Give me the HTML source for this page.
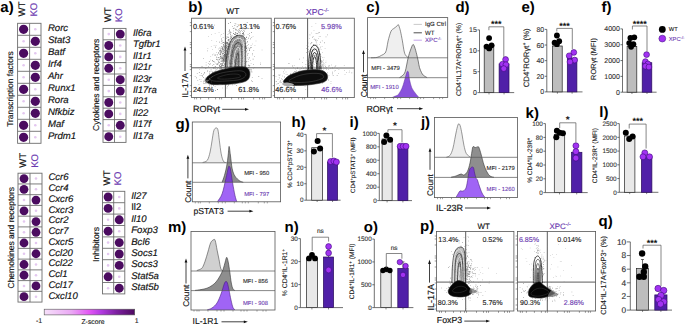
<!DOCTYPE html>
<html><head><meta charset="utf-8"><style>
html,body{margin:0;padding:0;background:#fff;width:685px;height:325px;overflow:hidden;}
svg{display:block;font-family:"Liberation Sans", sans-serif;text-rendering:geometricPrecision;}
</style></head><body>
<svg width="685" height="325" viewBox="0 0 685 325">
<rect width="685" height="325" fill="#fff"/>
<text x="0.3" y="11.6" font-size="15" fill="#000" font-weight="bold">a)</text>
<rect x="17.6" y="23.3" width="23.4" height="120" fill="#fff" stroke="#6e6e6e" stroke-width="0.9"/>
<line x1="29.6" y1="23.3" x2="29.6" y2="143.3" stroke="#6e6e6e" stroke-width="0.9"/>
<line x1="17.6" y1="35.3" x2="41" y2="35.3" stroke="#6e6e6e" stroke-width="0.9"/>
<line x1="17.6" y1="47.3" x2="41" y2="47.3" stroke="#6e6e6e" stroke-width="0.9"/>
<line x1="17.6" y1="59.3" x2="41" y2="59.3" stroke="#6e6e6e" stroke-width="0.9"/>
<line x1="17.6" y1="71.3" x2="41" y2="71.3" stroke="#6e6e6e" stroke-width="0.9"/>
<line x1="17.6" y1="83.3" x2="41" y2="83.3" stroke="#6e6e6e" stroke-width="0.9"/>
<line x1="17.6" y1="95.3" x2="41" y2="95.3" stroke="#6e6e6e" stroke-width="0.9"/>
<line x1="17.6" y1="107.3" x2="41" y2="107.3" stroke="#6e6e6e" stroke-width="0.9"/>
<line x1="17.6" y1="119.3" x2="41" y2="119.3" stroke="#6e6e6e" stroke-width="0.9"/>
<line x1="17.6" y1="131.3" x2="41" y2="131.3" stroke="#6e6e6e" stroke-width="0.9"/>
<circle cx="23.6" cy="29.3" r="4.6" fill="#4b0c60"/>
<circle cx="35.3" cy="29.3" r="1.3" fill="#e4c8f0"/>
<text x="47.9" y="31.2" font-size="9.6" fill="#111" font-style="italic" stroke="#111" stroke-width="0.1632">Rorc</text>
<circle cx="35.3" cy="41.3" r="4.6" fill="#4b0c60"/>
<circle cx="23.6" cy="41.3" r="1.3" fill="#e4c8f0"/>
<text x="47.9" y="43.2" font-size="9.6" fill="#111" font-style="italic" stroke="#111" stroke-width="0.1632">Stat3</text>
<circle cx="23.6" cy="53.3" r="4.6" fill="#4b0c60"/>
<circle cx="35.3" cy="53.3" r="1.3" fill="#e4c8f0"/>
<text x="47.9" y="55.2" font-size="9.6" fill="#111" font-style="italic" stroke="#111" stroke-width="0.1632">Batf</text>
<circle cx="35.3" cy="65.3" r="4.6" fill="#4b0c60"/>
<circle cx="23.6" cy="65.3" r="1.3" fill="#e4c8f0"/>
<text x="47.9" y="67.2" font-size="9.6" fill="#111" font-style="italic" stroke="#111" stroke-width="0.1632">Irf4</text>
<circle cx="35.3" cy="77.3" r="4.6" fill="#4b0c60"/>
<circle cx="23.6" cy="77.3" r="1.3" fill="#e4c8f0"/>
<text x="47.9" y="79.2" font-size="9.6" fill="#111" font-style="italic" stroke="#111" stroke-width="0.1632">Ahr</text>
<circle cx="23.6" cy="89.3" r="4.6" fill="#4b0c60"/>
<circle cx="35.3" cy="89.3" r="1.3" fill="#e4c8f0"/>
<text x="47.9" y="91.2" font-size="9.6" fill="#111" font-style="italic" stroke="#111" stroke-width="0.1632">Runx1</text>
<circle cx="35.3" cy="101.3" r="4.6" fill="#4b0c60"/>
<circle cx="23.6" cy="101.3" r="1.3" fill="#e4c8f0"/>
<text x="47.9" y="103.2" font-size="9.6" fill="#111" font-style="italic" stroke="#111" stroke-width="0.1632">Rora</text>
<circle cx="35.3" cy="113.3" r="4.6" fill="#4b0c60"/>
<circle cx="23.6" cy="113.3" r="1.3" fill="#e4c8f0"/>
<text x="47.9" y="115.2" font-size="9.6" fill="#111" font-style="italic" stroke="#111" stroke-width="0.1632">Nfkbiz</text>
<circle cx="23.6" cy="125.3" r="4.6" fill="#4b0c60"/>
<circle cx="35.3" cy="125.3" r="1.3" fill="#e4c8f0"/>
<text x="47.9" y="127.2" font-size="9.6" fill="#111" font-style="italic" stroke="#111" stroke-width="0.1632">Maf</text>
<circle cx="23.6" cy="137.3" r="4.6" fill="#4b0c60"/>
<circle cx="35.3" cy="137.3" r="1.3" fill="#e4c8f0"/>
<text x="47.9" y="139.2" font-size="9.6" fill="#111" font-style="italic" stroke="#111" stroke-width="0.1632">Prdm1</text>
<text transform="translate(25.1,16.6) rotate(-90)" font-size="9.6" fill="#111" stroke="#111" stroke-width="0.1632">WT</text>
<text transform="translate(37.2,16.6) rotate(-90)" font-size="9.6" fill="#6a38b0" stroke="#6a38b0" stroke-width="0.1632">KO</text>
<text transform="translate(12.9,89) rotate(-90)" font-size="8.4" fill="#111" text-anchor="middle" stroke="#111" stroke-width="0.1428">Transcription factors</text>
<rect x="103" y="28.4" width="23" height="114" fill="#fff" stroke="#6e6e6e" stroke-width="0.9"/>
<line x1="114.5" y1="28.4" x2="114.5" y2="142.4" stroke="#6e6e6e" stroke-width="0.9"/>
<line x1="103" y1="39.8" x2="126" y2="39.8" stroke="#6e6e6e" stroke-width="0.9"/>
<line x1="103" y1="51.2" x2="126" y2="51.2" stroke="#6e6e6e" stroke-width="0.9"/>
<line x1="103" y1="62.6" x2="126" y2="62.6" stroke="#6e6e6e" stroke-width="0.9"/>
<line x1="103" y1="74" x2="126" y2="74" stroke="#6e6e6e" stroke-width="0.9"/>
<line x1="103" y1="85.4" x2="126" y2="85.4" stroke="#6e6e6e" stroke-width="0.9"/>
<line x1="103" y1="96.8" x2="126" y2="96.8" stroke="#6e6e6e" stroke-width="0.9"/>
<line x1="103" y1="108.2" x2="126" y2="108.2" stroke="#6e6e6e" stroke-width="0.9"/>
<line x1="103" y1="119.6" x2="126" y2="119.6" stroke="#6e6e6e" stroke-width="0.9"/>
<line x1="103" y1="131" x2="126" y2="131" stroke="#6e6e6e" stroke-width="0.9"/>
<circle cx="120.25" cy="34.1" r="4.45" fill="#4b0c60"/>
<circle cx="108.75" cy="34.1" r="1.3" fill="#e4c8f0"/>
<text x="132.9" y="36" font-size="9.6" fill="#111" font-style="italic" stroke="#111" stroke-width="0.1632">Il6ra</text>
<circle cx="108.75" cy="45.5" r="4.45" fill="#4b0c60"/>
<circle cx="120.25" cy="45.5" r="1.3" fill="#e4c8f0"/>
<text x="132.9" y="47.4" font-size="9.6" fill="#111" font-style="italic" stroke="#111" stroke-width="0.1632">Tgfbr1</text>
<circle cx="108.75" cy="56.9" r="4.45" fill="#4b0c60"/>
<circle cx="120.25" cy="56.9" r="1.3" fill="#e4c8f0"/>
<text x="132.9" y="58.8" font-size="9.6" fill="#111" font-style="italic" stroke="#111" stroke-width="0.1632">Il1r1</text>
<circle cx="108.75" cy="68.3" r="4.45" fill="#4b0c60"/>
<circle cx="120.25" cy="68.3" r="1.3" fill="#e4c8f0"/>
<text x="132.9" y="70.2" font-size="9.6" fill="#111" font-style="italic" stroke="#111" stroke-width="0.1632">Il21r</text>
<circle cx="120.25" cy="79.7" r="4.45" fill="#4b0c60"/>
<circle cx="108.75" cy="79.7" r="1.3" fill="#e4c8f0"/>
<text x="132.9" y="81.6" font-size="9.6" fill="#111" font-style="italic" stroke="#111" stroke-width="0.1632">Il23r</text>
<circle cx="120.25" cy="91.1" r="4.45" fill="#4b0c60"/>
<circle cx="108.75" cy="91.1" r="1.3" fill="#e4c8f0"/>
<text x="132.9" y="93" font-size="9.6" fill="#111" font-style="italic" stroke="#111" stroke-width="0.1632">Il17ra</text>
<circle cx="108.75" cy="102.5" r="4.45" fill="#4b0c60"/>
<circle cx="120.25" cy="102.5" r="1.3" fill="#e4c8f0"/>
<text x="132.9" y="104.4" font-size="9.6" fill="#111" font-style="italic" stroke="#111" stroke-width="0.1632">Il21</text>
<circle cx="108.75" cy="113.9" r="4.45" fill="#4b0c60"/>
<circle cx="120.25" cy="113.9" r="1.3" fill="#e4c8f0"/>
<text x="132.9" y="115.8" font-size="9.6" fill="#111" font-style="italic" stroke="#111" stroke-width="0.1632">Il22</text>
<circle cx="120.25" cy="125.3" r="4.45" fill="#4b0c60"/>
<circle cx="108.75" cy="125.3" r="1.3" fill="#e4c8f0"/>
<text x="132.9" y="127.2" font-size="9.6" fill="#111" font-style="italic" stroke="#111" stroke-width="0.1632">Il17f</text>
<circle cx="108.75" cy="136.7" r="4.45" fill="#4b0c60"/>
<circle cx="120.25" cy="136.7" r="1.3" fill="#e4c8f0"/>
<text x="132.9" y="138.6" font-size="9.6" fill="#111" font-style="italic" stroke="#111" stroke-width="0.1632">Il17a</text>
<text transform="translate(110.5,22.2) rotate(-90)" font-size="9.6" fill="#111" stroke="#111" stroke-width="0.1632">WT</text>
<text transform="translate(122.1,22.2) rotate(-90)" font-size="9.6" fill="#6a38b0" stroke="#6a38b0" stroke-width="0.1632">KO</text>
<text transform="translate(98.5,84.8) rotate(-90)" font-size="8.55" fill="#111" text-anchor="middle" stroke="#111" stroke-width="0.14535000000000003">Cytokines and receptors</text>
<rect x="18" y="173.2" width="24" height="128.88" fill="#fff" stroke="#6e6e6e" stroke-width="0.9"/>
<line x1="30" y1="173.2" x2="30" y2="302.08" stroke="#6e6e6e" stroke-width="0.9"/>
<line x1="18" y1="183.94" x2="42" y2="183.94" stroke="#6e6e6e" stroke-width="0.9"/>
<line x1="18" y1="194.68" x2="42" y2="194.68" stroke="#6e6e6e" stroke-width="0.9"/>
<line x1="18" y1="205.42" x2="42" y2="205.42" stroke="#6e6e6e" stroke-width="0.9"/>
<line x1="18" y1="216.16" x2="42" y2="216.16" stroke="#6e6e6e" stroke-width="0.9"/>
<line x1="18" y1="226.9" x2="42" y2="226.9" stroke="#6e6e6e" stroke-width="0.9"/>
<line x1="18" y1="237.64" x2="42" y2="237.64" stroke="#6e6e6e" stroke-width="0.9"/>
<line x1="18" y1="248.38" x2="42" y2="248.38" stroke="#6e6e6e" stroke-width="0.9"/>
<line x1="18" y1="259.12" x2="42" y2="259.12" stroke="#6e6e6e" stroke-width="0.9"/>
<line x1="18" y1="269.86" x2="42" y2="269.86" stroke="#6e6e6e" stroke-width="0.9"/>
<line x1="18" y1="280.6" x2="42" y2="280.6" stroke="#6e6e6e" stroke-width="0.9"/>
<line x1="18" y1="291.34" x2="42" y2="291.34" stroke="#6e6e6e" stroke-width="0.9"/>
<circle cx="24" cy="178.57" r="4.4" fill="#4b0c60"/>
<circle cx="36" cy="178.57" r="1.3" fill="#e4c8f0"/>
<text x="48.4" y="180.47" font-size="9.6" fill="#111" font-style="italic" stroke="#111" stroke-width="0.1632">Ccr6</text>
<circle cx="24" cy="189.31" r="4.4" fill="#4b0c60"/>
<circle cx="36" cy="189.31" r="1.3" fill="#e4c8f0"/>
<text x="48.4" y="191.21" font-size="9.6" fill="#111" font-style="italic" stroke="#111" stroke-width="0.1632">Ccr4</text>
<circle cx="36" cy="200.05" r="4.4" fill="#4b0c60"/>
<circle cx="24" cy="200.05" r="1.3" fill="#e4c8f0"/>
<text x="48.4" y="201.95" font-size="9.6" fill="#111" font-style="italic" stroke="#111" stroke-width="0.1632">Cxcr6</text>
<circle cx="24" cy="210.79" r="4.4" fill="#4b0c60"/>
<circle cx="36" cy="210.79" r="1.3" fill="#e4c8f0"/>
<text x="48.4" y="212.69" font-size="9.6" fill="#111" font-style="italic" stroke="#111" stroke-width="0.1632">Cxcr3</text>
<circle cx="36" cy="221.53" r="4.4" fill="#4b0c60"/>
<circle cx="24" cy="221.53" r="1.3" fill="#e4c8f0"/>
<text x="48.4" y="223.43" font-size="9.6" fill="#111" font-style="italic" stroke="#111" stroke-width="0.1632">Ccr2</text>
<circle cx="36" cy="232.27" r="4.4" fill="#4b0c60"/>
<circle cx="24" cy="232.27" r="1.3" fill="#e4c8f0"/>
<text x="48.4" y="234.17" font-size="9.6" fill="#111" font-style="italic" stroke="#111" stroke-width="0.1632">Ccr7</text>
<circle cx="24" cy="243.01" r="4.4" fill="#4b0c60"/>
<circle cx="36" cy="243.01" r="1.3" fill="#e4c8f0"/>
<text x="48.4" y="244.91" font-size="9.6" fill="#111" font-style="italic" stroke="#111" stroke-width="0.1632">Cxcr5</text>
<circle cx="36" cy="253.75" r="4.4" fill="#4b0c60"/>
<circle cx="24" cy="253.75" r="1.3" fill="#e4c8f0"/>
<text x="48.4" y="255.65" font-size="9.6" fill="#111" font-style="italic" stroke="#111" stroke-width="0.1632">Ccl20</text>
<circle cx="24" cy="264.49" r="4.4" fill="#4b0c60"/>
<circle cx="36" cy="264.49" r="1.3" fill="#e4c8f0"/>
<text x="48.4" y="266.39" font-size="9.6" fill="#111" font-style="italic" stroke="#111" stroke-width="0.1632">Ccl22</text>
<circle cx="24" cy="275.23" r="4.4" fill="#4b0c60"/>
<circle cx="36" cy="275.23" r="1.3" fill="#e4c8f0"/>
<text x="48.4" y="277.13" font-size="9.6" fill="#111" font-style="italic" stroke="#111" stroke-width="0.1632">Ccl1</text>
<circle cx="36" cy="285.97" r="4.4" fill="#4b0c60"/>
<circle cx="24" cy="285.97" r="1.3" fill="#e4c8f0"/>
<text x="48.4" y="287.87" font-size="9.6" fill="#111" font-style="italic" stroke="#111" stroke-width="0.1632">Ccl17</text>
<circle cx="24" cy="296.71" r="4.4" fill="#4b0c60"/>
<circle cx="36" cy="296.71" r="1.3" fill="#e4c8f0"/>
<text x="48.4" y="298.61" font-size="9.6" fill="#111" font-style="italic" stroke="#111" stroke-width="0.1632">Cxcl10</text>
<text transform="translate(25.5,167.8) rotate(-90)" font-size="9.6" fill="#111" stroke="#111" stroke-width="0.1632">WT</text>
<text transform="translate(37.6,167.8) rotate(-90)" font-size="9.6" fill="#6a38b0" stroke="#6a38b0" stroke-width="0.1632">KO</text>
<text transform="translate(14.2,237.7) rotate(-90)" font-size="8.5" fill="#111" text-anchor="middle" stroke="#111" stroke-width="0.14450000000000002">Chemokines and receptors</text>
<rect x="102.5" y="191.3" width="22.3" height="102.6" fill="#fff" stroke="#6e6e6e" stroke-width="0.9"/>
<line x1="113.7" y1="191.3" x2="113.7" y2="293.9" stroke="#6e6e6e" stroke-width="0.9"/>
<line x1="102.5" y1="202.7" x2="124.8" y2="202.7" stroke="#6e6e6e" stroke-width="0.9"/>
<line x1="102.5" y1="214.1" x2="124.8" y2="214.1" stroke="#6e6e6e" stroke-width="0.9"/>
<line x1="102.5" y1="225.5" x2="124.8" y2="225.5" stroke="#6e6e6e" stroke-width="0.9"/>
<line x1="102.5" y1="236.9" x2="124.8" y2="236.9" stroke="#6e6e6e" stroke-width="0.9"/>
<line x1="102.5" y1="248.3" x2="124.8" y2="248.3" stroke="#6e6e6e" stroke-width="0.9"/>
<line x1="102.5" y1="259.7" x2="124.8" y2="259.7" stroke="#6e6e6e" stroke-width="0.9"/>
<line x1="102.5" y1="271.1" x2="124.8" y2="271.1" stroke="#6e6e6e" stroke-width="0.9"/>
<line x1="102.5" y1="282.5" x2="124.8" y2="282.5" stroke="#6e6e6e" stroke-width="0.9"/>
<circle cx="108.1" cy="197" r="4.45" fill="#4b0c60"/>
<circle cx="119.25" cy="197" r="1.3" fill="#e4c8f0"/>
<text x="131.2" y="198.9" font-size="9.6" fill="#111" font-style="italic" stroke="#111" stroke-width="0.1632">Il27</text>
<circle cx="108.1" cy="208.4" r="4.45" fill="#4b0c60"/>
<circle cx="119.25" cy="208.4" r="1.3" fill="#e4c8f0"/>
<text x="131.2" y="210.3" font-size="9.6" fill="#111" stroke="#111" stroke-width="0.1632">Il2</text>
<circle cx="119.25" cy="219.8" r="4.45" fill="#4b0c60"/>
<circle cx="108.1" cy="219.8" r="1.3" fill="#e4c8f0"/>
<text x="131.2" y="221.7" font-size="9.6" fill="#111" font-style="italic" stroke="#111" stroke-width="0.1632">Il10</text>
<circle cx="108.1" cy="231.2" r="4.45" fill="#4b0c60"/>
<circle cx="119.25" cy="231.2" r="1.3" fill="#e4c8f0"/>
<text x="131.2" y="233.1" font-size="9.6" fill="#111" font-style="italic" stroke="#111" stroke-width="0.1632">Foxp3</text>
<circle cx="119.25" cy="242.6" r="4.45" fill="#4b0c60"/>
<circle cx="108.1" cy="242.6" r="1.3" fill="#e4c8f0"/>
<text x="131.2" y="244.5" font-size="9.6" fill="#111" font-style="italic" stroke="#111" stroke-width="0.1632">Bcl6</text>
<circle cx="119.25" cy="254" r="4.45" fill="#4b0c60"/>
<circle cx="108.1" cy="254" r="1.3" fill="#e4c8f0"/>
<text x="131.2" y="255.9" font-size="9.6" fill="#111" font-style="italic" stroke="#111" stroke-width="0.1632">Socs1</text>
<circle cx="119.25" cy="265.4" r="4.45" fill="#4b0c60"/>
<circle cx="108.1" cy="265.4" r="1.3" fill="#e4c8f0"/>
<text x="131.2" y="267.3" font-size="9.6" fill="#111" font-style="italic" stroke="#111" stroke-width="0.1632">Socs3</text>
<circle cx="108.1" cy="276.8" r="4.45" fill="#4b0c60"/>
<circle cx="119.25" cy="276.8" r="1.3" fill="#e4c8f0"/>
<text x="131.2" y="278.7" font-size="9.6" fill="#111" font-style="italic" stroke="#111" stroke-width="0.1632">Stat5a</text>
<circle cx="119.25" cy="288.2" r="4.45" fill="#4b0c60"/>
<circle cx="108.1" cy="288.2" r="1.3" fill="#e4c8f0"/>
<text x="131.2" y="290.1" font-size="9.6" fill="#111" font-style="italic" stroke="#111" stroke-width="0.1632">Stat5b</text>
<text transform="translate(110,185.4) rotate(-90)" font-size="9.6" fill="#111" stroke="#111" stroke-width="0.1632">WT</text>
<text transform="translate(121.3,185.4) rotate(-90)" font-size="9.6" fill="#6a38b0" stroke="#6a38b0" stroke-width="0.1632">KO</text>
<text transform="translate(98.6,244.5) rotate(-90)" font-size="8.6" fill="#111" text-anchor="middle" stroke="#111" stroke-width="0.1462">Inhibitors</text>
<defs><linearGradient id="zg" x1="0" x2="1" y1="0" y2="0"><stop offset="0" stop-color="#f6e0fa"/><stop offset="0.3" stop-color="#eaa8f4"/><stop offset="0.5" stop-color="#e256f4"/><stop offset="0.62" stop-color="#b53ce4"/><stop offset="0.8" stop-color="#7c20a0"/><stop offset="1" stop-color="#4e0a60"/></linearGradient></defs>
<rect x="44.2" y="309.2" width="90.5" height="5.7" fill="url(#zg)" stroke="#555" stroke-width="0.6"/>
<text x="36" y="322.8" font-size="7" fill="#222" stroke="#222" stroke-width="0.11900000000000001">-1</text>
<text x="93" y="323.6" font-size="6.8" fill="#222" text-anchor="middle" stroke="#222" stroke-width="0.11560000000000001">Z-score</text>
<text x="134.8" y="322.8" font-size="7" fill="#222" stroke="#222" stroke-width="0.11900000000000001">1</text>
<text x="188.3" y="11.7" font-size="15" fill="#000" font-weight="bold">b)</text>
<text x="232.8" y="14.4" font-size="8.4" fill="#111" text-anchor="middle" stroke="#111" stroke-width="0.1428">WT</text>
<text x="306" y="14.8" font-size="8.6" fill="#6a38b0" stroke="#6a38b0" stroke-width="0.1462">XPC<tspan baseline-shift="super" font-size="5.5">-/-</tspan></text>
<line x1="225.4" y1="18.2" x2="225.4" y2="97.6" stroke="#4a4a4a" stroke-width="0.9"/>
<line x1="191.6" y1="67.8" x2="271.2" y2="67.8" stroke="#4a4a4a" stroke-width="0.9"/>
<path d="M230.64,53.78h0.6v0.6h-0.6zM242.3,44.66h0.6v0.6h-0.6zM230.41,48.88h0.6v0.6h-0.6zM238.66,62.2h0.6v0.6h-0.6zM231.78,35.44h0.6v0.6h-0.6zM240.21,55.42h0.6v0.6h-0.6zM244.01,61.25h0.6v0.6h-0.6zM236.67,46.96h0.6v0.6h-0.6zM250.02,47.6h0.6v0.6h-0.6zM233.83,37.27h0.6v0.6h-0.6zM237.38,51.62h0.6v0.6h-0.6zM235.32,49.21h0.6v0.6h-0.6zM237.91,57.68h0.6v0.6h-0.6zM242.34,52.63h0.6v0.6h-0.6zM227.6,57.17h0.6v0.6h-0.6zM230.03,47.69h0.6v0.6h-0.6zM229.64,49.58h0.6v0.6h-0.6zM232.97,52.12h0.6v0.6h-0.6zM253.5,50.46h0.6v0.6h-0.6zM242.08,35.72h0.6v0.6h-0.6zM235.13,57.19h0.6v0.6h-0.6zM236.29,54.04h0.6v0.6h-0.6zM238.18,38.98h0.6v0.6h-0.6zM240.35,41.25h0.6v0.6h-0.6zM246.68,45.01h0.6v0.6h-0.6zM240.42,50.23h0.6v0.6h-0.6zM242.15,43.67h0.6v0.6h-0.6zM242.07,48.94h0.6v0.6h-0.6zM242.89,57.23h0.6v0.6h-0.6zM238.22,41.47h0.6v0.6h-0.6zM240.52,55.37h0.6v0.6h-0.6zM245.44,46.35h0.6v0.6h-0.6zM239.43,55.74h0.6v0.6h-0.6zM238.27,52.37h0.6v0.6h-0.6zM238.3,43.48h0.6v0.6h-0.6zM232.2,45.34h0.6v0.6h-0.6zM238.95,66.77h0.6v0.6h-0.6zM241.18,61.86h0.6v0.6h-0.6zM240.42,57.9h0.6v0.6h-0.6zM237.41,58.53h0.6v0.6h-0.6zM246.07,46.93h0.6v0.6h-0.6zM232.24,71.31h0.6v0.6h-0.6zM237.58,60.73h0.6v0.6h-0.6zM242.11,37.79h0.6v0.6h-0.6zM247.97,70.23h0.6v0.6h-0.6zM237.39,58.32h0.6v0.6h-0.6zM238.22,40.33h0.6v0.6h-0.6zM236.19,54.07h0.6v0.6h-0.6zM242.1,58.12h0.6v0.6h-0.6zM236.4,64.89h0.6v0.6h-0.6zM232.68,58.48h0.6v0.6h-0.6zM242.74,47.13h0.6v0.6h-0.6zM228.66,39.51h0.6v0.6h-0.6zM237.83,55.87h0.6v0.6h-0.6zM245.39,39.44h0.6v0.6h-0.6zM236.58,57.12h0.6v0.6h-0.6zM237.78,23.93h0.6v0.6h-0.6zM239.5,75.63h0.6v0.6h-0.6zM242.62,40.23h0.6v0.6h-0.6zM234.8,52.31h0.6v0.6h-0.6zM249.02,57.53h0.6v0.6h-0.6zM236.54,67.14h0.6v0.6h-0.6zM235.36,70.41h0.6v0.6h-0.6zM233.89,44.58h0.6v0.6h-0.6zM239.66,65.86h0.6v0.6h-0.6zM240.06,53.51h0.6v0.6h-0.6zM228.38,41.63h0.6v0.6h-0.6zM234.3,43.96h0.6v0.6h-0.6zM240.15,46.5h0.6v0.6h-0.6zM240.88,51.14h0.6v0.6h-0.6zM235.26,51.2h0.6v0.6h-0.6zM238.57,59.55h0.6v0.6h-0.6zM234.77,47.3h0.6v0.6h-0.6zM229.14,67.2h0.6v0.6h-0.6zM244.36,48.47h0.6v0.6h-0.6zM235.43,36.29h0.6v0.6h-0.6zM237.71,52.32h0.6v0.6h-0.6zM247.73,53.36h0.6v0.6h-0.6zM234.73,22.92h0.6v0.6h-0.6zM243.91,52.5h0.6v0.6h-0.6zM228.85,51.5h0.6v0.6h-0.6zM226.68,87.73h0.6v0.6h-0.6zM242.21,56.62h0.6v0.6h-0.6zM237.54,26.45h0.6v0.6h-0.6zM237.39,32.89h0.6v0.6h-0.6zM241.39,26.69h0.6v0.6h-0.6zM231.67,63.12h0.6v0.6h-0.6zM245.98,37.52h0.6v0.6h-0.6zM228.76,59.2h0.6v0.6h-0.6zM241.91,39.42h0.6v0.6h-0.6zM233.99,42.17h0.6v0.6h-0.6zM231.51,42.17h0.6v0.6h-0.6zM242.79,57.95h0.6v0.6h-0.6zM247.32,49.67h0.6v0.6h-0.6zM236.97,39.17h0.6v0.6h-0.6zM237.25,35.54h0.6v0.6h-0.6zM227.67,57.12h0.6v0.6h-0.6zM243.64,59.62h0.6v0.6h-0.6zM243.48,53.17h0.6v0.6h-0.6zM233.36,50.73h0.6v0.6h-0.6zM235.87,37.68h0.6v0.6h-0.6zM229.53,33.21h0.6v0.6h-0.6zM236.87,51.65h0.6v0.6h-0.6zM233.69,65.55h0.6v0.6h-0.6zM237.51,56.45h0.6v0.6h-0.6zM243.62,41.36h0.6v0.6h-0.6zM226.67,57.67h0.6v0.6h-0.6zM232.7,64.19h0.6v0.6h-0.6zM238.02,61.15h0.6v0.6h-0.6zM242.18,27.38h0.6v0.6h-0.6zM241.03,42.82h0.6v0.6h-0.6zM233.51,45h0.6v0.6h-0.6zM240.25,59.94h0.6v0.6h-0.6zM243.14,32.08h0.6v0.6h-0.6zM235.62,23.74h0.6v0.6h-0.6zM236.1,56.56h0.6v0.6h-0.6zM233.03,52.46h0.6v0.6h-0.6zM237.49,61.13h0.6v0.6h-0.6zM233.45,40.65h0.6v0.6h-0.6zM232.03,69.01h0.6v0.6h-0.6zM242.52,48.97h0.6v0.6h-0.6zM238.05,51.32h0.6v0.6h-0.6zM238.15,47.77h0.6v0.6h-0.6zM236.16,36.1h0.6v0.6h-0.6zM232.71,67.93h0.6v0.6h-0.6zM239.64,50.87h0.6v0.6h-0.6zM235.89,50.62h0.6v0.6h-0.6zM239.19,43.01h0.6v0.6h-0.6zM237.82,52.69h0.6v0.6h-0.6zM233.78,41.11h0.6v0.6h-0.6zM232.72,38.02h0.6v0.6h-0.6zM243,24.35h0.6v0.6h-0.6zM236.07,43.21h0.6v0.6h-0.6zM233.84,50.89h0.6v0.6h-0.6zM242.58,51.18h0.6v0.6h-0.6zM236.7,43.23h0.6v0.6h-0.6zM235.75,59.98h0.6v0.6h-0.6zM235.79,37.29h0.6v0.6h-0.6zM231.42,37.47h0.6v0.6h-0.6zM229.34,61.65h0.6v0.6h-0.6zM238.93,47.5h0.6v0.6h-0.6zM244.72,43.21h0.6v0.6h-0.6zM240.23,59.02h0.6v0.6h-0.6zM230.31,32.44h0.6v0.6h-0.6zM231.77,59.68h0.6v0.6h-0.6zM244.28,36.91h0.6v0.6h-0.6zM242.49,46.11h0.6v0.6h-0.6zM235.4,43.83h0.6v0.6h-0.6zM236.58,29.94h0.6v0.6h-0.6zM232.82,36.13h0.6v0.6h-0.6zM238.07,73.09h0.6v0.6h-0.6zM250.86,47.12h0.6v0.6h-0.6zM228.68,45.01h0.6v0.6h-0.6zM231,71.5h0.6v0.6h-0.6zM240.33,42.17h0.6v0.6h-0.6zM241.32,56.16h0.6v0.6h-0.6zM229.24,43.68h0.6v0.6h-0.6zM235.79,50.14h0.6v0.6h-0.6zM237.88,46.32h0.6v0.6h-0.6zM238.33,43.62h0.6v0.6h-0.6zM231.53,66.38h0.6v0.6h-0.6zM238.51,54.92h0.6v0.6h-0.6zM229.15,47.7h0.6v0.6h-0.6zM241.94,36.07h0.6v0.6h-0.6zM242.74,46.05h0.6v0.6h-0.6zM239.1,48.66h0.6v0.6h-0.6zM237.3,63.28h0.6v0.6h-0.6zM233.95,67.06h0.6v0.6h-0.6zM233.71,39.54h0.6v0.6h-0.6zM241.25,38.51h0.6v0.6h-0.6zM234.55,59.85h0.6v0.6h-0.6zM244.21,30.87h0.6v0.6h-0.6zM238.28,70.84h0.6v0.6h-0.6zM243.12,47.72h0.6v0.6h-0.6zM234.2,46.56h0.6v0.6h-0.6zM231.42,46.75h0.6v0.6h-0.6zM236.16,48.34h0.6v0.6h-0.6zM243.05,47.83h0.6v0.6h-0.6zM229.03,61.1h0.6v0.6h-0.6zM231.94,44.77h0.6v0.6h-0.6zM236.56,46.18h0.6v0.6h-0.6zM232.16,46.97h0.6v0.6h-0.6zM248.3,43.99h0.6v0.6h-0.6zM235.58,62.3h0.6v0.6h-0.6zM240.21,58.6h0.6v0.6h-0.6zM242.6,28.65h0.6v0.6h-0.6zM232.6,51.15h0.6v0.6h-0.6zM238.64,64.36h0.6v0.6h-0.6zM239.5,47.52h0.6v0.6h-0.6zM237.34,47.69h0.6v0.6h-0.6zM237.79,57.48h0.6v0.6h-0.6zM235.84,40.96h0.6v0.6h-0.6zM232.01,61.79h0.6v0.6h-0.6zM242.74,61.28h0.6v0.6h-0.6zM240.73,59.41h0.6v0.6h-0.6zM236.55,57.29h0.6v0.6h-0.6zM231.88,47.45h0.6v0.6h-0.6zM232.86,57.76h0.6v0.6h-0.6zM234.18,48.64h0.6v0.6h-0.6zM238.1,65h0.6v0.6h-0.6zM233.67,39.45h0.6v0.6h-0.6zM241.81,38.1h0.6v0.6h-0.6zM239.63,43.88h0.6v0.6h-0.6zM237.67,29.97h0.6v0.6h-0.6zM240.89,44.72h0.6v0.6h-0.6zM231.14,72.54h0.6v0.6h-0.6zM238.24,88.74h0.6v0.6h-0.6zM239.27,46.3h0.6v0.6h-0.6zM236.48,67.68h0.6v0.6h-0.6zM236.57,54.94h0.6v0.6h-0.6zM240.18,40.16h0.6v0.6h-0.6zM237.97,44.52h0.6v0.6h-0.6zM230.21,59.2h0.6v0.6h-0.6zM240.27,51.02h0.6v0.6h-0.6zM233.79,27.7h0.6v0.6h-0.6zM239.49,49.07h0.6v0.6h-0.6zM228.64,48.83h0.6v0.6h-0.6zM229.43,49.25h0.6v0.6h-0.6zM237.48,53.94h0.6v0.6h-0.6zM237.97,51.94h0.6v0.6h-0.6zM231.56,45.45h0.6v0.6h-0.6zM234.6,47.26h0.6v0.6h-0.6zM237.94,56.88h0.6v0.6h-0.6zM246.85,22.29h0.6v0.6h-0.6zM239.13,47.94h0.6v0.6h-0.6zM247.74,60.93h0.6v0.6h-0.6zM228.48,53.91h0.6v0.6h-0.6zM233.75,60.75h0.6v0.6h-0.6zM231.8,48.57h0.6v0.6h-0.6zM236.41,48.9h0.6v0.6h-0.6zM235.3,29.64h0.6v0.6h-0.6zM238.64,61.11h0.6v0.6h-0.6zM237.33,38.81h0.6v0.6h-0.6zM237.64,56.27h0.6v0.6h-0.6zM236.13,49.79h0.6v0.6h-0.6zM244.77,38.14h0.6v0.6h-0.6zM235.47,28.91h0.6v0.6h-0.6zM233.99,41.67h0.6v0.6h-0.6zM232.67,42.09h0.6v0.6h-0.6zM246.1,48.38h0.6v0.6h-0.6zM234.98,74.1h0.6v0.6h-0.6zM237.84,30.94h0.6v0.6h-0.6zM239.63,39.83h0.6v0.6h-0.6zM246,36.81h0.6v0.6h-0.6zM235.16,32.19h0.6v0.6h-0.6zM238.16,38.88h0.6v0.6h-0.6zM236.92,45.84h0.6v0.6h-0.6zM233.32,60.17h0.6v0.6h-0.6zM241.63,50.97h0.6v0.6h-0.6zM233.21,37.98h0.6v0.6h-0.6zM236.77,76.33h0.6v0.6h-0.6zM235.24,41.25h0.6v0.6h-0.6zM234.24,37.76h0.6v0.6h-0.6zM232.28,47.46h0.6v0.6h-0.6zM244.16,50.42h0.6v0.6h-0.6zM235.52,32.11h0.6v0.6h-0.6zM238.08,49.77h0.6v0.6h-0.6zM231.6,37.7h0.6v0.6h-0.6zM236.12,61.1h0.6v0.6h-0.6zM239.99,52.45h0.6v0.6h-0.6zM235.17,53.42h0.6v0.6h-0.6zM235.51,73.85h0.6v0.6h-0.6zM231.59,45.62h0.6v0.6h-0.6zM243.5,47.46h0.6v0.6h-0.6zM244.14,49.95h0.6v0.6h-0.6zM237.97,45.97h0.6v0.6h-0.6zM230.75,38.93h0.6v0.6h-0.6zM247.63,57.75h0.6v0.6h-0.6zM239.39,60.65h0.6v0.6h-0.6zM239.17,61.39h0.6v0.6h-0.6zM235.82,47.47h0.6v0.6h-0.6zM242.14,46.43h0.6v0.6h-0.6zM230.51,47.12h0.6v0.6h-0.6zM233.88,56.57h0.6v0.6h-0.6zM234.11,38.13h0.6v0.6h-0.6zM234.32,66.95h0.6v0.6h-0.6zM236.65,51.75h0.6v0.6h-0.6zM236.85,53.25h0.6v0.6h-0.6zM240.71,65.6h0.6v0.6h-0.6zM227.9,64.45h0.6v0.6h-0.6zM237.2,46.48h0.6v0.6h-0.6zM249.08,48.86h0.6v0.6h-0.6zM246.07,61.21h0.6v0.6h-0.6zM231.54,55.05h0.6v0.6h-0.6zM240.76,48.84h0.6v0.6h-0.6zM225.61,45.52h0.6v0.6h-0.6zM236.77,37.78h0.6v0.6h-0.6zM246.27,47.86h0.6v0.6h-0.6zM235.23,46.59h0.6v0.6h-0.6zM233.6,41.24h0.6v0.6h-0.6zM237.26,53.47h0.6v0.6h-0.6zM234.53,48.85h0.6v0.6h-0.6zM229.72,55.31h0.6v0.6h-0.6zM233.12,52.14h0.6v0.6h-0.6zM232.81,44.07h0.6v0.6h-0.6zM238.87,36.77h0.6v0.6h-0.6zM249.35,50.34h0.6v0.6h-0.6zM237.12,41.91h0.6v0.6h-0.6zM244.05,65.7h0.6v0.6h-0.6zM239.4,35.07h0.6v0.6h-0.6zM234.08,56.61h0.6v0.6h-0.6zM235.23,36.84h0.6v0.6h-0.6zM231.58,41.17h0.6v0.6h-0.6zM237.5,42.88h0.6v0.6h-0.6zM235.25,80.66h0.6v0.6h-0.6zM246.53,39.14h0.6v0.6h-0.6zM238.66,51.06h0.6v0.6h-0.6zM235.62,61.41h0.6v0.6h-0.6zM235.56,46.33h0.6v0.6h-0.6zM235.2,48.79h0.6v0.6h-0.6zM242.91,58.91h0.6v0.6h-0.6zM230.6,44.75h0.6v0.6h-0.6zM232.48,58.72h0.6v0.6h-0.6zM237.53,59.84h0.6v0.6h-0.6zM237.95,29.02h0.6v0.6h-0.6zM239.1,52.63h0.6v0.6h-0.6zM240.39,35.85h0.6v0.6h-0.6zM237.86,42.47h0.6v0.6h-0.6zM233.34,53.68h0.6v0.6h-0.6zM239.35,40.31h0.6v0.6h-0.6zM230.09,22.32h0.6v0.6h-0.6zM233.39,62.15h0.6v0.6h-0.6zM238.21,25.26h0.6v0.6h-0.6zM232.42,54.37h0.6v0.6h-0.6zM244.58,63.33h0.6v0.6h-0.6zM238.7,52.27h0.6v0.6h-0.6zM232.01,44.72h0.6v0.6h-0.6zM235.85,41.4h0.6v0.6h-0.6zM237.58,45.71h0.6v0.6h-0.6zM237.74,65.85h0.6v0.6h-0.6zM240.42,54.81h0.6v0.6h-0.6zM236.8,33.24h0.6v0.6h-0.6zM236.07,55.93h0.6v0.6h-0.6zM231.14,63.47h0.6v0.6h-0.6zM235.09,53.98h0.6v0.6h-0.6zM236.19,36.11h0.6v0.6h-0.6zM248.09,37.87h0.6v0.6h-0.6zM241.95,44.17h0.6v0.6h-0.6zM238.92,41.24h0.6v0.6h-0.6zM234.31,59.98h0.6v0.6h-0.6zM247.27,41.29h0.6v0.6h-0.6zM236.43,60.41h0.6v0.6h-0.6zM233.38,57.61h0.6v0.6h-0.6zM232.68,56.4h0.6v0.6h-0.6zM238.38,63.44h0.6v0.6h-0.6zM239.6,37.01h0.6v0.6h-0.6zM241.04,38.1h0.6v0.6h-0.6zM239.75,66.81h0.6v0.6h-0.6zM240.34,44.1h0.6v0.6h-0.6zM242.84,52.2h0.6v0.6h-0.6zM231.02,45.73h0.6v0.6h-0.6zM244.28,47.09h0.6v0.6h-0.6zM237.83,46.27h0.6v0.6h-0.6zM228.92,43.89h0.6v0.6h-0.6zM238.64,52.39h0.6v0.6h-0.6zM237.54,26.51h0.6v0.6h-0.6zM242.62,58.27h0.6v0.6h-0.6zM241.25,64.59h0.6v0.6h-0.6zM235.18,43.23h0.6v0.6h-0.6zM237.47,68.47h0.6v0.6h-0.6zM228.74,46.97h0.6v0.6h-0.6zM233.06,55.93h0.6v0.6h-0.6zM244.5,47.19h0.6v0.6h-0.6zM230.78,50.17h0.6v0.6h-0.6zM236.6,32.97h0.6v0.6h-0.6zM241.76,44.52h0.6v0.6h-0.6zM241.28,35.76h0.6v0.6h-0.6zM243.42,34.5h0.6v0.6h-0.6zM243.45,30.43h0.6v0.6h-0.6zM244.13,46.3h0.6v0.6h-0.6zM229.39,46.95h0.6v0.6h-0.6zM239.34,39.22h0.6v0.6h-0.6zM234.36,52.81h0.6v0.6h-0.6zM234.57,54.56h0.6v0.6h-0.6zM237.82,61.17h0.6v0.6h-0.6zM231.87,77.83h0.6v0.6h-0.6zM240.79,53.67h0.6v0.6h-0.6zM241.79,60.8h0.6v0.6h-0.6zM237.92,43.22h0.6v0.6h-0.6zM241.83,54.95h0.6v0.6h-0.6zM228.28,37.31h0.6v0.6h-0.6zM239.26,51.33h0.6v0.6h-0.6zM237.97,57.13h0.6v0.6h-0.6zM236.68,67.42h0.6v0.6h-0.6zM234.32,45.44h0.6v0.6h-0.6zM238.12,58.28h0.6v0.6h-0.6zM239.95,66.57h0.6v0.6h-0.6zM233.85,62.67h0.6v0.6h-0.6zM240.02,38.69h0.6v0.6h-0.6zM234.94,72.86h0.6v0.6h-0.6zM241.23,45.08h0.6v0.6h-0.6zM225.51,41.21h0.6v0.6h-0.6zM233.44,50.64h0.6v0.6h-0.6zM248.04,58.88h0.6v0.6h-0.6zM239.18,39.83h0.6v0.6h-0.6zM231.22,47.36h0.6v0.6h-0.6zM232.68,82.88h0.6v0.6h-0.6zM235.39,43.12h0.6v0.6h-0.6zM242.58,51.19h0.6v0.6h-0.6zM229.99,63.79h0.6v0.6h-0.6zM236.32,35.32h0.6v0.6h-0.6zM238.28,55.45h0.6v0.6h-0.6zM234.85,57.56h0.6v0.6h-0.6zM241.68,40.56h0.6v0.6h-0.6zM228.31,23.11h0.6v0.6h-0.6zM235.55,63.47h0.6v0.6h-0.6zM241.09,65.58h0.6v0.6h-0.6zM246.25,50.73h0.6v0.6h-0.6zM243.28,33.53h0.6v0.6h-0.6zM240.18,54.52h0.6v0.6h-0.6zM236.82,45.12h0.6v0.6h-0.6zM231.34,51.21h0.6v0.6h-0.6zM243.62,46.35h0.6v0.6h-0.6zM240.09,42.86h0.6v0.6h-0.6zM238.93,39.02h0.6v0.6h-0.6zM239.03,47.72h0.6v0.6h-0.6zM238.97,43.43h0.6v0.6h-0.6zM231.35,46.04h0.6v0.6h-0.6zM241.13,67.65h0.6v0.6h-0.6zM234.85,58.68h0.6v0.6h-0.6zM240.53,54.54h0.6v0.6h-0.6zM229.04,53.09h0.6v0.6h-0.6zM231.39,62.63h0.6v0.6h-0.6zM240.53,57.02h0.6v0.6h-0.6zM223.93,56.06h0.6v0.6h-0.6zM241.34,36.18h0.6v0.6h-0.6zM241.79,51.12h0.6v0.6h-0.6zM236.56,42.11h0.6v0.6h-0.6zM232.2,44.93h0.6v0.6h-0.6zM252.27,53.16h0.6v0.6h-0.6zM238.47,42.95h0.6v0.6h-0.6zM234.28,43.75h0.6v0.6h-0.6zM232,59.35h0.6v0.6h-0.6zM235.08,59.43h0.6v0.6h-0.6zM230.62,59.85h0.6v0.6h-0.6zM236.42,57.32h0.6v0.6h-0.6zM237.07,40.22h0.6v0.6h-0.6zM243.33,45.58h0.6v0.6h-0.6zM236.85,40.23h0.6v0.6h-0.6zM238.28,45.78h0.6v0.6h-0.6zM238.18,53.87h0.6v0.6h-0.6zM234.49,34.31h0.6v0.6h-0.6zM238.55,60.21h0.6v0.6h-0.6zM241.23,37.63h0.6v0.6h-0.6zM239.77,54.4h0.6v0.6h-0.6zM238.13,54.8h0.6v0.6h-0.6zM235.24,52.26h0.6v0.6h-0.6zM241.96,44.73h0.6v0.6h-0.6zM229.88,48.42h0.6v0.6h-0.6zM239.2,29.8h0.6v0.6h-0.6zM233.23,56.27h0.6v0.6h-0.6zM236.19,50.97h0.6v0.6h-0.6zM230.12,59.57h0.6v0.6h-0.6zM245.89,48.33h0.6v0.6h-0.6zM234.11,37.07h0.6v0.6h-0.6zM241.38,51.41h0.6v0.6h-0.6zM232.24,63.09h0.6v0.6h-0.6zM240.42,56.85h0.6v0.6h-0.6zM228.29,48.33h0.6v0.6h-0.6zM240.93,36.74h0.6v0.6h-0.6zM240.69,65.99h0.6v0.6h-0.6zM242.64,42.39h0.6v0.6h-0.6zM232.85,60.13h0.6v0.6h-0.6zM241.15,63.79h0.6v0.6h-0.6zM243.06,49.26h0.6v0.6h-0.6zM236.18,29.51h0.6v0.6h-0.6zM239.41,75.23h0.6v0.6h-0.6zM235,44.64h0.6v0.6h-0.6zM239.99,54.3h0.6v0.6h-0.6zM230.63,41.74h0.6v0.6h-0.6zM230.19,71.87h0.6v0.6h-0.6zM232.86,59.16h0.6v0.6h-0.6zM245.32,71.38h0.6v0.6h-0.6zM243.04,68.32h0.6v0.6h-0.6zM231.06,45.83h0.6v0.6h-0.6zM233.56,46.6h0.6v0.6h-0.6zM251.19,32.35h0.6v0.6h-0.6zM240.6,36.59h0.6v0.6h-0.6zM242.82,64.67h0.6v0.6h-0.6zM233.08,72.57h0.6v0.6h-0.6zM236.51,64.33h0.6v0.6h-0.6zM238.92,43.94h0.6v0.6h-0.6zM235.18,48.59h0.6v0.6h-0.6zM240,51.57h0.6v0.6h-0.6zM248.91,48.59h0.6v0.6h-0.6zM235.14,41.96h0.6v0.6h-0.6zM234.07,33.96h0.6v0.6h-0.6zM231.48,59.66h0.6v0.6h-0.6zM237.41,48.14h0.6v0.6h-0.6zM238.04,61.83h0.6v0.6h-0.6zM239.56,58.67h0.6v0.6h-0.6zM234.38,46.96h0.6v0.6h-0.6zM233.19,48.7h0.6v0.6h-0.6zM233.16,45.67h0.6v0.6h-0.6zM236.27,47.58h0.6v0.6h-0.6zM236,44.52h0.6v0.6h-0.6zM243.76,46.64h0.6v0.6h-0.6zM231.83,51.82h0.6v0.6h-0.6zM232.27,37.89h0.6v0.6h-0.6zM238.52,31.72h0.6v0.6h-0.6zM220.74,52.2h0.6v0.6h-0.6zM243.27,31.96h0.6v0.6h-0.6zM232.14,56.07h0.6v0.6h-0.6zM227.66,39.8h0.6v0.6h-0.6zM231.12,47.46h0.6v0.6h-0.6zM226.56,59.23h0.6v0.6h-0.6zM236.08,53.28h0.6v0.6h-0.6zM236.76,26.61h0.6v0.6h-0.6zM237.12,35.23h0.6v0.6h-0.6zM237.61,40.64h0.6v0.6h-0.6zM235.56,47.59h0.6v0.6h-0.6zM240.35,58.65h0.6v0.6h-0.6zM231.99,49.52h0.6v0.6h-0.6zM243.96,55.86h0.6v0.6h-0.6zM233.44,48.45h0.6v0.6h-0.6zM234.64,60.23h0.6v0.6h-0.6zM236.92,54.13h0.6v0.6h-0.6zM248.95,35.53h0.6v0.6h-0.6zM233.08,30.68h0.6v0.6h-0.6zM228.48,58.94h0.6v0.6h-0.6zM237.38,68h0.6v0.6h-0.6zM227.73,39.73h0.6v0.6h-0.6zM243.53,61.73h0.6v0.6h-0.6zM240.84,59.84h0.6v0.6h-0.6zM237.17,49.9h0.6v0.6h-0.6zM236.6,59.26h0.6v0.6h-0.6zM235.98,53.47h0.6v0.6h-0.6zM245,38.08h0.6v0.6h-0.6zM232.88,55.98h0.6v0.6h-0.6zM235.79,48.2h0.6v0.6h-0.6zM247.2,55.19h0.6v0.6h-0.6zM234.19,61.93h0.6v0.6h-0.6zM250.3,38.57h0.6v0.6h-0.6zM233.58,51.08h0.6v0.6h-0.6zM232.39,73.65h0.6v0.6h-0.6zM239.89,45.78h0.6v0.6h-0.6zM239.97,41.41h0.6v0.6h-0.6zM233.91,50.98h0.6v0.6h-0.6zM250.4,26.01h0.6v0.6h-0.6zM238.21,64.96h0.6v0.6h-0.6zM239.43,71.33h0.6v0.6h-0.6zM239.15,51.74h0.6v0.6h-0.6zM236.91,40.56h0.6v0.6h-0.6zM245.94,37.5h0.6v0.6h-0.6zM236.73,44.21h0.6v0.6h-0.6zM234.55,25.36h0.6v0.6h-0.6zM235,51.39h0.6v0.6h-0.6zM237.16,59.32h0.6v0.6h-0.6zM236.61,42.91h0.6v0.6h-0.6zM238.1,57.39h0.6v0.6h-0.6zM233.49,33.04h0.6v0.6h-0.6zM231.19,61.31h0.6v0.6h-0.6zM242.57,40.57h0.6v0.6h-0.6zM237,59.24h0.6v0.6h-0.6zM244.07,43.17h0.6v0.6h-0.6zM234.87,65.4h0.6v0.6h-0.6zM248.02,67.52h0.6v0.6h-0.6zM231.01,54.59h0.6v0.6h-0.6zM235.55,49.27h0.6v0.6h-0.6zM234.01,44.53h0.6v0.6h-0.6zM235.76,69.8h0.6v0.6h-0.6zM240.21,54.89h0.6v0.6h-0.6zM237.63,41.76h0.6v0.6h-0.6zM235.04,63.54h0.6v0.6h-0.6zM239.85,71.81h0.6v0.6h-0.6zM238.31,49.86h0.6v0.6h-0.6zM228.66,53.88h0.6v0.6h-0.6zM227.39,66.23h0.6v0.6h-0.6zM233.86,49.82h0.6v0.6h-0.6zM230.58,44.15h0.6v0.6h-0.6zM231.61,62.14h0.6v0.6h-0.6zM239.02,37.12h0.6v0.6h-0.6zM227.41,48.67h0.6v0.6h-0.6zM235.3,37.66h0.6v0.6h-0.6zM240.07,48.14h0.6v0.6h-0.6zM237.95,43.55h0.6v0.6h-0.6zM234.46,44.78h0.6v0.6h-0.6zM228.58,56.43h0.6v0.6h-0.6zM240.15,31.2h0.6v0.6h-0.6zM236.75,62.71h0.6v0.6h-0.6zM237.33,64.3h0.6v0.6h-0.6zM235.66,49.94h0.6v0.6h-0.6zM231.11,39.67h0.6v0.6h-0.6zM228.49,39.62h0.6v0.6h-0.6zM237.88,55.78h0.6v0.6h-0.6zM242.72,51.78h0.6v0.6h-0.6zM231.78,54.44h0.6v0.6h-0.6zM235.1,69.55h0.6v0.6h-0.6zM246.14,61.13h0.6v0.6h-0.6zM231.67,43.89h0.6v0.6h-0.6zM238.42,42.24h0.6v0.6h-0.6zM239.16,57.69h0.6v0.6h-0.6zM241.03,52.76h0.6v0.6h-0.6zM233.14,40.48h0.6v0.6h-0.6zM235.51,64.54h0.6v0.6h-0.6zM244.21,61.21h0.6v0.6h-0.6zM238.36,57.53h0.6v0.6h-0.6zM240.25,64.44h0.6v0.6h-0.6zM242.28,33.4h0.6v0.6h-0.6zM241.5,54.52h0.6v0.6h-0.6zM234.36,55.63h0.6v0.6h-0.6zM238.47,49.49h0.6v0.6h-0.6zM228.5,50.71h0.6v0.6h-0.6zM239.81,49.63h0.6v0.6h-0.6zM228.77,54.55h0.6v0.6h-0.6zM240.47,52.2h0.6v0.6h-0.6zM239.36,46.26h0.6v0.6h-0.6zM233.37,55.56h0.6v0.6h-0.6zM235.11,51.9h0.6v0.6h-0.6zM252.78,58.79h0.6v0.6h-0.6zM238.75,32.23h0.6v0.6h-0.6zM236.98,58.35h0.6v0.6h-0.6zM233.64,47.17h0.6v0.6h-0.6zM225.38,55.42h0.6v0.6h-0.6zM233.58,57.33h0.6v0.6h-0.6zM243.92,48.64h0.6v0.6h-0.6zM241.75,53.05h0.6v0.6h-0.6zM236.16,46.86h0.6v0.6h-0.6zM231.9,63.84h0.6v0.6h-0.6zM242.06,39.22h0.6v0.6h-0.6zM241.69,42.24h0.6v0.6h-0.6zM228.7,62.72h0.6v0.6h-0.6zM229.83,62.62h0.6v0.6h-0.6zM237.4,59.97h0.6v0.6h-0.6zM238.79,62.83h0.6v0.6h-0.6zM238.35,56.46h0.6v0.6h-0.6zM237.52,62.1h0.6v0.6h-0.6zM234.38,61.04h0.6v0.6h-0.6zM244.56,49.76h0.6v0.6h-0.6zM239.54,44.49h0.6v0.6h-0.6zM235.39,52.78h0.6v0.6h-0.6zM235.88,40.17h0.6v0.6h-0.6zM236.73,52.09h0.6v0.6h-0.6zM238.14,57.89h0.6v0.6h-0.6zM227.21,64.98h0.6v0.6h-0.6zM236.65,41.47h0.6v0.6h-0.6zM234.86,54.75h0.6v0.6h-0.6zM241.59,46.24h0.6v0.6h-0.6zM238.84,32.53h0.6v0.6h-0.6zM237.92,48.82h0.6v0.6h-0.6zM234.26,59.6h0.6v0.6h-0.6zM245.27,61.88h0.6v0.6h-0.6zM232.09,66.54h0.6v0.6h-0.6zM235.36,49.45h0.6v0.6h-0.6zM233.8,54.83h0.6v0.6h-0.6zM239.67,51.76h0.6v0.6h-0.6zM236.05,48.36h0.6v0.6h-0.6zM234.36,60.54h0.6v0.6h-0.6zM234.5,48.22h0.6v0.6h-0.6zM236.45,41.72h0.6v0.6h-0.6zM236.83,33.86h0.6v0.6h-0.6zM238.68,56.06h0.6v0.6h-0.6zM234.48,66.94h0.6v0.6h-0.6zM232.55,55.84h0.6v0.6h-0.6zM239.73,44.28h0.6v0.6h-0.6zM235.21,59.68h0.6v0.6h-0.6zM237.12,53.11h0.6v0.6h-0.6zM243.82,52.8h0.6v0.6h-0.6zM229.17,41.46h0.6v0.6h-0.6zM241.23,48.84h0.6v0.6h-0.6zM232.94,28.06h0.6v0.6h-0.6zM237.62,66.51h0.6v0.6h-0.6zM232.2,25.94h0.6v0.6h-0.6zM239.83,44.24h0.6v0.6h-0.6zM235.75,46.39h0.6v0.6h-0.6zM232.23,54.54h0.6v0.6h-0.6zM241.32,54.26h0.6v0.6h-0.6zM233.56,61.19h0.6v0.6h-0.6zM236.07,56.31h0.6v0.6h-0.6zM231.93,56.89h0.6v0.6h-0.6zM239.84,64.29h0.6v0.6h-0.6zM236.85,54.85h0.6v0.6h-0.6zM233.57,59.47h0.6v0.6h-0.6zM240.14,62.02h0.6v0.6h-0.6zM235.89,36.59h0.6v0.6h-0.6zM236.8,47.72h0.6v0.6h-0.6zM232.92,56.37h0.6v0.6h-0.6zM241.43,54.59h0.6v0.6h-0.6zM242.24,54.65h0.6v0.6h-0.6zM232.56,43.36h0.6v0.6h-0.6zM234.81,57.36h0.6v0.6h-0.6zM241.47,51.77h0.6v0.6h-0.6zM242.55,41.38h0.6v0.6h-0.6zM235.47,66.23h0.6v0.6h-0.6zM238.52,61.51h0.6v0.6h-0.6zM228.79,31.35h0.6v0.6h-0.6zM232.09,60.68h0.6v0.6h-0.6zM245.42,43.8h0.6v0.6h-0.6zM232.82,38.74h0.6v0.6h-0.6zM232.25,55.78h0.6v0.6h-0.6zM234.24,70.29h0.6v0.6h-0.6zM241.01,42.83h0.6v0.6h-0.6zM238.27,48.42h0.6v0.6h-0.6zM240.31,60.08h0.6v0.6h-0.6zM234.72,59.58h0.6v0.6h-0.6zM239.87,49.27h0.6v0.6h-0.6zM237.83,57.47h0.6v0.6h-0.6zM235.89,42.64h0.6v0.6h-0.6zM243.25,50.46h0.6v0.6h-0.6zM233.8,54.85h0.6v0.6h-0.6zM229.73,50.2h0.6v0.6h-0.6zM230.61,45.02h0.6v0.6h-0.6zM228.73,41.76h0.6v0.6h-0.6zM241.53,48.34h0.6v0.6h-0.6zM229.93,68.45h0.6v0.6h-0.6zM232.97,65.87h0.6v0.6h-0.6zM235.39,34.1h0.6v0.6h-0.6zM246.35,45.94h0.6v0.6h-0.6zM239.97,63.12h0.6v0.6h-0.6zM230.53,50.44h0.6v0.6h-0.6zM233.81,56.42h0.6v0.6h-0.6zM237.78,36.43h0.6v0.6h-0.6zM236.81,58.31h0.6v0.6h-0.6zM235.21,56.04h0.6v0.6h-0.6zM234.45,49.35h0.6v0.6h-0.6zM238.64,51.71h0.6v0.6h-0.6zM242.63,60.65h0.6v0.6h-0.6zM240.68,58.08h0.6v0.6h-0.6zM238.54,37.6h0.6v0.6h-0.6zM241.1,69.1h0.6v0.6h-0.6zM238.29,47.41h0.6v0.6h-0.6zM236.07,63.05h0.6v0.6h-0.6zM239.06,39.59h0.6v0.6h-0.6zM236.68,41.78h0.6v0.6h-0.6zM236.62,40.4h0.6v0.6h-0.6zM231.8,65.76h0.6v0.6h-0.6zM243.19,33.09h0.6v0.6h-0.6zM232.53,45h0.6v0.6h-0.6zM236.02,35.11h0.6v0.6h-0.6zM242.41,33.03h0.6v0.6h-0.6zM239.97,57.77h0.6v0.6h-0.6zM235.66,42.94h0.6v0.6h-0.6zM237.23,51.69h0.6v0.6h-0.6zM227.6,36.01h0.6v0.6h-0.6zM239.69,49.07h0.6v0.6h-0.6zM235.65,39.3h0.6v0.6h-0.6zM234.09,41.68h0.6v0.6h-0.6zM251.47,37.44h0.6v0.6h-0.6zM244.21,55.68h0.6v0.6h-0.6zM237.95,52.25h0.6v0.6h-0.6zM234.14,67.24h0.6v0.6h-0.6zM239.54,49.93h0.6v0.6h-0.6zM236.31,52.2h0.6v0.6h-0.6zM231.67,46.33h0.6v0.6h-0.6zM233.59,56.56h0.6v0.6h-0.6zM241.17,30.25h0.6v0.6h-0.6zM235.31,60.64h0.6v0.6h-0.6zM231.48,37.02h0.6v0.6h-0.6zM242,49h0.6v0.6h-0.6zM235.62,36.92h0.6v0.6h-0.6zM238.23,44.17h0.6v0.6h-0.6zM237.8,54.72h0.6v0.6h-0.6zM240.68,46.82h0.6v0.6h-0.6zM234.45,50.26h0.6v0.6h-0.6zM236.44,51.91h0.6v0.6h-0.6zM234.6,47.39h0.6v0.6h-0.6zM234.55,43.61h0.6v0.6h-0.6zM237.06,62.52h0.6v0.6h-0.6zM234.04,56.2h0.6v0.6h-0.6zM238.65,51.37h0.6v0.6h-0.6zM240.71,44.3h0.6v0.6h-0.6zM239.59,53.46h0.6v0.6h-0.6zM219.77,52.88h0.6v0.6h-0.6zM238.7,71.26h0.6v0.6h-0.6zM231.79,50.81h0.6v0.6h-0.6zM239.38,39.78h0.6v0.6h-0.6zM242.61,55.27h0.6v0.6h-0.6zM233.92,36.98h0.6v0.6h-0.6zM233.46,75.46h0.6v0.6h-0.6zM249.17,24.1h0.6v0.6h-0.6zM227.71,56.73h0.6v0.6h-0.6zM236.92,43.23h0.6v0.6h-0.6zM239.93,51.3h0.6v0.6h-0.6zM238.27,53.02h0.6v0.6h-0.6zM230.86,63.92h0.6v0.6h-0.6zM234.05,62.14h0.6v0.6h-0.6zM240.39,50.7h0.6v0.6h-0.6zM237.74,49.63h0.6v0.6h-0.6zM228.24,46.05h0.6v0.6h-0.6zM240.18,32.85h0.6v0.6h-0.6zM229.04,61.27h0.6v0.6h-0.6zM241.99,33.67h0.6v0.6h-0.6zM239.32,49.69h0.6v0.6h-0.6zM242.02,46.87h0.6v0.6h-0.6zM236.43,41.93h0.6v0.6h-0.6zM237.99,48.77h0.6v0.6h-0.6zM234.05,46.15h0.6v0.6h-0.6zM232.93,56.58h0.6v0.6h-0.6zM232.98,32.99h0.6v0.6h-0.6zM231.6,61.48h0.6v0.6h-0.6zM234.12,56.91h0.6v0.6h-0.6zM240.97,44.79h0.6v0.6h-0.6zM240.41,55.75h0.6v0.6h-0.6zM237.27,42.43h0.6v0.6h-0.6zM237.56,36.19h0.6v0.6h-0.6zM236.05,43.71h0.6v0.6h-0.6zM238.96,53.89h0.6v0.6h-0.6zM233.31,59.23h0.6v0.6h-0.6zM242.84,51.12h0.6v0.6h-0.6zM233.06,55.3h0.6v0.6h-0.6zM225.4,43.02h0.6v0.6h-0.6zM238.58,71.89h0.6v0.6h-0.6zM232.4,66.38h0.6v0.6h-0.6zM247.25,71.15h0.6v0.6h-0.6zM224.7,61.28h0.6v0.6h-0.6zM237.31,61.1h0.6v0.6h-0.6zM236.55,43.34h0.6v0.6h-0.6zM234.92,66.27h0.6v0.6h-0.6zM241.35,47.12h0.6v0.6h-0.6zM238.34,59.55h0.6v0.6h-0.6zM239.84,49.76h0.6v0.6h-0.6zM234.26,41.79h0.6v0.6h-0.6zM235.23,43.91h0.6v0.6h-0.6zM230.15,34.21h0.6v0.6h-0.6zM242.08,38.13h0.6v0.6h-0.6zM230.56,49.18h0.6v0.6h-0.6zM243.34,64.19h0.6v0.6h-0.6zM235.65,38.66h0.6v0.6h-0.6zM234.96,39.97h0.6v0.6h-0.6zM233.98,55.1h0.6v0.6h-0.6zM232.26,41.22h0.6v0.6h-0.6zM235.74,49.66h0.6v0.6h-0.6zM233.73,41.2h0.6v0.6h-0.6zM231.91,41.5h0.6v0.6h-0.6zM239.76,47.53h0.6v0.6h-0.6zM221.2,55.83h0.6v0.6h-0.6zM237.24,40.49h0.6v0.6h-0.6zM228.04,62.25h0.6v0.6h-0.6zM246.17,74.47h0.6v0.6h-0.6zM233.33,50.23h0.6v0.6h-0.6zM241.68,36.83h0.6v0.6h-0.6zM246.15,42.64h0.6v0.6h-0.6zM239.52,37.55h0.6v0.6h-0.6zM238.84,49.95h0.6v0.6h-0.6zM243.15,37.71h0.6v0.6h-0.6zM235.76,69.92h0.6v0.6h-0.6zM230.84,53.52h0.6v0.6h-0.6zM239.51,44.71h0.6v0.6h-0.6zM234.74,65.42h0.6v0.6h-0.6zM242.31,56.57h0.6v0.6h-0.6zM239.09,37.67h0.6v0.6h-0.6zM236.28,69.7h0.6v0.6h-0.6zM243.15,35.43h0.6v0.6h-0.6zM227.11,42.11h0.6v0.6h-0.6zM238.19,44.02h0.6v0.6h-0.6zM235.25,53.68h0.6v0.6h-0.6zM241.34,52.59h0.6v0.6h-0.6zM244.19,34.76h0.6v0.6h-0.6zM239.06,54.82h0.6v0.6h-0.6zM228.75,63.31h0.6v0.6h-0.6zM229.98,33.65h0.6v0.6h-0.6zM249.48,65.04h0.6v0.6h-0.6zM237.99,65.01h0.6v0.6h-0.6zM243.49,37.95h0.6v0.6h-0.6zM238.49,65.57h0.6v0.6h-0.6zM236.15,50.77h0.6v0.6h-0.6zM234.2,57.94h0.6v0.6h-0.6zM234.62,43.38h0.6v0.6h-0.6zM231.48,39.43h0.6v0.6h-0.6zM237.79,55.28h0.6v0.6h-0.6zM235.76,38.34h0.6v0.6h-0.6zM238.47,54.06h0.6v0.6h-0.6zM243.71,44.93h0.6v0.6h-0.6zM234.6,55.54h0.6v0.6h-0.6zM244.68,49.91h0.6v0.6h-0.6zM237.21,39.63h0.6v0.6h-0.6zM234.48,60.34h0.6v0.6h-0.6zM240.54,62.59h0.6v0.6h-0.6zM228.21,58.77h0.6v0.6h-0.6zM231.97,56.29h0.6v0.6h-0.6zM225.18,48.22h0.6v0.6h-0.6zM231.72,63.81h0.6v0.6h-0.6zM236.75,64.42h0.6v0.6h-0.6zM233.49,71.63h0.6v0.6h-0.6zM233.51,70.86h0.6v0.6h-0.6zM235.21,39.02h0.6v0.6h-0.6zM241.78,45.87h0.6v0.6h-0.6zM237.61,35.11h0.6v0.6h-0.6zM235.2,51.17h0.6v0.6h-0.6zM233.2,54.13h0.6v0.6h-0.6zM224.84,59.21h0.6v0.6h-0.6zM233.97,66.18h0.6v0.6h-0.6zM235.68,42.63h0.6v0.6h-0.6zM234.56,52.95h0.6v0.6h-0.6zM240.32,45.07h0.6v0.6h-0.6zM232.7,54.56h0.6v0.6h-0.6zM242.33,30.92h0.6v0.6h-0.6zM232.17,42.24h0.6v0.6h-0.6zM244.8,64.2h0.6v0.6h-0.6zM240.7,55.75h0.6v0.6h-0.6zM230.61,62.14h0.6v0.6h-0.6zM235.3,41.06h0.6v0.6h-0.6zM247.74,34.52h0.6v0.6h-0.6zM243.86,52.68h0.6v0.6h-0.6zM232.24,51.72h0.6v0.6h-0.6zM232.63,51.84h0.6v0.6h-0.6zM234.54,36.64h0.6v0.6h-0.6zM250.76,45.25h0.6v0.6h-0.6z" fill="#4a4a4a"/>
<path d="M220.23,54.65h0.6v0.6h-0.6zM226.58,49.75h0.6v0.6h-0.6zM231.15,55.41h0.6v0.6h-0.6zM222.75,68.77h0.6v0.6h-0.6zM226.95,43.04h0.6v0.6h-0.6zM221.83,48.39h0.6v0.6h-0.6zM228.46,61.69h0.6v0.6h-0.6zM228.89,70.45h0.6v0.6h-0.6zM233.47,61.1h0.6v0.6h-0.6zM231.83,60.95h0.6v0.6h-0.6zM223.2,60.77h0.6v0.6h-0.6zM227.74,52.75h0.6v0.6h-0.6zM234.69,62.74h0.6v0.6h-0.6zM225.12,53.41h0.6v0.6h-0.6zM237.98,54.53h0.6v0.6h-0.6zM229.37,60.39h0.6v0.6h-0.6zM228.43,59.92h0.6v0.6h-0.6zM225.79,50.17h0.6v0.6h-0.6zM227.05,51.35h0.6v0.6h-0.6zM228.12,68.26h0.6v0.6h-0.6zM222.24,58.32h0.6v0.6h-0.6zM223.96,47.78h0.6v0.6h-0.6zM225.9,55.21h0.6v0.6h-0.6zM229.66,32.09h0.6v0.6h-0.6zM233.81,53.48h0.6v0.6h-0.6zM223.15,59.69h0.6v0.6h-0.6zM226.93,41.91h0.6v0.6h-0.6zM228.63,58.49h0.6v0.6h-0.6zM222.02,60.85h0.6v0.6h-0.6zM230.76,45.27h0.6v0.6h-0.6zM234.52,58.36h0.6v0.6h-0.6zM221.3,57.3h0.6v0.6h-0.6zM226.05,62.82h0.6v0.6h-0.6zM219.34,62.08h0.6v0.6h-0.6zM230.17,61.23h0.6v0.6h-0.6zM227.63,66.17h0.6v0.6h-0.6zM230.14,56.24h0.6v0.6h-0.6zM221.5,63.13h0.6v0.6h-0.6zM231.03,57.91h0.6v0.6h-0.6zM226.59,60.74h0.6v0.6h-0.6zM215.35,54.89h0.6v0.6h-0.6zM215.56,54.26h0.6v0.6h-0.6zM228.63,71.45h0.6v0.6h-0.6zM224.3,57.68h0.6v0.6h-0.6zM230.63,35.61h0.6v0.6h-0.6zM230.43,54.98h0.6v0.6h-0.6zM229.05,46.55h0.6v0.6h-0.6zM226.81,55.1h0.6v0.6h-0.6zM232.35,58.08h0.6v0.6h-0.6zM243.44,54.16h0.6v0.6h-0.6zM226.04,53.76h0.6v0.6h-0.6zM220.92,66.47h0.6v0.6h-0.6zM232.2,44.27h0.6v0.6h-0.6zM225.64,64.25h0.6v0.6h-0.6zM220.53,54.41h0.6v0.6h-0.6zM222.07,73.93h0.6v0.6h-0.6zM229.69,51.36h0.6v0.6h-0.6zM221.38,69.9h0.6v0.6h-0.6zM221.14,73.3h0.6v0.6h-0.6zM220.47,51.4h0.6v0.6h-0.6zM227.27,48.28h0.6v0.6h-0.6zM225,60.09h0.6v0.6h-0.6zM226.61,41.73h0.6v0.6h-0.6zM230.63,68.06h0.6v0.6h-0.6zM223.52,56.39h0.6v0.6h-0.6zM213.85,60.9h0.6v0.6h-0.6zM222.13,48.55h0.6v0.6h-0.6zM238.96,45.73h0.6v0.6h-0.6zM229.05,45.42h0.6v0.6h-0.6zM220.86,42.92h0.6v0.6h-0.6zM230.58,43.64h0.6v0.6h-0.6zM223.24,60.04h0.6v0.6h-0.6zM228.66,43.22h0.6v0.6h-0.6zM233.62,56.81h0.6v0.6h-0.6zM235.2,46.85h0.6v0.6h-0.6zM236.98,44.58h0.6v0.6h-0.6zM220.05,49.26h0.6v0.6h-0.6zM225.01,56.31h0.6v0.6h-0.6zM223.53,59.28h0.6v0.6h-0.6zM234.21,50.12h0.6v0.6h-0.6zM221.67,49.79h0.6v0.6h-0.6zM229.39,62.05h0.6v0.6h-0.6zM227.26,45.78h0.6v0.6h-0.6zM225.39,62.54h0.6v0.6h-0.6zM221.71,64.73h0.6v0.6h-0.6zM227.64,57.07h0.6v0.6h-0.6zM221.99,65.35h0.6v0.6h-0.6zM229.87,41.88h0.6v0.6h-0.6zM231.5,51.61h0.6v0.6h-0.6zM231.65,56.81h0.6v0.6h-0.6zM224.03,55.29h0.6v0.6h-0.6zM226.34,46.99h0.6v0.6h-0.6zM225.79,61.46h0.6v0.6h-0.6zM227.59,53.75h0.6v0.6h-0.6zM223.67,58.73h0.6v0.6h-0.6zM226.7,62.74h0.6v0.6h-0.6zM225.11,72.72h0.6v0.6h-0.6zM220.19,52.53h0.6v0.6h-0.6zM227.97,62.46h0.6v0.6h-0.6zM222.36,42.71h0.6v0.6h-0.6zM225.13,63.24h0.6v0.6h-0.6zM234.62,42.6h0.6v0.6h-0.6zM225.69,64.41h0.6v0.6h-0.6zM229,45.73h0.6v0.6h-0.6zM226.2,42.49h0.6v0.6h-0.6zM232.89,53.29h0.6v0.6h-0.6zM226.7,46.63h0.6v0.6h-0.6zM228.05,46.61h0.6v0.6h-0.6zM222.83,53.16h0.6v0.6h-0.6zM225.31,58.05h0.6v0.6h-0.6zM225.75,64.49h0.6v0.6h-0.6zM226.47,56.55h0.6v0.6h-0.6zM229.5,47.79h0.6v0.6h-0.6zM233.38,50.71h0.6v0.6h-0.6zM217.93,63.47h0.6v0.6h-0.6zM230.99,50.22h0.6v0.6h-0.6zM229.72,63.38h0.6v0.6h-0.6zM232.25,45.15h0.6v0.6h-0.6zM229.67,45.81h0.6v0.6h-0.6zM225.35,49.09h0.6v0.6h-0.6zM222.5,57.77h0.6v0.6h-0.6zM222.53,58.9h0.6v0.6h-0.6zM228.91,49.43h0.6v0.6h-0.6zM226.7,60.33h0.6v0.6h-0.6zM232.65,53.24h0.6v0.6h-0.6zM233.87,60.77h0.6v0.6h-0.6zM234.97,44.13h0.6v0.6h-0.6zM220.33,63.6h0.6v0.6h-0.6zM225.32,58.09h0.6v0.6h-0.6zM234.92,43.32h0.6v0.6h-0.6zM225.82,71.09h0.6v0.6h-0.6zM230.52,55.86h0.6v0.6h-0.6zM229.61,54.96h0.6v0.6h-0.6zM228.34,66.04h0.6v0.6h-0.6zM225.12,59.01h0.6v0.6h-0.6zM227.2,60.91h0.6v0.6h-0.6zM232.66,46.12h0.6v0.6h-0.6zM230.83,62.68h0.6v0.6h-0.6zM222.73,51h0.6v0.6h-0.6zM221.11,50.64h0.6v0.6h-0.6zM230.54,44.95h0.6v0.6h-0.6zM225.17,46.3h0.6v0.6h-0.6zM225.34,47.24h0.6v0.6h-0.6zM221.39,58.19h0.6v0.6h-0.6zM227.55,47.27h0.6v0.6h-0.6zM232.46,50.52h0.6v0.6h-0.6zM233.19,44.79h0.6v0.6h-0.6zM234.12,51.88h0.6v0.6h-0.6zM222.2,56.95h0.6v0.6h-0.6zM223.01,44.1h0.6v0.6h-0.6zM228.99,50.53h0.6v0.6h-0.6zM228.64,55.92h0.6v0.6h-0.6zM228.01,55.7h0.6v0.6h-0.6zM230.27,55.01h0.6v0.6h-0.6zM230.4,63.3h0.6v0.6h-0.6zM221.37,37.88h0.6v0.6h-0.6zM234.77,52.05h0.6v0.6h-0.6zM228.13,53.58h0.6v0.6h-0.6zM224.57,73.12h0.6v0.6h-0.6zM223.86,54.27h0.6v0.6h-0.6zM228.97,45.3h0.6v0.6h-0.6zM223.69,51.31h0.6v0.6h-0.6zM226.38,57.57h0.6v0.6h-0.6zM221.06,39.47h0.6v0.6h-0.6zM234.72,54.34h0.6v0.6h-0.6zM231.47,51.56h0.6v0.6h-0.6zM220.36,71.43h0.6v0.6h-0.6zM223.17,45.63h0.6v0.6h-0.6zM230.07,55.11h0.6v0.6h-0.6zM219.59,54.05h0.6v0.6h-0.6zM232.93,42.23h0.6v0.6h-0.6zM223.29,60.44h0.6v0.6h-0.6zM239.53,36.6h0.6v0.6h-0.6zM224.01,53.93h0.6v0.6h-0.6zM224.6,45.94h0.6v0.6h-0.6zM224.01,58.19h0.6v0.6h-0.6zM220.9,60.64h0.6v0.6h-0.6zM229.34,62.21h0.6v0.6h-0.6zM234.79,51.35h0.6v0.6h-0.6zM225.18,62.66h0.6v0.6h-0.6zM231.11,63.33h0.6v0.6h-0.6zM225.93,49.85h0.6v0.6h-0.6zM222.01,49.52h0.6v0.6h-0.6zM223.96,49.44h0.6v0.6h-0.6zM224.01,60.95h0.6v0.6h-0.6zM230.97,54.69h0.6v0.6h-0.6zM222.13,52.86h0.6v0.6h-0.6zM227.56,61.87h0.6v0.6h-0.6zM226.66,61.28h0.6v0.6h-0.6zM223.09,59.17h0.6v0.6h-0.6zM230.96,52.04h0.6v0.6h-0.6zM221.66,63.95h0.6v0.6h-0.6zM221.53,59.18h0.6v0.6h-0.6zM226.49,51.18h0.6v0.6h-0.6zM226.72,50.41h0.6v0.6h-0.6zM223.91,69.17h0.6v0.6h-0.6zM233.75,54.52h0.6v0.6h-0.6zM227.64,62.34h0.6v0.6h-0.6zM222.11,69.3h0.6v0.6h-0.6zM226.2,59.54h0.6v0.6h-0.6zM224.77,44.13h0.6v0.6h-0.6zM223.77,48.05h0.6v0.6h-0.6zM232.2,52.61h0.6v0.6h-0.6zM231.71,51.62h0.6v0.6h-0.6zM222.59,54.87h0.6v0.6h-0.6zM228.15,40.11h0.6v0.6h-0.6zM225.31,64.23h0.6v0.6h-0.6zM228.21,44.12h0.6v0.6h-0.6zM225.8,43.53h0.6v0.6h-0.6zM227.62,46.2h0.6v0.6h-0.6zM226.3,55.68h0.6v0.6h-0.6zM234.91,45.86h0.6v0.6h-0.6zM215.3,66.05h0.6v0.6h-0.6zM229.62,51.67h0.6v0.6h-0.6zM230.9,47.04h0.6v0.6h-0.6zM224.46,59.66h0.6v0.6h-0.6zM225.48,55.15h0.6v0.6h-0.6zM228.83,55.72h0.6v0.6h-0.6zM225.16,58.4h0.6v0.6h-0.6zM230.8,66.12h0.6v0.6h-0.6zM221.93,59.88h0.6v0.6h-0.6zM221.08,40.82h0.6v0.6h-0.6zM227.96,59.15h0.6v0.6h-0.6zM236.03,41.2h0.6v0.6h-0.6zM232.78,50.75h0.6v0.6h-0.6zM224.28,57.61h0.6v0.6h-0.6zM234.89,47.74h0.6v0.6h-0.6zM220.55,47.8h0.6v0.6h-0.6zM224.55,64.19h0.6v0.6h-0.6zM229.21,52.14h0.6v0.6h-0.6zM225.64,49.99h0.6v0.6h-0.6zM234.17,41.33h0.6v0.6h-0.6zM225.51,46.4h0.6v0.6h-0.6zM231.84,56.34h0.6v0.6h-0.6zM222.85,59.94h0.6v0.6h-0.6zM233.98,64.56h0.6v0.6h-0.6zM221.69,51.39h0.6v0.6h-0.6zM235.15,40.21h0.6v0.6h-0.6zM222.39,49.73h0.6v0.6h-0.6zM230.78,47.9h0.6v0.6h-0.6zM228.01,53.08h0.6v0.6h-0.6zM230.53,44.53h0.6v0.6h-0.6zM220.92,34.38h0.6v0.6h-0.6zM226.15,62.54h0.6v0.6h-0.6zM231.91,41.31h0.6v0.6h-0.6zM219.89,50.28h0.6v0.6h-0.6zM226.13,38.13h0.6v0.6h-0.6zM225.84,47.09h0.6v0.6h-0.6zM225.9,57.27h0.6v0.6h-0.6zM227.58,55.91h0.6v0.6h-0.6zM229.54,53.79h0.6v0.6h-0.6zM225.66,50.93h0.6v0.6h-0.6zM232.76,52.91h0.6v0.6h-0.6zM227.82,68.73h0.6v0.6h-0.6zM238.36,37.86h0.6v0.6h-0.6zM226.06,62.49h0.6v0.6h-0.6zM226.25,47.86h0.6v0.6h-0.6zM221.89,47.28h0.6v0.6h-0.6zM230.23,38.49h0.6v0.6h-0.6zM228.41,47.17h0.6v0.6h-0.6zM228.96,45.15h0.6v0.6h-0.6zM227.14,55.58h0.6v0.6h-0.6zM225.12,47.95h0.6v0.6h-0.6zM230.16,60.25h0.6v0.6h-0.6zM222.87,57.08h0.6v0.6h-0.6zM222.83,48.79h0.6v0.6h-0.6zM215.13,46.82h0.6v0.6h-0.6zM230.87,50.67h0.6v0.6h-0.6zM230.72,49.32h0.6v0.6h-0.6zM228.63,53.18h0.6v0.6h-0.6zM219.2,70.71h0.6v0.6h-0.6zM225.6,42.18h0.6v0.6h-0.6zM226.81,58.2h0.6v0.6h-0.6zM228.73,53.55h0.6v0.6h-0.6zM227.52,62.32h0.6v0.6h-0.6zM232.11,43.17h0.6v0.6h-0.6zM234.7,55.41h0.6v0.6h-0.6zM216.61,59.23h0.6v0.6h-0.6zM225.92,56.36h0.6v0.6h-0.6zM236.69,51.45h0.6v0.6h-0.6zM225.94,45.4h0.6v0.6h-0.6zM226.75,59.8h0.6v0.6h-0.6zM228.48,55.88h0.6v0.6h-0.6zM217.22,54.44h0.6v0.6h-0.6zM232.67,50.84h0.6v0.6h-0.6zM226.39,45.24h0.6v0.6h-0.6zM230.74,41.36h0.6v0.6h-0.6zM235.8,54.19h0.6v0.6h-0.6zM226.45,43.47h0.6v0.6h-0.6zM227.77,62.7h0.6v0.6h-0.6zM224.27,55.07h0.6v0.6h-0.6zM226.7,62.46h0.6v0.6h-0.6zM227.66,64.97h0.6v0.6h-0.6zM216.4,74.58h0.6v0.6h-0.6zM226.72,44.37h0.6v0.6h-0.6zM222.3,56.54h0.6v0.6h-0.6zM226.35,75.05h0.6v0.6h-0.6zM233.74,48.87h0.6v0.6h-0.6zM226.32,49.95h0.6v0.6h-0.6zM224.69,52.18h0.6v0.6h-0.6zM222.35,63.36h0.6v0.6h-0.6zM227.47,59.64h0.6v0.6h-0.6zM228.31,44.35h0.6v0.6h-0.6zM229.63,51.27h0.6v0.6h-0.6zM233.74,66.18h0.6v0.6h-0.6zM223.38,44.84h0.6v0.6h-0.6zM224.98,51.89h0.6v0.6h-0.6zM232.38,53.68h0.6v0.6h-0.6zM229.6,51.89h0.6v0.6h-0.6zM224.02,64.2h0.6v0.6h-0.6zM223.79,70.53h0.6v0.6h-0.6zM226.2,57.35h0.6v0.6h-0.6zM227.68,60.04h0.6v0.6h-0.6zM236.69,50.23h0.6v0.6h-0.6zM226.31,45.86h0.6v0.6h-0.6zM234.22,59.68h0.6v0.6h-0.6zM228.27,58.38h0.6v0.6h-0.6zM217.6,58.95h0.6v0.6h-0.6zM227.1,56.86h0.6v0.6h-0.6zM227.6,53.5h0.6v0.6h-0.6zM227.69,49.39h0.6v0.6h-0.6zM224.99,59.23h0.6v0.6h-0.6zM216.35,59.17h0.6v0.6h-0.6zM231.69,45.88h0.6v0.6h-0.6zM228.79,57.18h0.6v0.6h-0.6zM221.91,67.76h0.6v0.6h-0.6zM228.06,53.22h0.6v0.6h-0.6zM217.65,71.1h0.6v0.6h-0.6zM227.49,56.97h0.6v0.6h-0.6zM222.56,71.2h0.6v0.6h-0.6zM223.73,67.15h0.6v0.6h-0.6zM230.06,63.25h0.6v0.6h-0.6zM227.9,64.37h0.6v0.6h-0.6zM230.04,36.82h0.6v0.6h-0.6zM213.34,61.05h0.6v0.6h-0.6zM215.74,63.49h0.6v0.6h-0.6zM243.86,41.24h0.6v0.6h-0.6zM228.94,58.67h0.6v0.6h-0.6zM227.27,37.02h0.6v0.6h-0.6zM223.79,68.17h0.6v0.6h-0.6zM226.59,54.03h0.6v0.6h-0.6zM227.35,54.61h0.6v0.6h-0.6zM224.49,73.46h0.6v0.6h-0.6zM226.27,38.23h0.6v0.6h-0.6zM231.66,50.59h0.6v0.6h-0.6zM227.19,42.11h0.6v0.6h-0.6zM227,50.43h0.6v0.6h-0.6zM229.61,51.26h0.6v0.6h-0.6zM219.8,56.99h0.6v0.6h-0.6zM229.88,38.37h0.6v0.6h-0.6zM224.27,60.19h0.6v0.6h-0.6zM227.33,51.4h0.6v0.6h-0.6zM230.74,49.37h0.6v0.6h-0.6zM223.1,57.91h0.6v0.6h-0.6zM227.4,48.86h0.6v0.6h-0.6zM227.61,56.54h0.6v0.6h-0.6zM229.46,63.38h0.6v0.6h-0.6zM227.49,54.03h0.6v0.6h-0.6zM222.61,55.02h0.6v0.6h-0.6zM224.07,60.81h0.6v0.6h-0.6zM229.49,60.22h0.6v0.6h-0.6zM226.25,56.87h0.6v0.6h-0.6zM230.79,69.68h0.6v0.6h-0.6zM229.23,30.18h0.6v0.6h-0.6zM232.37,42.01h0.6v0.6h-0.6zM226.51,58.02h0.6v0.6h-0.6zM233.92,54.09h0.6v0.6h-0.6zM227.51,49.34h0.6v0.6h-0.6zM230.44,44.33h0.6v0.6h-0.6zM228.97,57.53h0.6v0.6h-0.6zM233.51,52.87h0.6v0.6h-0.6zM228.15,56.16h0.6v0.6h-0.6zM228.58,46.24h0.6v0.6h-0.6zM224.5,54.14h0.6v0.6h-0.6zM227.47,63.25h0.6v0.6h-0.6zM223.98,55.84h0.6v0.6h-0.6zM228.31,61.9h0.6v0.6h-0.6zM227.8,56.19h0.6v0.6h-0.6zM225.5,54.16h0.6v0.6h-0.6zM229.13,39.68h0.6v0.6h-0.6zM227.99,33.7h0.6v0.6h-0.6zM227.81,62h0.6v0.6h-0.6zM225.2,55.35h0.6v0.6h-0.6zM228.18,52.31h0.6v0.6h-0.6zM233.85,54h0.6v0.6h-0.6zM228.6,54.03h0.6v0.6h-0.6zM238.61,42.5h0.6v0.6h-0.6zM230.21,43.41h0.6v0.6h-0.6zM225.54,45.72h0.6v0.6h-0.6zM232.27,45.98h0.6v0.6h-0.6zM223.21,50.63h0.6v0.6h-0.6zM224.56,45.19h0.6v0.6h-0.6zM235.13,50.17h0.6v0.6h-0.6zM221.25,64.97h0.6v0.6h-0.6zM225.59,63.6h0.6v0.6h-0.6zM220.43,50.39h0.6v0.6h-0.6zM228.81,56.52h0.6v0.6h-0.6zM227.38,65.07h0.6v0.6h-0.6zM227.81,63.91h0.6v0.6h-0.6zM231.64,48.74h0.6v0.6h-0.6zM225.74,65.28h0.6v0.6h-0.6zM222.03,57.9h0.6v0.6h-0.6zM227.61,65.95h0.6v0.6h-0.6zM215.76,72.54h0.6v0.6h-0.6zM220.27,52.92h0.6v0.6h-0.6zM240.49,45.35h0.6v0.6h-0.6zM236.5,58.58h0.6v0.6h-0.6zM233.07,68.03h0.6v0.6h-0.6zM229.08,47.94h0.6v0.6h-0.6zM227.89,43.29h0.6v0.6h-0.6zM220.38,56.25h0.6v0.6h-0.6zM220.12,56.03h0.6v0.6h-0.6zM227.01,53.14h0.6v0.6h-0.6zM224.61,43.12h0.6v0.6h-0.6zM232.21,47.07h0.6v0.6h-0.6zM224.86,52.32h0.6v0.6h-0.6zM226.75,71.32h0.6v0.6h-0.6zM234.38,62.6h0.6v0.6h-0.6zM228.93,60.38h0.6v0.6h-0.6zM226.51,52.42h0.6v0.6h-0.6zM218.55,57.36h0.6v0.6h-0.6zM224.25,57.03h0.6v0.6h-0.6zM235.48,63.44h0.6v0.6h-0.6zM230.67,62.62h0.6v0.6h-0.6zM225.72,48.39h0.6v0.6h-0.6zM221.64,48.22h0.6v0.6h-0.6zM226.64,60.2h0.6v0.6h-0.6zM230.2,51.93h0.6v0.6h-0.6zM222.02,53.67h0.6v0.6h-0.6zM231.79,38.12h0.6v0.6h-0.6zM229.89,42.46h0.6v0.6h-0.6zM225.32,52.7h0.6v0.6h-0.6zM223.61,49.17h0.6v0.6h-0.6zM228.8,45.95h0.6v0.6h-0.6zM228.97,60.32h0.6v0.6h-0.6zM231.25,46h0.6v0.6h-0.6zM226.76,51.37h0.6v0.6h-0.6zM226.31,60.57h0.6v0.6h-0.6zM224.71,53.96h0.6v0.6h-0.6zM231.24,52.24h0.6v0.6h-0.6zM230.26,54.7h0.6v0.6h-0.6zM220.92,52.65h0.6v0.6h-0.6zM228.4,50.89h0.6v0.6h-0.6zM236.14,52.72h0.6v0.6h-0.6zM220.88,51.62h0.6v0.6h-0.6zM225.23,58.25h0.6v0.6h-0.6zM237.95,57.63h0.6v0.6h-0.6zM231.87,48.99h0.6v0.6h-0.6zM224.12,47.52h0.6v0.6h-0.6zM226.96,50.31h0.6v0.6h-0.6zM228.12,48.85h0.6v0.6h-0.6zM223.1,46.65h0.6v0.6h-0.6zM232.42,45.32h0.6v0.6h-0.6zM227.74,68.5h0.6v0.6h-0.6zM221.46,60.82h0.6v0.6h-0.6zM235.2,32.98h0.6v0.6h-0.6zM229.72,60.37h0.6v0.6h-0.6zM220.63,68.16h0.6v0.6h-0.6zM217.02,63.39h0.6v0.6h-0.6zM229.94,45.89h0.6v0.6h-0.6zM230.09,41.59h0.6v0.6h-0.6zM228.79,59.25h0.6v0.6h-0.6zM230.08,66.97h0.6v0.6h-0.6zM223.17,57.7h0.6v0.6h-0.6zM229.2,29.55h0.6v0.6h-0.6zM229.27,64.77h0.6v0.6h-0.6zM225.09,68.82h0.6v0.6h-0.6zM229.7,39.72h0.6v0.6h-0.6zM225.48,51.48h0.6v0.6h-0.6zM228.93,51.02h0.6v0.6h-0.6zM219.29,41.86h0.6v0.6h-0.6zM224.5,63.35h0.6v0.6h-0.6zM226.32,42.69h0.6v0.6h-0.6zM223.39,61.32h0.6v0.6h-0.6zM234.19,47.09h0.6v0.6h-0.6zM227.81,65.78h0.6v0.6h-0.6zM232.41,45.67h0.6v0.6h-0.6zM230.54,50.53h0.6v0.6h-0.6zM221.55,69.74h0.6v0.6h-0.6zM226.03,58.31h0.6v0.6h-0.6zM229.64,68.93h0.6v0.6h-0.6zM229.3,49.3h0.6v0.6h-0.6zM227.97,48.45h0.6v0.6h-0.6zM226.71,53.07h0.6v0.6h-0.6zM221.8,46.24h0.6v0.6h-0.6zM220.87,52.38h0.6v0.6h-0.6zM229.35,60.94h0.6v0.6h-0.6zM229.49,46.31h0.6v0.6h-0.6zM229.05,42.7h0.6v0.6h-0.6zM232.16,41.76h0.6v0.6h-0.6zM221.3,67.94h0.6v0.6h-0.6zM230.53,46.36h0.6v0.6h-0.6zM227.82,45.37h0.6v0.6h-0.6zM224.22,49.9h0.6v0.6h-0.6zM222.98,54.95h0.6v0.6h-0.6zM233.22,47.9h0.6v0.6h-0.6zM224.29,46.54h0.6v0.6h-0.6zM224.11,54.61h0.6v0.6h-0.6zM225.57,46.19h0.6v0.6h-0.6zM222.37,61.7h0.6v0.6h-0.6zM229.56,63.69h0.6v0.6h-0.6zM229.44,46.38h0.6v0.6h-0.6zM229.35,73.82h0.6v0.6h-0.6zM225.19,48.44h0.6v0.6h-0.6zM230.67,60.82h0.6v0.6h-0.6zM225.27,71.86h0.6v0.6h-0.6zM227.59,47.29h0.6v0.6h-0.6zM225.04,55.64h0.6v0.6h-0.6zM225.77,64.7h0.6v0.6h-0.6zM231.64,48.79h0.6v0.6h-0.6zM230.6,53.18h0.6v0.6h-0.6zM231.77,64.99h0.6v0.6h-0.6zM223.48,58.18h0.6v0.6h-0.6zM220.5,56.77h0.6v0.6h-0.6zM226.61,57.96h0.6v0.6h-0.6zM223.13,45.93h0.6v0.6h-0.6zM224.95,51.69h0.6v0.6h-0.6zM231.37,47.83h0.6v0.6h-0.6zM219.06,47.68h0.6v0.6h-0.6zM228.97,61.96h0.6v0.6h-0.6zM220.31,58.35h0.6v0.6h-0.6zM226.26,60.21h0.6v0.6h-0.6zM225.68,64.71h0.6v0.6h-0.6zM220.18,71.49h0.6v0.6h-0.6zM233.87,45.26h0.6v0.6h-0.6zM218.4,61.22h0.6v0.6h-0.6zM221.44,46.08h0.6v0.6h-0.6zM229.39,53.25h0.6v0.6h-0.6zM231.33,36.16h0.6v0.6h-0.6zM222.8,57.6h0.6v0.6h-0.6zM235.49,59.35h0.6v0.6h-0.6zM226.94,55.08h0.6v0.6h-0.6zM230.42,60.24h0.6v0.6h-0.6zM226.42,36.69h0.6v0.6h-0.6zM226.62,50.48h0.6v0.6h-0.6zM236.54,48.46h0.6v0.6h-0.6zM233.72,37.93h0.6v0.6h-0.6zM232.63,43.83h0.6v0.6h-0.6zM227.46,52.24h0.6v0.6h-0.6zM227.42,54.03h0.6v0.6h-0.6zM220.9,57.84h0.6v0.6h-0.6zM223.09,52.7h0.6v0.6h-0.6zM223.24,52.85h0.6v0.6h-0.6zM226.78,52.13h0.6v0.6h-0.6zM221.38,63.29h0.6v0.6h-0.6zM226.06,54.27h0.6v0.6h-0.6zM216.24,56.86h0.6v0.6h-0.6zM220.31,50.68h0.6v0.6h-0.6zM214.66,67.82h0.6v0.6h-0.6zM219.54,49.99h0.6v0.6h-0.6zM223.52,41.99h0.6v0.6h-0.6zM216.67,64.37h0.6v0.6h-0.6zM236.67,54.58h0.6v0.6h-0.6zM231.39,50.36h0.6v0.6h-0.6zM219.05,67.94h0.6v0.6h-0.6zM231.71,44.65h0.6v0.6h-0.6zM226.46,53.4h0.6v0.6h-0.6zM225.79,52.66h0.6v0.6h-0.6zM224.1,52.4h0.6v0.6h-0.6zM225.6,50.54h0.6v0.6h-0.6zM220.9,65.91h0.6v0.6h-0.6zM225.36,51.45h0.6v0.6h-0.6zM227.95,54.02h0.6v0.6h-0.6zM219.65,59.66h0.6v0.6h-0.6zM222.6,46.96h0.6v0.6h-0.6zM229.06,52.19h0.6v0.6h-0.6zM223.71,52.99h0.6v0.6h-0.6zM224.1,47.75h0.6v0.6h-0.6zM223.75,42.04h0.6v0.6h-0.6zM222.39,52.97h0.6v0.6h-0.6zM224.85,51.74h0.6v0.6h-0.6zM231.62,50.45h0.6v0.6h-0.6zM218.53,52.41h0.6v0.6h-0.6zM239.64,30.7h0.6v0.6h-0.6zM227.6,43.8h0.6v0.6h-0.6zM218.83,58.78h0.6v0.6h-0.6zM226.7,53.08h0.6v0.6h-0.6zM221.92,47.99h0.6v0.6h-0.6zM219.29,65.1h0.6v0.6h-0.6zM230.02,36.57h0.6v0.6h-0.6zM222.9,65.49h0.6v0.6h-0.6zM223.84,50.39h0.6v0.6h-0.6zM225.75,57.31h0.6v0.6h-0.6zM229.99,48.63h0.6v0.6h-0.6zM224.01,58.86h0.6v0.6h-0.6zM222.86,49.63h0.6v0.6h-0.6zM228.71,51.72h0.6v0.6h-0.6zM219.7,66.26h0.6v0.6h-0.6zM228.03,51.17h0.6v0.6h-0.6zM212.13,60.01h0.6v0.6h-0.6zM231.02,53.84h0.6v0.6h-0.6zM228.37,46.51h0.6v0.6h-0.6zM234.22,62.77h0.6v0.6h-0.6zM232.97,74.36h0.6v0.6h-0.6zM217.77,57.22h0.6v0.6h-0.6zM217.09,54.74h0.6v0.6h-0.6zM227.98,48.86h0.6v0.6h-0.6zM229.51,55.31h0.6v0.6h-0.6zM225.83,51.17h0.6v0.6h-0.6zM230.14,58.43h0.6v0.6h-0.6zM230.09,57.08h0.6v0.6h-0.6zM225.72,49.19h0.6v0.6h-0.6zM229.14,47.91h0.6v0.6h-0.6zM222.75,59.77h0.6v0.6h-0.6zM228.24,52.05h0.6v0.6h-0.6zM228.44,50.71h0.6v0.6h-0.6zM232.92,53.18h0.6v0.6h-0.6zM229.03,43.98h0.6v0.6h-0.6zM226.03,42.21h0.6v0.6h-0.6zM227.88,58.7h0.6v0.6h-0.6zM230.25,51.36h0.6v0.6h-0.6zM226.51,56.73h0.6v0.6h-0.6zM228.12,39.36h0.6v0.6h-0.6zM234.75,59.58h0.6v0.6h-0.6zM229.57,61.22h0.6v0.6h-0.6zM223.76,52.76h0.6v0.6h-0.6zM222.95,62.19h0.6v0.6h-0.6zM228.97,47.9h0.6v0.6h-0.6zM223.72,76.96h0.6v0.6h-0.6zM226.02,57.84h0.6v0.6h-0.6zM237.75,47.93h0.6v0.6h-0.6zM226.18,64.21h0.6v0.6h-0.6zM230.78,49.31h0.6v0.6h-0.6zM226.65,54.6h0.6v0.6h-0.6zM229.46,63.11h0.6v0.6h-0.6zM218.15,52.57h0.6v0.6h-0.6zM223.24,55.56h0.6v0.6h-0.6zM224.53,56.45h0.6v0.6h-0.6zM219.96,54.23h0.6v0.6h-0.6zM227.29,64.58h0.6v0.6h-0.6zM233.85,55.2h0.6v0.6h-0.6zM222.17,64.39h0.6v0.6h-0.6zM228.12,56.88h0.6v0.6h-0.6zM231.96,42.32h0.6v0.6h-0.6zM224.51,45.65h0.6v0.6h-0.6zM219.44,65.8h0.6v0.6h-0.6zM219.1,50.87h0.6v0.6h-0.6zM228.13,46.44h0.6v0.6h-0.6zM230.07,47.24h0.6v0.6h-0.6zM222.84,42.04h0.6v0.6h-0.6zM233.57,51.79h0.6v0.6h-0.6zM226.86,58.86h0.6v0.6h-0.6zM230.1,48.12h0.6v0.6h-0.6zM228.76,63.41h0.6v0.6h-0.6zM219.34,59.49h0.6v0.6h-0.6zM227.43,63.47h0.6v0.6h-0.6zM229.89,53.13h0.6v0.6h-0.6zM222.53,58.68h0.6v0.6h-0.6zM228,57.73h0.6v0.6h-0.6zM222.86,63.23h0.6v0.6h-0.6z" fill="#555"/>
<path d="M226.17,82.19h0.6v0.6h-0.6zM213.56,64.07h0.6v0.6h-0.6zM230.54,76.35h0.6v0.6h-0.6zM232.47,75.48h0.6v0.6h-0.6zM224.8,69.99h0.6v0.6h-0.6zM216.46,73.62h0.6v0.6h-0.6zM222.84,79.68h0.6v0.6h-0.6zM234.87,64.58h0.6v0.6h-0.6zM237.14,71.76h0.6v0.6h-0.6zM244.39,80.01h0.6v0.6h-0.6zM233.68,61.61h0.6v0.6h-0.6zM235.25,62.71h0.6v0.6h-0.6zM248.86,66.17h0.6v0.6h-0.6zM226.61,84.72h0.6v0.6h-0.6zM202.99,77.32h0.6v0.6h-0.6zM212.13,72.57h0.6v0.6h-0.6zM217.07,79.2h0.6v0.6h-0.6zM223.71,76.14h0.6v0.6h-0.6zM235.04,61.8h0.6v0.6h-0.6zM247,68.99h0.6v0.6h-0.6zM203.83,72.98h0.6v0.6h-0.6zM240.78,77.6h0.6v0.6h-0.6zM218.1,75.51h0.6v0.6h-0.6zM231.98,79.15h0.6v0.6h-0.6zM226.67,79.63h0.6v0.6h-0.6zM214.49,70.99h0.6v0.6h-0.6zM237.72,76.39h0.6v0.6h-0.6zM227.58,77.19h0.6v0.6h-0.6zM231.33,77.64h0.6v0.6h-0.6zM244.58,74.11h0.6v0.6h-0.6zM238.92,69.32h0.6v0.6h-0.6zM217.7,60.41h0.6v0.6h-0.6zM233.51,72.77h0.6v0.6h-0.6zM233.51,61h0.6v0.6h-0.6zM220.35,71.11h0.6v0.6h-0.6zM203.08,82.78h0.6v0.6h-0.6zM243.78,63.14h0.6v0.6h-0.6zM235.57,82.94h0.6v0.6h-0.6zM211.49,82.02h0.6v0.6h-0.6zM251.86,81.36h0.6v0.6h-0.6zM207.48,69.91h0.6v0.6h-0.6zM231.78,80.29h0.6v0.6h-0.6zM209.24,71.58h0.6v0.6h-0.6zM212.96,82.54h0.6v0.6h-0.6zM220.34,78.12h0.6v0.6h-0.6zM237.92,79.11h0.6v0.6h-0.6zM233.95,74.61h0.6v0.6h-0.6zM244.58,73.86h0.6v0.6h-0.6zM209.35,72.89h0.6v0.6h-0.6zM240.69,72.36h0.6v0.6h-0.6zM222.96,75.69h0.6v0.6h-0.6zM235,75.19h0.6v0.6h-0.6zM224.98,81.28h0.6v0.6h-0.6zM240.26,74.04h0.6v0.6h-0.6zM209.69,84.02h0.6v0.6h-0.6zM238.52,71.3h0.6v0.6h-0.6zM210.28,74.66h0.6v0.6h-0.6zM219.72,69.5h0.6v0.6h-0.6zM242.22,71.97h0.6v0.6h-0.6zM244.39,64.92h0.6v0.6h-0.6zM226.26,82.16h0.6v0.6h-0.6zM231.68,68.33h0.6v0.6h-0.6zM214.52,71.75h0.6v0.6h-0.6zM227.15,77.82h0.6v0.6h-0.6zM230.48,77.73h0.6v0.6h-0.6zM239.75,72.37h0.6v0.6h-0.6zM246.73,75.17h0.6v0.6h-0.6zM224.94,72.84h0.6v0.6h-0.6zM226.77,68.98h0.6v0.6h-0.6zM208.66,76.55h0.6v0.6h-0.6zM220.95,78.11h0.6v0.6h-0.6zM219.3,75.32h0.6v0.6h-0.6zM230.08,70.15h0.6v0.6h-0.6zM229.77,68.62h0.6v0.6h-0.6zM222.32,79.24h0.6v0.6h-0.6zM233.19,72.57h0.6v0.6h-0.6zM217.14,79.36h0.6v0.6h-0.6zM254.02,55.88h0.6v0.6h-0.6zM242.79,72.49h0.6v0.6h-0.6zM244.35,78.18h0.6v0.6h-0.6zM214.79,86.2h0.6v0.6h-0.6zM218.99,73.18h0.6v0.6h-0.6zM236.47,71.56h0.6v0.6h-0.6zM230.95,69.7h0.6v0.6h-0.6zM212.89,75.75h0.6v0.6h-0.6zM213.34,83.94h0.6v0.6h-0.6zM232.37,81.45h0.6v0.6h-0.6zM207.97,63.43h0.6v0.6h-0.6zM194.84,76.01h0.6v0.6h-0.6zM209.61,78.37h0.6v0.6h-0.6zM205.58,68.11h0.6v0.6h-0.6zM231.22,70.41h0.6v0.6h-0.6zM237.98,76.88h0.6v0.6h-0.6zM231.51,65.24h0.6v0.6h-0.6zM217.35,89.07h0.6v0.6h-0.6zM224.62,75.68h0.6v0.6h-0.6zM229.33,72.98h0.6v0.6h-0.6zM224.63,70.35h0.6v0.6h-0.6zM218.38,62.25h0.6v0.6h-0.6zM251.19,69.17h0.6v0.6h-0.6zM209.4,79.38h0.6v0.6h-0.6zM235.73,63.19h0.6v0.6h-0.6zM221.58,83.62h0.6v0.6h-0.6zM235.68,74.84h0.6v0.6h-0.6zM241.6,70.48h0.6v0.6h-0.6zM224.86,83.74h0.6v0.6h-0.6zM224.89,73.33h0.6v0.6h-0.6zM236.67,72.25h0.6v0.6h-0.6zM211.79,87.57h0.6v0.6h-0.6zM228.2,84.49h0.6v0.6h-0.6zM233.96,66.79h0.6v0.6h-0.6zM249.36,69.03h0.6v0.6h-0.6zM215.35,75.08h0.6v0.6h-0.6zM197.52,80.47h0.6v0.6h-0.6zM217.02,73.45h0.6v0.6h-0.6zM215.55,79.44h0.6v0.6h-0.6zM233.66,79.22h0.6v0.6h-0.6zM251.45,71.55h0.6v0.6h-0.6zM229.17,75.07h0.6v0.6h-0.6zM215.53,71.83h0.6v0.6h-0.6zM237.49,66.57h0.6v0.6h-0.6zM199.75,75.42h0.6v0.6h-0.6zM232.54,81.8h0.6v0.6h-0.6zM216.56,69.26h0.6v0.6h-0.6zM228.78,72.26h0.6v0.6h-0.6zM230.61,69.73h0.6v0.6h-0.6zM229.84,69.46h0.6v0.6h-0.6zM241.75,72.98h0.6v0.6h-0.6zM235.23,69.5h0.6v0.6h-0.6zM207.23,76.54h0.6v0.6h-0.6zM227.78,80.19h0.6v0.6h-0.6zM241.15,71.11h0.6v0.6h-0.6zM225.96,67.49h0.6v0.6h-0.6zM227.11,74.76h0.6v0.6h-0.6zM220.64,67.71h0.6v0.6h-0.6zM244.75,65.04h0.6v0.6h-0.6zM251.94,77.01h0.6v0.6h-0.6zM248.52,64.95h0.6v0.6h-0.6zM235.05,63.63h0.6v0.6h-0.6zM220.95,64.91h0.6v0.6h-0.6zM216.64,71.89h0.6v0.6h-0.6zM241.96,77.85h0.6v0.6h-0.6zM221.95,72.43h0.6v0.6h-0.6zM213.09,68.48h0.6v0.6h-0.6zM202.04,75.86h0.6v0.6h-0.6zM235.05,67.46h0.6v0.6h-0.6zM231.47,65.62h0.6v0.6h-0.6zM212.72,72.27h0.6v0.6h-0.6zM239.3,68.3h0.6v0.6h-0.6zM237.78,69.59h0.6v0.6h-0.6zM209.92,63.6h0.6v0.6h-0.6zM219.77,68.56h0.6v0.6h-0.6zM240.43,74.07h0.6v0.6h-0.6zM205.05,81.88h0.6v0.6h-0.6zM232.11,54.73h0.6v0.6h-0.6zM212.83,77h0.6v0.6h-0.6zM204.22,72.33h0.6v0.6h-0.6zM234.75,73.71h0.6v0.6h-0.6zM234.1,76.04h0.6v0.6h-0.6zM217.03,89.52h0.6v0.6h-0.6zM236.47,85.05h0.6v0.6h-0.6zM224,77.24h0.6v0.6h-0.6zM231.84,71.7h0.6v0.6h-0.6zM231.82,74.19h0.6v0.6h-0.6zM238.86,73.51h0.6v0.6h-0.6zM228.42,76.11h0.6v0.6h-0.6zM247.46,70.68h0.6v0.6h-0.6zM235.76,72.87h0.6v0.6h-0.6zM198.95,72.06h0.6v0.6h-0.6zM213.1,66.92h0.6v0.6h-0.6zM216.92,64.05h0.6v0.6h-0.6zM230.43,69.52h0.6v0.6h-0.6zM244.6,73h0.6v0.6h-0.6zM209.19,74.67h0.6v0.6h-0.6zM227.16,69.14h0.6v0.6h-0.6zM221.11,67.58h0.6v0.6h-0.6zM217.18,76.48h0.6v0.6h-0.6zM223.57,81.19h0.6v0.6h-0.6zM196.91,73h0.6v0.6h-0.6zM223.26,82.87h0.6v0.6h-0.6zM243.24,75.44h0.6v0.6h-0.6zM242.04,80.72h0.6v0.6h-0.6zM236.21,70.45h0.6v0.6h-0.6zM228.9,68.57h0.6v0.6h-0.6zM224.19,75.94h0.6v0.6h-0.6zM220.09,74.92h0.6v0.6h-0.6zM219.75,66.32h0.6v0.6h-0.6zM207.59,80.38h0.6v0.6h-0.6zM228.1,78.1h0.6v0.6h-0.6zM225.47,73.37h0.6v0.6h-0.6zM230.26,70.65h0.6v0.6h-0.6zM246.87,76.29h0.6v0.6h-0.6zM231.4,66.18h0.6v0.6h-0.6zM219.56,75.55h0.6v0.6h-0.6zM242.79,70.52h0.6v0.6h-0.6zM226.82,76.35h0.6v0.6h-0.6zM228.17,72h0.6v0.6h-0.6zM212.16,82.8h0.6v0.6h-0.6zM225.44,70.2h0.6v0.6h-0.6zM223.96,65.5h0.6v0.6h-0.6zM201.72,66.07h0.6v0.6h-0.6zM230.48,64.5h0.6v0.6h-0.6zM226.97,65.85h0.6v0.6h-0.6zM201.28,73.17h0.6v0.6h-0.6zM215.57,70.55h0.6v0.6h-0.6zM250.45,70.67h0.6v0.6h-0.6zM218.93,79.49h0.6v0.6h-0.6zM222.99,80.97h0.6v0.6h-0.6zM205.67,82.78h0.6v0.6h-0.6zM210.67,70.99h0.6v0.6h-0.6zM228.13,66.28h0.6v0.6h-0.6zM203.2,74.15h0.6v0.6h-0.6zM220.62,63.95h0.6v0.6h-0.6zM238.97,66.13h0.6v0.6h-0.6zM217.39,72.97h0.6v0.6h-0.6zM227.77,79.2h0.6v0.6h-0.6zM196.36,77.58h0.6v0.6h-0.6zM238.6,72.58h0.6v0.6h-0.6zM224.06,66.58h0.6v0.6h-0.6zM230.3,69.43h0.6v0.6h-0.6zM227,66.46h0.6v0.6h-0.6zM221.55,72.82h0.6v0.6h-0.6zM206.49,82.22h0.6v0.6h-0.6zM223.19,65.64h0.6v0.6h-0.6zM222.66,74.3h0.6v0.6h-0.6zM220.35,67.59h0.6v0.6h-0.6zM221.69,65.41h0.6v0.6h-0.6zM204.02,83.46h0.6v0.6h-0.6zM251.29,80.5h0.6v0.6h-0.6zM258.52,76.32h0.6v0.6h-0.6zM212.6,71.59h0.6v0.6h-0.6zM240.83,67.9h0.6v0.6h-0.6zM221.12,73.62h0.6v0.6h-0.6zM230.6,64.02h0.6v0.6h-0.6zM226.88,75.84h0.6v0.6h-0.6zM198.63,83.97h0.6v0.6h-0.6zM235.92,66.57h0.6v0.6h-0.6zM251.73,71.65h0.6v0.6h-0.6zM234.03,81.18h0.6v0.6h-0.6zM242.02,79.21h0.6v0.6h-0.6zM225.36,71.99h0.6v0.6h-0.6zM215.09,72.62h0.6v0.6h-0.6zM211.96,60.55h0.6v0.6h-0.6zM216.97,68.24h0.6v0.6h-0.6zM217.27,71.54h0.6v0.6h-0.6zM219.34,74.62h0.6v0.6h-0.6zM224.74,70.99h0.6v0.6h-0.6zM217.32,73.67h0.6v0.6h-0.6zM221.52,72.88h0.6v0.6h-0.6zM245.31,71.54h0.6v0.6h-0.6zM218.63,61.64h0.6v0.6h-0.6zM203.2,58.48h0.6v0.6h-0.6zM239.15,77.69h0.6v0.6h-0.6zM219.95,71.07h0.6v0.6h-0.6zM233.06,75.4h0.6v0.6h-0.6zM201.68,75.12h0.6v0.6h-0.6zM220.49,66.16h0.6v0.6h-0.6zM246.24,74.48h0.6v0.6h-0.6zM217.54,73.99h0.6v0.6h-0.6zM217.89,71.14h0.6v0.6h-0.6zM221.44,79.89h0.6v0.6h-0.6zM225.63,70.17h0.6v0.6h-0.6zM216.75,75.97h0.6v0.6h-0.6zM212.42,65.24h0.6v0.6h-0.6zM225.47,82.72h0.6v0.6h-0.6zM216.69,75.36h0.6v0.6h-0.6zM224.34,80.69h0.6v0.6h-0.6zM231.42,64.46h0.6v0.6h-0.6zM250.15,69.39h0.6v0.6h-0.6zM212.84,71.92h0.6v0.6h-0.6zM227.8,79.26h0.6v0.6h-0.6zM221.41,69.18h0.6v0.6h-0.6zM245.75,79.54h0.6v0.6h-0.6zM221.17,74.56h0.6v0.6h-0.6zM230.88,70.41h0.6v0.6h-0.6zM214.23,81.11h0.6v0.6h-0.6zM209.15,64.39h0.6v0.6h-0.6zM235.1,78.66h0.6v0.6h-0.6zM236.59,66.72h0.6v0.6h-0.6zM221.6,67.03h0.6v0.6h-0.6zM216.5,59.5h0.6v0.6h-0.6zM215.14,83.02h0.6v0.6h-0.6zM211.3,85.72h0.6v0.6h-0.6zM226.64,60.96h0.6v0.6h-0.6zM238.21,65.34h0.6v0.6h-0.6zM233.5,70.79h0.6v0.6h-0.6zM220.98,72.69h0.6v0.6h-0.6zM207.03,71.25h0.6v0.6h-0.6zM222.05,84.42h0.6v0.6h-0.6zM218.32,76.16h0.6v0.6h-0.6zM233.44,79.35h0.6v0.6h-0.6zM222.98,74.71h0.6v0.6h-0.6zM215.4,90.05h0.6v0.6h-0.6zM205.56,77.68h0.6v0.6h-0.6zM221.39,74.74h0.6v0.6h-0.6zM218.36,71.46h0.6v0.6h-0.6zM240.67,76.62h0.6v0.6h-0.6zM224.97,72.36h0.6v0.6h-0.6zM228.61,72.19h0.6v0.6h-0.6zM232.92,76.64h0.6v0.6h-0.6zM231.28,62.65h0.6v0.6h-0.6zM224.43,66.81h0.6v0.6h-0.6zM232.05,70.38h0.6v0.6h-0.6zM230.24,71.89h0.6v0.6h-0.6zM240.37,79.15h0.6v0.6h-0.6zM227.23,63.81h0.6v0.6h-0.6zM228.05,84.87h0.6v0.6h-0.6zM216.57,74.03h0.6v0.6h-0.6zM261.7,77.98h0.6v0.6h-0.6zM235.38,73.05h0.6v0.6h-0.6zM209.35,85.59h0.6v0.6h-0.6zM237.4,61.09h0.6v0.6h-0.6zM224.46,72.55h0.6v0.6h-0.6zM224.74,69.26h0.6v0.6h-0.6zM259.95,62.64h0.6v0.6h-0.6zM247.13,73.77h0.6v0.6h-0.6zM226.76,75.73h0.6v0.6h-0.6zM235.88,66.86h0.6v0.6h-0.6zM222.2,81.05h0.6v0.6h-0.6zM239.73,73.44h0.6v0.6h-0.6zM208.22,65.9h0.6v0.6h-0.6zM248.37,78.56h0.6v0.6h-0.6zM233.8,74.36h0.6v0.6h-0.6zM222.24,76.76h0.6v0.6h-0.6zM243.7,75.12h0.6v0.6h-0.6zM219.12,76.38h0.6v0.6h-0.6zM218.87,73.79h0.6v0.6h-0.6zM208.95,61.35h0.6v0.6h-0.6zM212.01,76.42h0.6v0.6h-0.6zM215.87,77.98h0.6v0.6h-0.6zM218.86,76.05h0.6v0.6h-0.6zM221.25,82.62h0.6v0.6h-0.6zM220.89,74.06h0.6v0.6h-0.6zM243.6,79.55h0.6v0.6h-0.6zM211.62,84.28h0.6v0.6h-0.6zM210.77,69.59h0.6v0.6h-0.6zM215.7,80.85h0.6v0.6h-0.6zM212.19,78.82h0.6v0.6h-0.6zM232.06,71.1h0.6v0.6h-0.6zM234.67,84.47h0.6v0.6h-0.6zM248,64.76h0.6v0.6h-0.6zM229.82,70.24h0.6v0.6h-0.6zM224.14,70.21h0.6v0.6h-0.6zM233.29,66.92h0.6v0.6h-0.6zM209.34,76.02h0.6v0.6h-0.6zM232.02,79.63h0.6v0.6h-0.6zM235.05,66.59h0.6v0.6h-0.6zM214.06,76.98h0.6v0.6h-0.6zM230.82,76.9h0.6v0.6h-0.6zM242.82,57.08h0.6v0.6h-0.6zM218.49,77.68h0.6v0.6h-0.6zM213.14,85.29h0.6v0.6h-0.6zM225.88,76.86h0.6v0.6h-0.6zM224,75.67h0.6v0.6h-0.6zM232.59,75.52h0.6v0.6h-0.6zM205.82,64.69h0.6v0.6h-0.6zM226.11,78.03h0.6v0.6h-0.6zM222.98,72.68h0.6v0.6h-0.6zM241.94,74.8h0.6v0.6h-0.6zM213.62,76.11h0.6v0.6h-0.6zM223.71,73.96h0.6v0.6h-0.6zM226.03,76.78h0.6v0.6h-0.6zM226.71,75.2h0.6v0.6h-0.6zM226.86,71.86h0.6v0.6h-0.6zM218.98,75.97h0.6v0.6h-0.6zM234.19,81.57h0.6v0.6h-0.6zM260.28,64.01h0.6v0.6h-0.6zM218.54,80.74h0.6v0.6h-0.6zM221.01,74.79h0.6v0.6h-0.6zM209.73,79.34h0.6v0.6h-0.6zM207.41,82.13h0.6v0.6h-0.6zM215.35,76.29h0.6v0.6h-0.6zM239.53,66.14h0.6v0.6h-0.6zM226.96,85.99h0.6v0.6h-0.6zM207.49,76.84h0.6v0.6h-0.6zM199.5,79.38h0.6v0.6h-0.6zM223.32,66.89h0.6v0.6h-0.6z" fill="#555"/>
<path d="M247.85,65.56h0.55v0.55h-0.55zM214.18,24.86h0.55v0.55h-0.55zM230.68,62.67h0.55v0.55h-0.55zM230.09,31.58h0.55v0.55h-0.55zM225.55,72.09h0.55v0.55h-0.55zM214.05,66.67h0.55v0.55h-0.55zM238.8,58.74h0.55v0.55h-0.55zM241.97,44.35h0.55v0.55h-0.55zM230.47,77.23h0.55v0.55h-0.55zM226.99,46.13h0.55v0.55h-0.55zM213.79,45.45h0.55v0.55h-0.55zM241.62,69.5h0.55v0.55h-0.55zM240.44,60.86h0.55v0.55h-0.55zM239.62,56.73h0.55v0.55h-0.55zM245.09,50.04h0.55v0.55h-0.55zM245.94,51.1h0.55v0.55h-0.55zM211.41,34.23h0.55v0.55h-0.55zM229.56,45.72h0.55v0.55h-0.55zM216.39,41.46h0.55v0.55h-0.55zM234.43,57.67h0.55v0.55h-0.55zM243.02,40.1h0.55v0.55h-0.55zM236.93,66.42h0.55v0.55h-0.55zM236.62,76.55h0.55v0.55h-0.55zM225.96,51.98h0.55v0.55h-0.55zM234.34,46.48h0.55v0.55h-0.55zM231.41,55.27h0.55v0.55h-0.55zM231.61,45.13h0.55v0.55h-0.55zM226.33,51h0.55v0.55h-0.55zM212.38,54.61h0.55v0.55h-0.55zM218.02,48.65h0.55v0.55h-0.55zM218.13,53.42h0.55v0.55h-0.55zM227.21,48.47h0.55v0.55h-0.55zM222.58,53.64h0.55v0.55h-0.55zM252.4,27.22h0.55v0.55h-0.55zM238.61,55.16h0.55v0.55h-0.55zM227.12,34.55h0.55v0.55h-0.55zM252.16,54.62h0.55v0.55h-0.55zM244.8,46.93h0.55v0.55h-0.55zM222.3,66.87h0.55v0.55h-0.55zM241.43,47.91h0.55v0.55h-0.55zM229.29,60.57h0.55v0.55h-0.55zM221.88,40.62h0.55v0.55h-0.55zM231.51,65.86h0.55v0.55h-0.55zM242.99,54.63h0.55v0.55h-0.55zM249.17,50.01h0.55v0.55h-0.55zM225.8,84.15h0.55v0.55h-0.55zM225.78,60.28h0.55v0.55h-0.55zM239.13,53.72h0.55v0.55h-0.55zM234.96,61.61h0.55v0.55h-0.55zM239.11,44.14h0.55v0.55h-0.55zM232.16,71.05h0.55v0.55h-0.55zM241.36,46.22h0.55v0.55h-0.55zM232.91,38.61h0.55v0.55h-0.55zM215.78,44.94h0.55v0.55h-0.55zM252.45,43.65h0.55v0.55h-0.55zM207.09,50.62h0.55v0.55h-0.55zM223.45,62.25h0.55v0.55h-0.55zM247.82,47.62h0.55v0.55h-0.55zM233.66,39.97h0.55v0.55h-0.55zM247.43,42.21h0.55v0.55h-0.55zM232.51,84.6h0.55v0.55h-0.55zM220.39,54.47h0.55v0.55h-0.55zM231.51,58.51h0.55v0.55h-0.55zM238.09,72.47h0.55v0.55h-0.55zM238.38,60.37h0.55v0.55h-0.55zM216.58,57.7h0.55v0.55h-0.55zM215.33,68.75h0.55v0.55h-0.55zM231.47,65.41h0.55v0.55h-0.55zM225.92,55.34h0.55v0.55h-0.55zM233.27,59.76h0.55v0.55h-0.55zM230.87,44.21h0.55v0.55h-0.55zM227.46,43.36h0.55v0.55h-0.55zM220.54,35.68h0.55v0.55h-0.55zM213.7,77.92h0.55v0.55h-0.55zM222.83,37.11h0.55v0.55h-0.55zM244.72,56.1h0.55v0.55h-0.55zM230.52,67.69h0.55v0.55h-0.55zM255.72,40.63h0.55v0.55h-0.55zM250.16,60.02h0.55v0.55h-0.55zM246.89,44.97h0.55v0.55h-0.55zM253.43,68.06h0.55v0.55h-0.55zM199.35,69.55h0.55v0.55h-0.55zM249.21,33.34h0.55v0.55h-0.55zM236.43,49.8h0.55v0.55h-0.55zM235.01,40.5h0.55v0.55h-0.55zM240.38,62.26h0.55v0.55h-0.55zM230.91,51.27h0.55v0.55h-0.55zM210.36,59.63h0.55v0.55h-0.55zM216.07,52.51h0.55v0.55h-0.55zM222.06,87.76h0.55v0.55h-0.55zM232.23,73.17h0.55v0.55h-0.55zM231.73,51.62h0.55v0.55h-0.55zM241.52,51.77h0.55v0.55h-0.55zM261.77,49.75h0.55v0.55h-0.55zM252.77,35.96h0.55v0.55h-0.55zM220.7,61.11h0.55v0.55h-0.55zM214.75,79.06h0.55v0.55h-0.55zM238.93,53.39h0.55v0.55h-0.55zM254.68,45.14h0.55v0.55h-0.55zM207.58,48.07h0.55v0.55h-0.55zM205.84,62.57h0.55v0.55h-0.55zM244.65,58.37h0.55v0.55h-0.55zM211.53,40.42h0.55v0.55h-0.55zM214.64,61.9h0.55v0.55h-0.55zM245.27,49.07h0.55v0.55h-0.55zM233,55.3h0.55v0.55h-0.55zM241.55,39.85h0.55v0.55h-0.55zM220,62.97h0.55v0.55h-0.55zM238.7,58.81h0.55v0.55h-0.55zM232.89,62.7h0.55v0.55h-0.55zM238.22,43.86h0.55v0.55h-0.55zM253.99,67.13h0.55v0.55h-0.55zM229.11,50.81h0.55v0.55h-0.55zM223.03,33h0.55v0.55h-0.55zM218.76,32.48h0.55v0.55h-0.55zM223.76,56.6h0.55v0.55h-0.55zM231.34,32.4h0.55v0.55h-0.55zM229.63,43.46h0.55v0.55h-0.55zM218.11,67.39h0.55v0.55h-0.55zM218.79,64.61h0.55v0.55h-0.55zM210.52,55.97h0.55v0.55h-0.55zM223.16,65.39h0.55v0.55h-0.55zM237.31,41.36h0.55v0.55h-0.55zM240.32,69.79h0.55v0.55h-0.55zM249.18,72.5h0.55v0.55h-0.55zM227.6,81.95h0.55v0.55h-0.55zM224.65,50.29h0.55v0.55h-0.55zM212.48,49.21h0.55v0.55h-0.55zM213.61,53.73h0.55v0.55h-0.55zM209.64,77.97h0.55v0.55h-0.55zM242.62,74.26h0.55v0.55h-0.55zM247.29,54.47h0.55v0.55h-0.55zM238.32,55.02h0.55v0.55h-0.55zM208.08,35.99h0.55v0.55h-0.55zM227.2,65.24h0.55v0.55h-0.55zM214.48,54.86h0.55v0.55h-0.55zM224.87,62.52h0.55v0.55h-0.55zM242.02,37.81h0.55v0.55h-0.55zM217.59,72.67h0.55v0.55h-0.55zM245.83,51.91h0.55v0.55h-0.55zM243.05,53.14h0.55v0.55h-0.55zM238.4,46.86h0.55v0.55h-0.55zM239.3,75.54h0.55v0.55h-0.55zM251.05,69.93h0.55v0.55h-0.55zM233.91,65.72h0.55v0.55h-0.55zM226.74,48.18h0.55v0.55h-0.55zM234.18,37.14h0.55v0.55h-0.55zM234.81,28.4h0.55v0.55h-0.55zM253.41,64.08h0.55v0.55h-0.55zM236.16,42.6h0.55v0.55h-0.55zM224.59,46.85h0.55v0.55h-0.55zM210.93,46.4h0.55v0.55h-0.55zM220.53,64.07h0.55v0.55h-0.55zM249.58,72.52h0.55v0.55h-0.55zM214.84,33.19h0.55v0.55h-0.55zM250.8,63.25h0.55v0.55h-0.55zM245.97,61.61h0.55v0.55h-0.55zM235.38,81.92h0.55v0.55h-0.55zM243.56,61.81h0.55v0.55h-0.55z" fill="#777"/>
<path d="M225.5,67 C225.72,65.17 226.18,59.67 226.8,56 C227.42,52.33 228.25,47.92 229.2,45 C230.15,42.08 231.2,40.07 232.5,38.5 C233.8,36.93 235.5,36.12 237,35.6 C238.5,35.08 240.25,35 241.5,35.4 C242.75,35.8 243.83,36.23 244.5,38 C245.17,39.77 245.3,41.17 245.5,46 C245.7,50.83 245.67,63.5 245.7,67Z" fill="#8c8c8c" stroke="#1a1a1a" stroke-width="0.6" fill-opacity="0.6"/>
<path d="M228.3,67 C228.52,65 229.02,58.67 229.6,55 C230.18,51.33 230.9,47.5 231.8,45 C232.7,42.5 233.8,41.12 235,40 C236.2,38.88 237.78,38.3 239,38.3 C240.22,38.3 241.55,38.55 242.3,40 C243.05,41.45 243.28,42.5 243.5,47 C243.72,51.5 243.58,63.67 243.6,67" fill="none" stroke="#f0f0f0" stroke-width="0.8" />
<path d="M230.6,67 C230.83,64.83 231.35,57.5 232,54 C232.65,50.5 233.5,47.92 234.5,46 C235.5,44.08 236.92,42.75 238,42.5 C239.08,42.25 240.37,42.92 241,44.5 C241.63,46.08 241.67,48.25 241.8,52 C241.93,55.75 241.8,64.5 241.8,67" fill="none" stroke="#222" stroke-width="0.55" />
<path d="M233,67 C233.22,65.17 233.72,59 234.3,56 C234.88,53 235.72,50.42 236.5,49 C237.28,47.58 238.38,46.83 239,47.5 C239.62,48.17 240,49.75 240.2,53 C240.4,56.25 240.2,64.67 240.2,67" fill="none" stroke="#f0f0f0" stroke-width="0.8" />
<path d="M235.2,67 C235.38,65.5 235.83,60.33 236.3,58 C236.77,55.67 237.57,53 238,53 C238.43,53 238.77,55.67 238.9,58 C239.03,60.33 238.82,65.5 238.8,67" fill="none" stroke="#222" stroke-width="0.55" />
<path d="M205.5,79.5 C205.92,78.23 207.75,76.32 209.5,75 C211.25,73.68 213.58,72.57 216,71.6 C218.42,70.63 221.33,69.9 224,69.2 C226.67,68.5 229.33,67.8 232,67.4 C234.67,67 237.58,66.77 240,66.8 C242.42,66.83 244.9,66.82 246.5,67.6 C248.1,68.38 249.13,69.85 249.6,71.5 C250.07,73.15 250.07,75.83 249.3,77.5 C248.53,79.17 247.55,80.45 245,81.5 C242.45,82.55 237.83,83.28 234,83.8 C230.17,84.32 225.67,84.5 222,84.6 C218.33,84.7 214.5,84.73 212,84.4 C209.5,84.07 208.08,83.42 207,82.6 C205.92,81.78 205.08,80.77 205.5,79.5Z" fill="#0a0a0a" stroke="#333" stroke-width="0.6" />
<path d="M206.37,80.95h0.55v0.55h-0.55zM205.87,80.12h0.55v0.55h-0.55zM206.46,80.98h0.55v0.55h-0.55zM208.75,79.44h0.55v0.55h-0.55zM212.48,76.14h0.55v0.55h-0.55zM206.15,82.36h0.55v0.55h-0.55zM205.47,79.82h0.55v0.55h-0.55zM205.85,82.08h0.55v0.55h-0.55zM209.19,78.62h0.55v0.55h-0.55zM206.52,79.98h0.55v0.55h-0.55zM208.66,80.18h0.55v0.55h-0.55zM206.32,82.64h0.55v0.55h-0.55zM205.11,81.29h0.55v0.55h-0.55zM203.83,80.44h0.55v0.55h-0.55zM200.77,79.53h0.55v0.55h-0.55zM204.45,79.79h0.55v0.55h-0.55zM211.34,77.3h0.55v0.55h-0.55zM199.99,81.22h0.55v0.55h-0.55zM207.37,81.1h0.55v0.55h-0.55zM208.77,84.12h0.55v0.55h-0.55zM204.54,78.77h0.55v0.55h-0.55zM205.33,82.71h0.55v0.55h-0.55zM206.87,80.55h0.55v0.55h-0.55zM206.58,81.31h0.55v0.55h-0.55zM201.3,81.56h0.55v0.55h-0.55zM203.62,80.49h0.55v0.55h-0.55zM204.43,80.99h0.55v0.55h-0.55zM208.21,80.55h0.55v0.55h-0.55zM206.2,82.29h0.55v0.55h-0.55zM206.99,79.83h0.55v0.55h-0.55zM207.87,80.24h0.55v0.55h-0.55zM205.08,81.21h0.55v0.55h-0.55zM209.73,79.53h0.55v0.55h-0.55zM204.78,81.12h0.55v0.55h-0.55zM203.57,81.07h0.55v0.55h-0.55zM209.07,78.09h0.55v0.55h-0.55zM205.89,79.77h0.55v0.55h-0.55zM211.12,81.82h0.55v0.55h-0.55zM207.38,80.7h0.55v0.55h-0.55zM203.14,81h0.55v0.55h-0.55z" fill="#888"/>
<path d="M210,78.5 C210.67,77.33 214.67,75.17 218,74 C221.33,72.83 226,72 230,71.5 C234,71 239.33,70.42 242,71 C244.67,71.58 246.33,73.58 246,75 C245.67,76.42 243.33,78.5 240,79.5 C236.67,80.5 230.33,80.75 226,81 C221.67,81.25 216.67,81.42 214,81 C211.33,80.58 209.33,79.67 210,78.5Z" fill="none" stroke="#555" stroke-width="0.5" />
<path d="M218,77.5 C219.33,76.75 224.67,75.03 228,74.5 C231.33,73.97 236,73.88 238,74.3 C240,74.72 241.33,76.25 240,77 C238.67,77.75 233.33,78.47 230,78.8 C226.67,79.13 222,79.22 220,79 C218,78.78 216.67,78.25 218,77.5Z" fill="none" stroke="#444" stroke-width="0.5" />
<rect x="191.6" y="18.2" width="79.6" height="79.4" fill="none" stroke="#555" stroke-width="0.8"/>
<path d="M189.8,95.6h1.8M189.8,91.6h1.8M189.8,85.6h1.8M189.8,75.6h1.8M189.8,69.6h1.8M189.8,66.6h1.8M189.8,64.6h1.8M189.8,53.6h1.8M189.8,47.6h1.8M189.8,44.6h1.8M189.8,42.6h1.8M189.8,31.6h1.8M189.8,25.6h1.8M189.8,22.6h1.8M194.6,97.6v1.8M196.6,97.6v1.8M200.6,97.6v1.8M208.6,97.6v1.8M215.6,97.6v1.8M219.6,97.6v1.8M221.6,97.6v1.8M231.6,97.6v1.8M238.6,97.6v1.8M241.6,97.6v1.8M243.6,97.6v1.8M253.6,97.6v1.8M259.6,97.6v1.8M262.6,97.6v1.8M264.6,97.6v1.8" stroke="#555" stroke-width="0.6" fill="none"/>
<text x="193" y="28.6" font-size="7.3" fill="#222" stroke="#222" stroke-width="0.1241">0.61%</text>
<text x="239" y="28.6" font-size="7.3" fill="#222" stroke="#222" stroke-width="0.1241">13.1%</text>
<text x="193" y="91.8" font-size="7.3" fill="#222" stroke="#222" stroke-width="0.1241">24.5%</text>
<text x="238.3" y="91.8" font-size="7.3" fill="#222" stroke="#222" stroke-width="0.1241">61.8%</text>
<line x1="307.6" y1="18.2" x2="307.6" y2="97.6" stroke="#4a4a4a" stroke-width="0.9"/>
<line x1="274.6" y1="68" x2="354.3" y2="68" stroke="#4a4a4a" stroke-width="0.9"/>
<path d="M316.43,66.8h0.55v0.55h-0.55zM311.18,42.25h0.55v0.55h-0.55zM313.97,71.16h0.55v0.55h-0.55zM317.35,39.95h0.55v0.55h-0.55zM310.38,51.38h0.55v0.55h-0.55zM318.77,52.69h0.55v0.55h-0.55zM312.59,49.72h0.55v0.55h-0.55zM315.75,44.44h0.55v0.55h-0.55zM313.84,55.22h0.55v0.55h-0.55zM322.18,52.54h0.55v0.55h-0.55zM319.94,41.78h0.55v0.55h-0.55zM318.13,54.51h0.55v0.55h-0.55zM311.52,51.84h0.55v0.55h-0.55zM318.87,49.34h0.55v0.55h-0.55zM317.49,69.2h0.55v0.55h-0.55zM320.3,70.55h0.55v0.55h-0.55zM307.56,55.42h0.55v0.55h-0.55zM309.79,62.2h0.55v0.55h-0.55zM314.25,54.83h0.55v0.55h-0.55zM317.02,46.27h0.55v0.55h-0.55zM315.38,44.71h0.55v0.55h-0.55zM324.79,48.52h0.55v0.55h-0.55zM316.12,33.47h0.55v0.55h-0.55zM307.83,42.69h0.55v0.55h-0.55zM317.2,61.07h0.55v0.55h-0.55zM316.2,45.66h0.55v0.55h-0.55zM324.28,42.3h0.55v0.55h-0.55zM309.44,57.21h0.55v0.55h-0.55zM308.99,54.78h0.55v0.55h-0.55zM318.95,52.14h0.55v0.55h-0.55zM316.09,53.03h0.55v0.55h-0.55zM308.18,51.74h0.55v0.55h-0.55zM306.72,45.55h0.55v0.55h-0.55zM313.71,66.89h0.55v0.55h-0.55zM308.02,46.04h0.55v0.55h-0.55zM314.67,58.19h0.55v0.55h-0.55zM305.36,71.77h0.55v0.55h-0.55zM308.96,63.74h0.55v0.55h-0.55zM312.71,56.71h0.55v0.55h-0.55zM321.55,60.88h0.55v0.55h-0.55zM315.86,41.62h0.55v0.55h-0.55zM312.47,36.68h0.55v0.55h-0.55zM325.73,36.61h0.55v0.55h-0.55zM299.7,68.9h0.55v0.55h-0.55zM320.81,49.14h0.55v0.55h-0.55zM319.15,43.91h0.55v0.55h-0.55zM310.76,57.54h0.55v0.55h-0.55zM316.57,47.64h0.55v0.55h-0.55zM321.32,61.17h0.55v0.55h-0.55zM316.1,39.65h0.55v0.55h-0.55zM315.15,49.02h0.55v0.55h-0.55zM312.89,61.02h0.55v0.55h-0.55zM311.01,54.97h0.55v0.55h-0.55zM317.67,56.61h0.55v0.55h-0.55zM327.34,34.59h0.55v0.55h-0.55zM315.11,39.49h0.55v0.55h-0.55zM311.05,79.63h0.55v0.55h-0.55zM306.35,48.37h0.55v0.55h-0.55zM317.25,53.68h0.55v0.55h-0.55zM320.33,35.9h0.55v0.55h-0.55zM319.97,42.44h0.55v0.55h-0.55zM307.48,57.88h0.55v0.55h-0.55zM317.26,44.63h0.55v0.55h-0.55zM310.28,49.73h0.55v0.55h-0.55zM314.24,50.45h0.55v0.55h-0.55zM311.62,26.57h0.55v0.55h-0.55zM320.39,54.82h0.55v0.55h-0.55zM309.67,34.6h0.55v0.55h-0.55zM311.12,47.4h0.55v0.55h-0.55zM302.03,66.4h0.55v0.55h-0.55zM316.54,48.95h0.55v0.55h-0.55zM315.56,54.91h0.55v0.55h-0.55zM319.16,54.42h0.55v0.55h-0.55zM318.63,69.66h0.55v0.55h-0.55zM313.02,47.14h0.55v0.55h-0.55zM309.96,49.24h0.55v0.55h-0.55zM310.47,51.95h0.55v0.55h-0.55zM314.99,58.19h0.55v0.55h-0.55zM307.17,63.4h0.55v0.55h-0.55zM312.65,50.81h0.55v0.55h-0.55zM313.7,30.15h0.55v0.55h-0.55zM317.26,33h0.55v0.55h-0.55zM319.49,53.16h0.55v0.55h-0.55zM321.06,60.01h0.55v0.55h-0.55zM316,67.75h0.55v0.55h-0.55zM312.16,68.89h0.55v0.55h-0.55zM313.14,54.89h0.55v0.55h-0.55zM310.11,57.73h0.55v0.55h-0.55zM317.91,46.99h0.55v0.55h-0.55zM307.75,51.1h0.55v0.55h-0.55zM316.31,50.62h0.55v0.55h-0.55zM310.01,43.78h0.55v0.55h-0.55zM315.6,23.41h0.55v0.55h-0.55zM309.57,67.49h0.55v0.55h-0.55zM307.93,49.1h0.55v0.55h-0.55zM321.63,60.68h0.55v0.55h-0.55zM318.76,50.98h0.55v0.55h-0.55zM304.32,82.82h0.55v0.55h-0.55zM315.27,54.88h0.55v0.55h-0.55zM321.28,61.75h0.55v0.55h-0.55zM315.53,40.12h0.55v0.55h-0.55zM313.43,50.42h0.55v0.55h-0.55zM311.63,42.33h0.55v0.55h-0.55zM309.21,50.32h0.55v0.55h-0.55zM310.65,56.25h0.55v0.55h-0.55zM318.71,56.03h0.55v0.55h-0.55zM312.43,69.09h0.55v0.55h-0.55zM318.88,36.32h0.55v0.55h-0.55zM310.26,53.84h0.55v0.55h-0.55zM308.84,59.9h0.55v0.55h-0.55zM307.44,30.42h0.55v0.55h-0.55zM318.25,58.89h0.55v0.55h-0.55zM306.01,52.09h0.55v0.55h-0.55zM321.9,40.58h0.55v0.55h-0.55zM309.46,38.22h0.55v0.55h-0.55zM311.04,32.66h0.55v0.55h-0.55zM313.21,36.02h0.55v0.55h-0.55zM311.88,76.42h0.55v0.55h-0.55zM307.82,61.41h0.55v0.55h-0.55zM322.33,27.45h0.55v0.55h-0.55zM314.57,51.97h0.55v0.55h-0.55zM311.47,60.57h0.55v0.55h-0.55zM311.45,55.66h0.55v0.55h-0.55zM312.23,50.35h0.55v0.55h-0.55zM307.64,76.43h0.55v0.55h-0.55zM314.96,39.79h0.55v0.55h-0.55zM321.94,70.17h0.55v0.55h-0.55zM313.75,44.78h0.55v0.55h-0.55zM309.01,65.12h0.55v0.55h-0.55zM313.17,44.1h0.55v0.55h-0.55zM318.47,49.51h0.55v0.55h-0.55zM311.62,73.12h0.55v0.55h-0.55zM316.93,66.02h0.55v0.55h-0.55zM314.67,66.26h0.55v0.55h-0.55zM312.11,62.44h0.55v0.55h-0.55zM319.65,48.05h0.55v0.55h-0.55zM307.05,57.22h0.55v0.55h-0.55zM312.74,58.59h0.55v0.55h-0.55zM310.45,57.49h0.55v0.55h-0.55zM316.19,78.28h0.55v0.55h-0.55zM322.43,57.17h0.55v0.55h-0.55zM321.81,45.9h0.55v0.55h-0.55zM319.67,54.12h0.55v0.55h-0.55zM320.23,56.32h0.55v0.55h-0.55zM313.64,44.16h0.55v0.55h-0.55zM320.17,53.28h0.55v0.55h-0.55zM317.02,57.62h0.55v0.55h-0.55zM303.22,57.59h0.55v0.55h-0.55zM311.73,56.11h0.55v0.55h-0.55zM318.37,32.59h0.55v0.55h-0.55zM312.51,51.21h0.55v0.55h-0.55zM314.9,62.47h0.55v0.55h-0.55zM310.89,49.16h0.55v0.55h-0.55zM319.1,32.36h0.55v0.55h-0.55zM324.23,42.64h0.55v0.55h-0.55zM320.37,54.25h0.55v0.55h-0.55zM322.19,64.3h0.55v0.55h-0.55zM315.69,33.52h0.55v0.55h-0.55zM314.3,55.62h0.55v0.55h-0.55zM318.08,38.56h0.55v0.55h-0.55zM310.76,43.12h0.55v0.55h-0.55zM316.35,42.69h0.55v0.55h-0.55zM312.41,62.08h0.55v0.55h-0.55zM310.45,66.47h0.55v0.55h-0.55zM315.74,49.47h0.55v0.55h-0.55zM318.89,57.95h0.55v0.55h-0.55zM313.23,45.47h0.55v0.55h-0.55zM313.41,55.76h0.55v0.55h-0.55zM319.36,55.53h0.55v0.55h-0.55zM312.4,37.25h0.55v0.55h-0.55zM314.84,56.43h0.55v0.55h-0.55zM320.19,46.83h0.55v0.55h-0.55zM306.69,60.49h0.55v0.55h-0.55zM314.48,38.7h0.55v0.55h-0.55zM321.25,62.51h0.55v0.55h-0.55zM314.02,55.1h0.55v0.55h-0.55zM309.24,62.44h0.55v0.55h-0.55zM312.36,46.9h0.55v0.55h-0.55zM313.78,39.49h0.55v0.55h-0.55z" fill="#777"/>
<path d="M315.39,72.01h0.55v0.55h-0.55zM309.97,76.33h0.55v0.55h-0.55zM295.91,70.69h0.55v0.55h-0.55zM315.64,70.03h0.55v0.55h-0.55zM321.01,70.85h0.55v0.55h-0.55zM288.46,63.52h0.55v0.55h-0.55zM304.32,72.36h0.55v0.55h-0.55zM322.87,66.49h0.55v0.55h-0.55zM302.11,78.11h0.55v0.55h-0.55zM319.1,65.95h0.55v0.55h-0.55zM334.04,66.66h0.55v0.55h-0.55zM328.19,69.44h0.55v0.55h-0.55zM297.22,67.17h0.55v0.55h-0.55zM305.43,89.19h0.55v0.55h-0.55zM295.24,85.03h0.55v0.55h-0.55zM330.59,68.57h0.55v0.55h-0.55zM327.96,80.15h0.55v0.55h-0.55zM299.94,71.37h0.55v0.55h-0.55zM327.24,73.7h0.55v0.55h-0.55zM346.18,71.93h0.55v0.55h-0.55zM284.41,76.32h0.55v0.55h-0.55zM284.43,81.39h0.55v0.55h-0.55zM318.94,69.84h0.55v0.55h-0.55zM290.1,81.61h0.55v0.55h-0.55zM299.88,82.51h0.55v0.55h-0.55zM287.44,74.51h0.55v0.55h-0.55zM295.06,68.76h0.55v0.55h-0.55zM294.89,80.4h0.55v0.55h-0.55zM326.19,69.42h0.55v0.55h-0.55zM299.65,76.36h0.55v0.55h-0.55zM314.41,70.72h0.55v0.55h-0.55zM289.95,74.32h0.55v0.55h-0.55zM298.66,79.89h0.55v0.55h-0.55zM307.95,75.31h0.55v0.55h-0.55zM298.39,71.68h0.55v0.55h-0.55zM303.75,72.42h0.55v0.55h-0.55zM278.32,83.37h0.55v0.55h-0.55zM323.08,68.74h0.55v0.55h-0.55zM317.28,66.81h0.55v0.55h-0.55zM282.44,75.64h0.55v0.55h-0.55zM335.38,69.91h0.55v0.55h-0.55zM277.8,79.04h0.55v0.55h-0.55zM295.1,70.89h0.55v0.55h-0.55zM311.75,62.38h0.55v0.55h-0.55zM327,72.28h0.55v0.55h-0.55zM294.69,71.24h0.55v0.55h-0.55zM319.98,80.48h0.55v0.55h-0.55zM293.27,77.45h0.55v0.55h-0.55zM351.59,72.61h0.55v0.55h-0.55zM300.92,77.04h0.55v0.55h-0.55zM309.42,78.12h0.55v0.55h-0.55zM313.19,70.29h0.55v0.55h-0.55zM304.99,76.82h0.55v0.55h-0.55zM294.11,76.21h0.55v0.55h-0.55zM290.74,84.02h0.55v0.55h-0.55zM335.57,65.24h0.55v0.55h-0.55zM323.07,73.34h0.55v0.55h-0.55zM308.54,72.42h0.55v0.55h-0.55zM312.81,79.89h0.55v0.55h-0.55zM284.8,83.34h0.55v0.55h-0.55zM301.24,67.95h0.55v0.55h-0.55zM306.6,78.31h0.55v0.55h-0.55zM305.59,76.26h0.55v0.55h-0.55zM300.35,71.62h0.55v0.55h-0.55zM325.12,66.12h0.55v0.55h-0.55zM325.98,74.07h0.55v0.55h-0.55zM301.7,73.44h0.55v0.55h-0.55zM301.63,74.65h0.55v0.55h-0.55zM306.1,73.45h0.55v0.55h-0.55zM312.98,69.54h0.55v0.55h-0.55zM296.34,74.45h0.55v0.55h-0.55zM287.65,86.31h0.55v0.55h-0.55zM306.91,73.15h0.55v0.55h-0.55zM288.09,82.08h0.55v0.55h-0.55zM321.68,81.82h0.55v0.55h-0.55zM323.14,67.17h0.55v0.55h-0.55zM284.59,85.53h0.55v0.55h-0.55zM294.46,75.08h0.55v0.55h-0.55zM304.59,77.67h0.55v0.55h-0.55zM316.56,66.6h0.55v0.55h-0.55zM293.91,64.93h0.55v0.55h-0.55zM317.38,71.98h0.55v0.55h-0.55zM276.63,84.41h0.55v0.55h-0.55zM306.59,67.97h0.55v0.55h-0.55zM299.04,71.54h0.55v0.55h-0.55zM309.23,75.27h0.55v0.55h-0.55zM296.82,78.15h0.55v0.55h-0.55zM319.83,78.66h0.55v0.55h-0.55zM321.2,66.03h0.55v0.55h-0.55zM275.7,75.9h0.55v0.55h-0.55zM349.37,70.78h0.55v0.55h-0.55zM292.21,65.57h0.55v0.55h-0.55zM309.41,71.14h0.55v0.55h-0.55zM316.42,74.28h0.55v0.55h-0.55zM321.11,68.82h0.55v0.55h-0.55zM284.11,69.74h0.55v0.55h-0.55zM284.18,90.57h0.55v0.55h-0.55zM332.48,67.32h0.55v0.55h-0.55zM331.39,64.64h0.55v0.55h-0.55zM296.41,70.81h0.55v0.55h-0.55zM303.94,78.62h0.55v0.55h-0.55zM344.72,74.19h0.55v0.55h-0.55zM304.98,75.39h0.55v0.55h-0.55zM302.94,76.95h0.55v0.55h-0.55zM291.1,77.63h0.55v0.55h-0.55zM315.91,78.94h0.55v0.55h-0.55zM291.97,78.57h0.55v0.55h-0.55zM311.36,68.58h0.55v0.55h-0.55zM322.57,70.51h0.55v0.55h-0.55zM348.84,72.56h0.55v0.55h-0.55zM293.49,75.13h0.55v0.55h-0.55zM315.53,76.07h0.55v0.55h-0.55zM302.74,77.46h0.55v0.55h-0.55zM309.43,70.91h0.55v0.55h-0.55zM299.23,74.75h0.55v0.55h-0.55zM297.25,80.06h0.55v0.55h-0.55zM325.82,67.52h0.55v0.55h-0.55zM281.87,79.08h0.55v0.55h-0.55zM332.28,73.6h0.55v0.55h-0.55zM314.49,64.56h0.55v0.55h-0.55zM297.04,78.88h0.55v0.55h-0.55zM313.4,73.27h0.55v0.55h-0.55zM317.73,78.07h0.55v0.55h-0.55zM307.72,69.63h0.55v0.55h-0.55zM281.16,78.48h0.55v0.55h-0.55zM303.39,73.42h0.55v0.55h-0.55zM326.36,67.71h0.55v0.55h-0.55zM302.16,78.68h0.55v0.55h-0.55zM288.92,63.04h0.55v0.55h-0.55zM297.23,80.25h0.55v0.55h-0.55zM295.47,73.95h0.55v0.55h-0.55zM304.76,86.29h0.55v0.55h-0.55zM308.1,69.52h0.55v0.55h-0.55zM279.23,75.51h0.55v0.55h-0.55zM283.81,73.05h0.55v0.55h-0.55zM308.33,81.38h0.55v0.55h-0.55zM287.5,84.79h0.55v0.55h-0.55zM294.51,73.28h0.55v0.55h-0.55zM298.12,76.55h0.55v0.55h-0.55zM305.31,72.24h0.55v0.55h-0.55zM293.5,72.33h0.55v0.55h-0.55zM307.21,70.75h0.55v0.55h-0.55zM293,66.9h0.55v0.55h-0.55zM307.38,77.01h0.55v0.55h-0.55zM288.75,82.36h0.55v0.55h-0.55zM305.93,74.81h0.55v0.55h-0.55zM276.14,81.55h0.55v0.55h-0.55zM330.68,83.05h0.55v0.55h-0.55zM295.42,75.09h0.55v0.55h-0.55zM320.32,75.69h0.55v0.55h-0.55zM295.08,75.87h0.55v0.55h-0.55zM324.63,75.35h0.55v0.55h-0.55zM306.29,80.51h0.55v0.55h-0.55zM280.02,79.98h0.55v0.55h-0.55zM294.39,73.36h0.55v0.55h-0.55zM322.4,82.83h0.55v0.55h-0.55zM314.82,73.9h0.55v0.55h-0.55zM336.83,75.09h0.55v0.55h-0.55zM294.21,71.53h0.55v0.55h-0.55zM280.2,81.26h0.55v0.55h-0.55zM311.08,84.21h0.55v0.55h-0.55zM301.73,75.49h0.55v0.55h-0.55zM294.05,81.88h0.55v0.55h-0.55zM330.72,81.47h0.55v0.55h-0.55zM324.74,68.5h0.55v0.55h-0.55zM327.96,66.13h0.55v0.55h-0.55zM295.71,74.4h0.55v0.55h-0.55zM343.9,65.47h0.55v0.55h-0.55zM289.39,77.77h0.55v0.55h-0.55zM328.67,75.02h0.55v0.55h-0.55zM316.3,68.02h0.55v0.55h-0.55zM301.02,82.68h0.55v0.55h-0.55zM308.51,70.15h0.55v0.55h-0.55zM301.84,82.99h0.55v0.55h-0.55zM338.16,72.98h0.55v0.55h-0.55zM293.73,85.94h0.55v0.55h-0.55zM295.8,76.25h0.55v0.55h-0.55zM314.74,73.31h0.55v0.55h-0.55zM305.26,84.24h0.55v0.55h-0.55zM311.92,65.07h0.55v0.55h-0.55zM297.72,83.36h0.55v0.55h-0.55zM303.44,68.56h0.55v0.55h-0.55zM323.92,75.17h0.55v0.55h-0.55zM308.48,77.55h0.55v0.55h-0.55zM300.74,76.15h0.55v0.55h-0.55zM317.28,69.71h0.55v0.55h-0.55zM328.77,65.37h0.55v0.55h-0.55zM344.3,70.26h0.55v0.55h-0.55zM313.14,66.27h0.55v0.55h-0.55zM320.69,67.65h0.55v0.55h-0.55zM316.12,73.32h0.55v0.55h-0.55zM294.2,86.51h0.55v0.55h-0.55zM309.97,70.86h0.55v0.55h-0.55zM301.18,76.96h0.55v0.55h-0.55zM308.91,79.23h0.55v0.55h-0.55zM297.46,76.79h0.55v0.55h-0.55zM298.25,71.17h0.55v0.55h-0.55zM321.26,67.75h0.55v0.55h-0.55zM279,81.66h0.55v0.55h-0.55zM298.72,78.73h0.55v0.55h-0.55zM317.14,76.17h0.55v0.55h-0.55zM309.99,83.33h0.55v0.55h-0.55zM289.74,83.44h0.55v0.55h-0.55zM305.18,76.37h0.55v0.55h-0.55zM300.64,80.33h0.55v0.55h-0.55zM315.81,70.66h0.55v0.55h-0.55zM308.89,77.07h0.55v0.55h-0.55zM306.9,89.24h0.55v0.55h-0.55zM317.47,70.81h0.55v0.55h-0.55zM325.88,73.75h0.55v0.55h-0.55zM298.33,73.43h0.55v0.55h-0.55zM279.98,82.22h0.55v0.55h-0.55zM334.47,70.65h0.55v0.55h-0.55zM292.35,65.9h0.55v0.55h-0.55zM286.18,76.95h0.55v0.55h-0.55zM296.35,74.78h0.55v0.55h-0.55zM292.78,75.2h0.55v0.55h-0.55zM303.86,75.91h0.55v0.55h-0.55zM309.48,75.29h0.55v0.55h-0.55zM293.18,74.42h0.55v0.55h-0.55zM285.84,73.98h0.55v0.55h-0.55zM307.37,76.97h0.55v0.55h-0.55zM283.27,71.59h0.55v0.55h-0.55zM297.41,68.34h0.55v0.55h-0.55zM302.43,73.78h0.55v0.55h-0.55zM296.08,85.38h0.55v0.55h-0.55zM300.23,76.67h0.55v0.55h-0.55zM276.88,82.97h0.55v0.55h-0.55zM313.3,74.82h0.55v0.55h-0.55zM295.92,78.11h0.55v0.55h-0.55zM306.58,71.26h0.55v0.55h-0.55zM300.14,82.54h0.55v0.55h-0.55zM325.61,61.9h0.55v0.55h-0.55zM300.06,78.94h0.55v0.55h-0.55zM300.33,77.01h0.55v0.55h-0.55zM302.89,84.58h0.55v0.55h-0.55zM319.99,71.68h0.55v0.55h-0.55zM332.85,75.12h0.55v0.55h-0.55zM336.79,68.02h0.55v0.55h-0.55zM281.45,82.16h0.55v0.55h-0.55zM306.77,63.95h0.55v0.55h-0.55zM308,69.42h0.55v0.55h-0.55zM299.13,75.93h0.55v0.55h-0.55zM283.69,84.59h0.55v0.55h-0.55zM284.37,77.24h0.55v0.55h-0.55zM307.08,71.33h0.55v0.55h-0.55zM294.2,80.95h0.55v0.55h-0.55zM278.91,77.62h0.55v0.55h-0.55zM335.15,66.29h0.55v0.55h-0.55zM279.67,74.59h0.55v0.55h-0.55zM285.73,71.82h0.55v0.55h-0.55zM291.67,79.56h0.55v0.55h-0.55zM306.83,68.08h0.55v0.55h-0.55zM329.06,65.68h0.55v0.55h-0.55zM332.57,68.16h0.55v0.55h-0.55zM290.25,73.44h0.55v0.55h-0.55zM332.25,71.84h0.55v0.55h-0.55zM305.09,64.42h0.55v0.55h-0.55zM306.08,72.36h0.55v0.55h-0.55zM299.64,70.28h0.55v0.55h-0.55zM279.4,85.05h0.55v0.55h-0.55zM289.88,79.76h0.55v0.55h-0.55zM316.88,73.89h0.55v0.55h-0.55zM309.56,77.65h0.55v0.55h-0.55zM300.45,74.4h0.55v0.55h-0.55zM312.59,74.57h0.55v0.55h-0.55zM299.21,58.87h0.55v0.55h-0.55zM305.14,66.83h0.55v0.55h-0.55zM328.26,79.05h0.55v0.55h-0.55zM311.11,75.14h0.55v0.55h-0.55zM294.07,86.63h0.55v0.55h-0.55zM284.65,90.27h0.55v0.55h-0.55zM302.02,62.42h0.55v0.55h-0.55zM338.64,68.98h0.55v0.55h-0.55zM313.95,79.91h0.55v0.55h-0.55zM278.19,74.67h0.55v0.55h-0.55zM309.92,81.39h0.55v0.55h-0.55zM304.02,78.01h0.55v0.55h-0.55zM275.76,81.04h0.55v0.55h-0.55zM290,74.05h0.55v0.55h-0.55z" fill="#666"/>
<path d="M308.5,69.5 C308.7,56.19 309.88,45.3 314.6,45.3 C319.32,45.3 320.5,56.19 320.9,69.5" fill="none" stroke="#000" stroke-width="0.8" />
<path d="M310.1,69.5 C310.3,58.17 311.16,48.9 314.6,48.9 C318.04,48.9 318.9,58.17 319.3,69.5" fill="none" stroke="#000" stroke-width="0.8" />
<path d="M311.4,69.5 C311.6,60.2 312.2,52.6 314.6,52.6 C317,52.6 317.6,60.2 318,69.5" fill="none" stroke="#000" stroke-width="0.8" />
<path d="M312.5,69.5 C312.7,62.52 313.08,56.8 314.6,56.8 C316.12,56.8 316.5,62.52 316.9,69.5" fill="none" stroke="#000" stroke-width="0.8" />
<path d="M325.75,60.68h0.55v0.55h-0.55zM322.99,63.22h0.55v0.55h-0.55zM321.18,62.28h0.55v0.55h-0.55zM321.72,63.7h0.55v0.55h-0.55zM323.08,67.04h0.55v0.55h-0.55zM322.8,67.25h0.55v0.55h-0.55zM323.13,64.2h0.55v0.55h-0.55zM322.11,60.96h0.55v0.55h-0.55zM320.07,63.61h0.55v0.55h-0.55zM322.17,64.8h0.55v0.55h-0.55zM322.91,60.08h0.55v0.55h-0.55zM321.36,60.5h0.55v0.55h-0.55zM323.9,63.48h0.55v0.55h-0.55zM322.59,61.13h0.55v0.55h-0.55zM320.52,62.07h0.55v0.55h-0.55zM322.25,65.17h0.55v0.55h-0.55zM320.15,64.77h0.55v0.55h-0.55zM321.12,62.24h0.55v0.55h-0.55zM321.9,62.52h0.55v0.55h-0.55zM323.08,66.39h0.55v0.55h-0.55zM322.9,62.19h0.55v0.55h-0.55zM323.01,64.9h0.55v0.55h-0.55zM323.67,64.58h0.55v0.55h-0.55zM320.01,61.54h0.55v0.55h-0.55zM321.8,66.52h0.55v0.55h-0.55zM322.19,66.48h0.55v0.55h-0.55zM322.83,60.27h0.55v0.55h-0.55zM322.46,65.43h0.55v0.55h-0.55zM323,59.4h0.55v0.55h-0.55zM323.02,62.05h0.55v0.55h-0.55zM319.28,62.11h0.55v0.55h-0.55zM319.48,60.02h0.55v0.55h-0.55zM324.52,71.07h0.55v0.55h-0.55zM323.96,65.07h0.55v0.55h-0.55zM325.2,64.8h0.55v0.55h-0.55zM320.94,56.53h0.55v0.55h-0.55zM323.74,57.12h0.55v0.55h-0.55zM318.16,61.85h0.55v0.55h-0.55zM322.49,61.23h0.55v0.55h-0.55zM323.94,63.53h0.55v0.55h-0.55z" fill="#aaa"/>
<path d="M283.5,81 C284.17,79.67 286.75,76.95 289,75.5 C291.25,74.05 294.33,73.17 297,72.3 C299.67,71.43 302.17,70.75 305,70.3 C307.83,69.85 311.17,69.57 314,69.6 C316.83,69.63 319.92,69.85 322,70.5 C324.08,71.15 325.58,72.25 326.5,73.5 C327.42,74.75 327.92,76.58 327.5,78 C327.08,79.42 326.58,80.92 324,82 C321.42,83.08 316.33,83.92 312,84.5 C307.67,85.08 301.83,85.42 298,85.5 C294.17,85.58 291.17,85.33 289,85 C286.83,84.67 285.92,84.17 285,83.5 C284.08,82.83 282.83,82.33 283.5,81Z" fill="#0d0d0d" stroke="#333" stroke-width="0.6" />
<path d="M289,81 C289,79.92 294.5,77.25 298,76 C301.5,74.75 306.17,73.83 310,73.5 C313.83,73.17 318.83,73.25 321,74 C323.17,74.75 324.5,76.75 323,78 C321.5,79.25 316.17,80.75 312,81.5 C307.83,82.25 301.83,82.58 298,82.5 C294.17,82.42 289,82.08 289,81Z" fill="none" stroke="#555" stroke-width="0.5" />
<path d="M282,84 C281.83,83.33 285,82.42 287,82.5 C289,82.58 293.83,83.83 294,84.5 C294.17,85.17 290,86.58 288,86.5 C286,86.42 282.17,84.67 282,84Z" fill="#aaa" stroke="none" stroke-width="1" />
<rect x="274.6" y="18.2" width="79.7" height="79.4" fill="none" stroke="#555" stroke-width="0.8"/>
<path d="M272.8,95.6h1.8M272.8,91.6h1.8M272.8,85.6h1.8M272.8,75.6h1.8M272.8,69.6h1.8M272.8,66.6h1.8M272.8,64.6h1.8M272.8,53.6h1.8M272.8,47.6h1.8M272.8,44.6h1.8M272.8,42.6h1.8M272.8,31.6h1.8M272.8,25.6h1.8M272.8,22.6h1.8M277.6,97.6v1.8M279.6,97.6v1.8M283.6,97.6v1.8M291.6,97.6v1.8M298.6,97.6v1.8M302.6,97.6v1.8M304.6,97.6v1.8M314.6,97.6v1.8M321.6,97.6v1.8M324.6,97.6v1.8M326.6,97.6v1.8M336.6,97.6v1.8M342.6,97.6v1.8M345.6,97.6v1.8M347.6,97.6v1.8" stroke="#555" stroke-width="0.6" fill="none"/>
<text x="275.4" y="28.6" font-size="7.3" fill="#222" stroke="#222" stroke-width="0.1241">0.76%</text>
<text x="321" y="28.6" font-size="7.3" fill="#6a38b0" stroke="#6a38b0" stroke-width="0.1241">5.98%</text>
<text x="275.3" y="91.8" font-size="7.3" fill="#222" stroke="#222" stroke-width="0.1241">46.6%</text>
<text x="321.3" y="91.8" font-size="7.3" fill="#6a38b0" stroke="#6a38b0" stroke-width="0.1241">46.6%</text>
<text transform="translate(188.3,97.7) rotate(-90)" font-size="8.4" fill="#111" stroke="#111" stroke-width="0.1428">IL-17A</text>
<line x1="185" y1="71" x2="185" y2="49" stroke="#111" stroke-width="0.8"/>
<path d="M183.6,50.6 L185,46.4 L186.4,50.6Z" fill="#111" stroke="none" stroke-width="1" />
<text x="192.9" y="111.9" font-size="9" fill="#111" stroke="#111" stroke-width="0.15300000000000002">RORγt</text>
<line x1="222.2" y1="109.3" x2="246" y2="109.3" stroke="#111" stroke-width="0.8"/>
<path d="M245,107.9 L249,109.3 L245,110.7Z" fill="#111" stroke="none" stroke-width="1" />
<text x="366.3" y="11.7" font-size="15" fill="#000" font-weight="bold">c)</text>
<rect x="367.6" y="17.6" width="80.1" height="79.9" fill="#fff" stroke="none" stroke-width="1"/>
<path d="M371,57.8 C372,57.73 375.27,57.8 377,57.4 C378.73,57 380.03,56.13 381.4,55.4 C382.77,54.67 384.3,54.23 385.2,53 C386.1,51.77 386.32,50.02 386.8,48 C387.28,45.98 387.4,43.68 388.1,40.9 C388.8,38.12 390.05,33.37 391,31.3 C391.95,29.23 392.85,29.33 393.8,28.5 C394.75,27.67 395.97,26.95 396.7,26.3 C397.43,25.65 397.77,24.48 398.2,24.6 C398.63,24.72 398.92,25.88 399.3,27 C399.68,28.12 399.98,28.98 400.5,31.3 C401.02,33.62 401.77,37.45 402.4,40.9 C403.03,44.35 403.67,49.48 404.3,52 C404.93,54.52 405.5,55.1 406.2,56 C406.9,56.9 407.53,57.1 408.5,57.4 C409.47,57.7 411.42,57.73 412,57.8 L412,57.8 L371,57.8 Z" fill="#efefef" stroke="none" stroke-width="1" />
<path d="M371,57.8 C372,57.73 375.27,57.8 377,57.4 C378.73,57 380.03,56.13 381.4,55.4 C382.77,54.67 384.3,54.23 385.2,53 C386.1,51.77 386.32,50.02 386.8,48 C387.28,45.98 387.4,43.68 388.1,40.9 C388.8,38.12 390.05,33.37 391,31.3 C391.95,29.23 392.85,29.33 393.8,28.5 C394.75,27.67 395.97,26.95 396.7,26.3 C397.43,25.65 397.77,24.48 398.2,24.6 C398.63,24.72 398.92,25.88 399.3,27 C399.68,28.12 399.98,28.98 400.5,31.3 C401.02,33.62 401.77,37.45 402.4,40.9 C403.03,44.35 403.67,49.48 404.3,52 C404.93,54.52 405.5,55.1 406.2,56 C406.9,56.9 407.53,57.1 408.5,57.4 C409.47,57.7 411.42,57.73 412,57.8" fill="none" stroke="#444" stroke-width="0.6" />
<path d="M399.5,77.6 C400,77.25 401.55,76.52 402.5,75.5 C403.45,74.48 404.27,74.42 405.2,71.5 C406.13,68.58 407.22,61.58 408.1,58 C408.98,54.42 409.7,52.23 410.5,50 C411.3,47.77 412.22,45.1 412.9,44.6 C413.58,44.1 413.97,45.38 414.6,47 C415.23,48.62 416.1,51.97 416.7,54.3 C417.3,56.63 417.73,58.78 418.2,61 C418.67,63.22 418.95,65.68 419.5,67.6 C420.05,69.52 420.87,71.23 421.5,72.5 C422.13,73.77 422.37,74.35 423.3,75.2 C424.23,76.05 426.47,77.2 427.1,77.6 L427.1,77.7 L399.5,77.7 Z" fill="#cfcfcf" stroke="none" stroke-width="1" />
<path d="M399.5,77.6 C400,77.25 401.55,76.52 402.5,75.5 C403.45,74.48 404.27,74.42 405.2,71.5 C406.13,68.58 407.22,61.58 408.1,58 C408.98,54.42 409.7,52.23 410.5,50 C411.3,47.77 412.22,45.1 412.9,44.6 C413.58,44.1 413.97,45.38 414.6,47 C415.23,48.62 416.1,51.97 416.7,54.3 C417.3,56.63 417.73,58.78 418.2,61 C418.67,63.22 418.95,65.68 419.5,67.6 C420.05,69.52 420.87,71.23 421.5,72.5 C422.13,73.77 422.37,74.35 423.3,75.2 C424.23,76.05 426.47,77.2 427.1,77.6" fill="none" stroke="#333" stroke-width="0.6" />
<path d="M392.3,97.4 C392.75,97.2 394.13,96.55 395,96.2 C395.87,95.85 396.72,95.92 397.5,95.3 C398.28,94.68 398.87,93.88 399.7,92.5 C400.53,91.12 401.57,89.47 402.5,87 C403.43,84.53 404.53,80.23 405.3,77.7 C406.07,75.17 406.58,72.72 407.1,71.8 C407.62,70.88 408,70.9 408.4,72.2 C408.8,73.5 408.93,76.98 409.5,79.6 C410.07,82.22 410.8,85.6 411.8,87.9 C412.8,90.2 414.33,91.83 415.5,93.4 C416.67,94.97 418.25,96.65 418.8,97.3 L418.8,97.5 L392.3,97.5 Z" fill="#8a52dc" stroke="none" stroke-width="1" />
<path d="M392.3,97.4 C392.75,97.2 394.13,96.55 395,96.2 C395.87,95.85 396.72,95.92 397.5,95.3 C398.28,94.68 398.87,93.88 399.7,92.5 C400.53,91.12 401.57,89.47 402.5,87 C403.43,84.53 404.53,80.23 405.3,77.7 C406.07,75.17 406.58,72.72 407.1,71.8 C407.62,70.88 408,70.9 408.4,72.2 C408.8,73.5 408.93,76.98 409.5,79.6 C410.07,82.22 410.8,85.6 411.8,87.9 C412.8,90.2 414.33,91.83 415.5,93.4 C416.67,94.97 418.25,96.65 418.8,97.3" fill="none" stroke="#5a2a9a" stroke-width="0.5" />
<rect x="367.6" y="17.6" width="80.1" height="79.9" fill="none" stroke="#555" stroke-width="0.8"/>
<line x1="367.6" y1="57.8" x2="447.7" y2="57.8" stroke="#555" stroke-width="0.7"/>
<line x1="367.6" y1="77.7" x2="447.7" y2="77.7" stroke="#555" stroke-width="0.7"/>
<path d="M370.6,97.5v1.6M373.6,97.5v1.6M375.6,97.5v1.6M384.6,97.5v1.6M393.6,97.5v1.6M397.6,97.5v1.6M400.6,97.5v1.6M409.6,97.5v1.6M417.6,97.5v1.6M420.6,97.5v1.6M423.6,97.5v1.6M433.6,97.5v1.6M439.6,97.5v1.6M442.6,97.5v1.6" stroke="#666" stroke-width="0.6" fill="none"/>
<text x="371.3" y="70" font-size="5.9" fill="#222" stroke="#222" stroke-width="0.10030000000000001">MFI - 3479</text>
<text x="370.2" y="89.2" font-size="5.9" fill="#6a38b0" stroke="#6a38b0" stroke-width="0.10030000000000001">MFI - 1910</text>
<line x1="413.6" y1="24.4" x2="421.9" y2="24.4" stroke="#bbb" stroke-width="0.8"/>
<line x1="413.6" y1="32.8" x2="421.9" y2="32.8" stroke="#222" stroke-width="0.8"/>
<line x1="413.6" y1="40.2" x2="421.9" y2="40.2" stroke="#b88ee6" stroke-width="0.8"/>
<text x="425" y="26.4" font-size="6.1" fill="#222" stroke="#222" stroke-width="0.1037">IgG Ctrl</text>
<text x="425" y="34.8" font-size="6.1" fill="#222" stroke="#222" stroke-width="0.1037">WT</text>
<text x="425" y="42.2" font-size="6.1" fill="#6a38b0" stroke="#6a38b0" stroke-width="0.1037">XPC<tspan baseline-shift="super" font-size="4">-/-</tspan></text>
<text transform="translate(366.6,97.2) rotate(-90)" font-size="8.6" fill="#111" stroke="#111" stroke-width="0.1462">Count</text>
<line x1="363.5" y1="72.3" x2="363.5" y2="53.1" stroke="#111" stroke-width="0.8"/>
<path d="M362.1,54.1 L363.5,50.1 L364.9,54.1Z" fill="#111" stroke="none" stroke-width="1" />
<text x="366.4" y="111.6" font-size="8.8" fill="#111" stroke="#111" stroke-width="0.1496">RORγt</text>
<line x1="397" y1="108.7" x2="420.2" y2="108.7" stroke="#111" stroke-width="0.8"/>
<path d="M419.2,107.3 L423.2,108.7 L419.2,110.1Z" fill="#111" stroke="none" stroke-width="1" />
<text x="455.4" y="11.7" font-size="15" fill="#000" font-weight="bold">d)</text>
<line x1="479.5" y1="29.9" x2="479.5" y2="92.6" stroke="#333" stroke-width="0.7"/>
<line x1="479.5" y1="92.6" x2="514.2" y2="92.6" stroke="#333" stroke-width="0.7"/>
<line x1="477.5" y1="92.6" x2="479.5" y2="92.6" stroke="#333" stroke-width="0.7"/>
<text x="476.9" y="95.08" font-size="7.0" fill="#333" text-anchor="end" stroke="#333" stroke-width="0.11900000000000001">0</text>
<line x1="477.5" y1="71.7" x2="479.5" y2="71.7" stroke="#333" stroke-width="0.7"/>
<text x="476.9" y="74.18" font-size="7.0" fill="#333" text-anchor="end" stroke="#333" stroke-width="0.11900000000000001">5</text>
<line x1="477.5" y1="50.8" x2="479.5" y2="50.8" stroke="#333" stroke-width="0.7"/>
<text x="476.9" y="53.28" font-size="7.0" fill="#333" text-anchor="end" stroke="#333" stroke-width="0.11900000000000001">10</text>
<line x1="477.5" y1="29.9" x2="479.5" y2="29.9" stroke="#333" stroke-width="0.7"/>
<text x="476.9" y="32.38" font-size="7.0" fill="#333" text-anchor="end" stroke="#333" stroke-width="0.11900000000000001">15</text>
<line x1="489" y1="92.6" x2="489" y2="94.4" stroke="#333" stroke-width="0.6"/>
<line x1="504.05" y1="92.6" x2="504.05" y2="94.4" stroke="#333" stroke-width="0.6"/>
<rect x="484.2" y="45.5" width="9.6" height="47.1" fill="#bdbdbd" stroke="#222" stroke-width="0.7"/>
<rect x="499.1" y="63.9" width="9.9" height="28.7" fill="#5020a8" stroke="#2b0c5c" stroke-width="0.7"/>
<circle cx="489.1" cy="38.1" r="2.9" fill="#000"/>
<circle cx="486.6" cy="46.6" r="2.9" fill="#000"/>
<circle cx="491.6" cy="45.3" r="2.9" fill="#000"/>
<circle cx="489.2" cy="48.4" r="2.9" fill="#000"/>
<circle cx="505.6" cy="59.5" r="2.9" fill="#a232f2" stroke="#3d0a7a" stroke-width="0.6"/>
<circle cx="502.5" cy="64.2" r="2.9" fill="#a232f2" stroke="#3d0a7a" stroke-width="0.6"/>
<circle cx="505.9" cy="64.7" r="2.9" fill="#a232f2" stroke="#3d0a7a" stroke-width="0.6"/>
<circle cx="503.8" cy="68.6" r="2.9" fill="#a232f2" stroke="#3d0a7a" stroke-width="0.6"/>
<path d="M488.9,30.2V26.8H503.8V56.9" fill="none" stroke="#555" stroke-width="0.7" />
<text x="496.35" y="27.2" font-size="9" fill="#111" text-anchor="middle" font-weight="bold">***</text>
<text transform="translate(461.2,59.3) rotate(-90)" font-size="6.9" fill="#222" text-anchor="middle" stroke="#222" stroke-width="0.11730000000000002">CD4<tspan baseline-shift="super" font-size="4.6">+</tspan>IL17A<tspan baseline-shift="super" font-size="4.6">+</tspan>RORγt<tspan baseline-shift="super" font-size="4.6">+</tspan> (%)</text>
<text x="521.5" y="11.7" font-size="15" fill="#000" font-weight="bold">e)</text>
<line x1="546.8" y1="29.4" x2="546.8" y2="91.9" stroke="#333" stroke-width="0.7"/>
<line x1="546.8" y1="91.9" x2="582.5" y2="91.9" stroke="#333" stroke-width="0.7"/>
<line x1="544.8" y1="91.9" x2="546.8" y2="91.9" stroke="#333" stroke-width="0.7"/>
<text x="544.2" y="94.39" font-size="7.0" fill="#333" text-anchor="end" stroke="#333" stroke-width="0.11900000000000001">0</text>
<line x1="544.8" y1="76.28" x2="546.8" y2="76.28" stroke="#333" stroke-width="0.7"/>
<text x="544.2" y="78.76" font-size="7.0" fill="#333" text-anchor="end" stroke="#333" stroke-width="0.11900000000000001">20</text>
<line x1="544.8" y1="60.65" x2="546.8" y2="60.65" stroke="#333" stroke-width="0.7"/>
<text x="544.2" y="63.14" font-size="7.0" fill="#333" text-anchor="end" stroke="#333" stroke-width="0.11900000000000001">40</text>
<line x1="544.8" y1="45.02" x2="546.8" y2="45.02" stroke="#333" stroke-width="0.7"/>
<text x="544.2" y="47.51" font-size="7.0" fill="#333" text-anchor="end" stroke="#333" stroke-width="0.11900000000000001">60</text>
<line x1="544.8" y1="29.4" x2="546.8" y2="29.4" stroke="#333" stroke-width="0.7"/>
<text x="544.2" y="31.88" font-size="7.0" fill="#333" text-anchor="end" stroke="#333" stroke-width="0.11900000000000001">80</text>
<line x1="557.4" y1="91.9" x2="557.4" y2="93.7" stroke="#333" stroke-width="0.6"/>
<line x1="572.1" y1="91.9" x2="572.1" y2="93.7" stroke="#333" stroke-width="0.6"/>
<rect x="552.6" y="46" width="9.6" height="45.9" fill="#bdbdbd" stroke="#222" stroke-width="0.7"/>
<rect x="567.3" y="58.1" width="9.6" height="33.8" fill="#5020a8" stroke="#2b0c5c" stroke-width="0.7"/>
<circle cx="556.9" cy="35.5" r="2.9" fill="#000"/>
<circle cx="554.6" cy="42.7" r="2.9" fill="#000"/>
<circle cx="559.2" cy="41.2" r="2.9" fill="#000"/>
<circle cx="556.9" cy="44.2" r="2.9" fill="#000"/>
<circle cx="573.8" cy="52.4" r="2.9" fill="#a232f2" stroke="#3d0a7a" stroke-width="0.6"/>
<circle cx="569.2" cy="55.8" r="2.9" fill="#a232f2" stroke="#3d0a7a" stroke-width="0.6"/>
<circle cx="574.6" cy="60.1" r="2.9" fill="#a232f2" stroke="#3d0a7a" stroke-width="0.6"/>
<circle cx="570" cy="61.9" r="2.9" fill="#a232f2" stroke="#3d0a7a" stroke-width="0.6"/>
<path d="M556.8,31.5V28.4H572.3V49" fill="none" stroke="#555" stroke-width="0.7" />
<text x="564.55" y="28.8" font-size="9" fill="#111" text-anchor="middle" font-weight="bold">***</text>
<text transform="translate(529.3,57.8) rotate(-90)" font-size="7.75" fill="#222" text-anchor="middle" stroke="#222" stroke-width="0.13175">CD4<tspan baseline-shift="super" font-size="5.1">+</tspan>RORγt<tspan baseline-shift="super" font-size="5.1">+</tspan> (%)</text>
<text x="601.5" y="11.7" font-size="15" fill="#000" font-weight="bold">f)</text>
<line x1="622.5" y1="28.9" x2="622.5" y2="92.2" stroke="#333" stroke-width="0.7"/>
<line x1="622.5" y1="92.2" x2="656.6" y2="92.2" stroke="#333" stroke-width="0.7"/>
<line x1="620.5" y1="92.2" x2="622.5" y2="92.2" stroke="#333" stroke-width="0.7"/>
<text x="619.9" y="94.69" font-size="7.0" fill="#333" text-anchor="end" stroke="#333" stroke-width="0.11900000000000001">0</text>
<line x1="620.5" y1="76.38" x2="622.5" y2="76.38" stroke="#333" stroke-width="0.7"/>
<text x="619.9" y="78.86" font-size="7.0" fill="#333" text-anchor="end" stroke="#333" stroke-width="0.11900000000000001">1000</text>
<line x1="620.5" y1="60.55" x2="622.5" y2="60.55" stroke="#333" stroke-width="0.7"/>
<text x="619.9" y="63.03" font-size="7.0" fill="#333" text-anchor="end" stroke="#333" stroke-width="0.11900000000000001">2000</text>
<line x1="620.5" y1="44.72" x2="622.5" y2="44.72" stroke="#333" stroke-width="0.7"/>
<text x="619.9" y="47.21" font-size="7.0" fill="#333" text-anchor="end" stroke="#333" stroke-width="0.11900000000000001">3000</text>
<line x1="620.5" y1="28.9" x2="622.5" y2="28.9" stroke="#333" stroke-width="0.7"/>
<text x="619.9" y="31.38" font-size="7.0" fill="#333" text-anchor="end" stroke="#333" stroke-width="0.11900000000000001">4000</text>
<line x1="631.95" y1="92.2" x2="631.95" y2="94" stroke="#333" stroke-width="0.6"/>
<line x1="647" y1="92.2" x2="647" y2="94" stroke="#333" stroke-width="0.6"/>
<rect x="627.1" y="46.5" width="9.7" height="45.7" fill="#bdbdbd" stroke="#222" stroke-width="0.7"/>
<rect x="642.2" y="62.7" width="9.6" height="29.5" fill="#5020a8" stroke="#2b0c5c" stroke-width="0.7"/>
<circle cx="630.4" cy="38" r="2.9" fill="#000"/>
<circle cx="634.3" cy="37.3" r="2.9" fill="#000"/>
<circle cx="629.2" cy="43.1" r="2.9" fill="#000"/>
<circle cx="633.4" cy="44.2" r="2.9" fill="#000"/>
<circle cx="631.1" cy="46.8" r="2.9" fill="#000"/>
<circle cx="646.6" cy="54.6" r="2.9" fill="#a232f2" stroke="#3d0a7a" stroke-width="0.6"/>
<circle cx="645.4" cy="61.6" r="2.9" fill="#a232f2" stroke="#3d0a7a" stroke-width="0.6"/>
<circle cx="647.9" cy="63.9" r="2.9" fill="#a232f2" stroke="#3d0a7a" stroke-width="0.6"/>
<circle cx="645.4" cy="66.2" r="2.9" fill="#a232f2" stroke="#3d0a7a" stroke-width="0.6"/>
<circle cx="648.9" cy="67" r="2.9" fill="#a232f2" stroke="#3d0a7a" stroke-width="0.6"/>
<path d="M632.4,29.5V26H647V51.5" fill="none" stroke="#555" stroke-width="0.7" />
<text x="639.7" y="26.9" font-size="9" fill="#111" text-anchor="middle" font-weight="bold">****</text>
<text transform="translate(595.8,59) rotate(-90)" font-size="7.4" fill="#222" text-anchor="middle" stroke="#222" stroke-width="0.12580000000000002">RORγt (MFI)</text>
<circle cx="662.3" cy="29.4" r="3.4" fill="#000"/>
<circle cx="662.3" cy="38.6" r="3.4" fill="#a232f2" stroke="#4a1a8a" stroke-width="0.6"/>
<text x="668.7" y="31.4" font-size="5.8" fill="#111" stroke="#111" stroke-width="0.09860000000000001">WT</text>
<text x="668.7" y="40.6" font-size="5.8" fill="#6a38b0" stroke="#6a38b0" stroke-width="0.09860000000000001">XPC<tspan baseline-shift="super" font-size="4">-/-</tspan></text>
<text x="175.6" y="129" font-size="15" fill="#000" font-weight="bold">g)</text>
<rect x="192.3" y="122" width="88.3" height="79.8" fill="#fff" stroke="none" stroke-width="1"/>
<path d="M202.7,162.5 C203.47,162.13 206.07,162.05 207.3,160.3 C208.53,158.55 209.32,155.23 210.1,152 C210.88,148.77 211.38,144.45 212,140.9 C212.62,137.35 213.13,132.85 213.8,130.7 C214.47,128.55 215.32,128.15 216,128 C216.68,127.85 217.33,127.65 217.9,129.8 C218.47,131.95 218.85,136.9 219.4,140.9 C219.95,144.9 220.53,150.42 221.2,153.8 C221.87,157.18 222.63,159.73 223.4,161.2 C224.17,162.67 225.4,162.37 225.8,162.6 L225.8,162.8 L202.7,162.8 Z" fill="#ececec" stroke="none" stroke-width="1" />
<path d="M202.7,162.5 C203.47,162.13 206.07,162.05 207.3,160.3 C208.53,158.55 209.32,155.23 210.1,152 C210.88,148.77 211.38,144.45 212,140.9 C212.62,137.35 213.13,132.85 213.8,130.7 C214.47,128.55 215.32,128.15 216,128 C216.68,127.85 217.33,127.65 217.9,129.8 C218.47,131.95 218.85,136.9 219.4,140.9 C219.95,144.9 220.53,150.42 221.2,153.8 C221.87,157.18 222.63,159.73 223.4,161.2 C224.17,162.67 225.4,162.37 225.8,162.6" fill="none" stroke="#555" stroke-width="0.6" />
<path d="M222.1,182.3 C222.5,181.13 223.73,178 224.5,175.3 C225.27,172.6 226.08,169.48 226.7,166.1 C227.32,162.72 227.8,158.28 228.2,155 C228.6,151.72 228.73,146.4 229.1,146.4 C229.47,146.4 229.88,151.27 230.4,155 C230.92,158.73 231.43,165.27 232.2,168.8 C232.97,172.33 233.77,174.2 235,176.2 C236.23,178.2 238.22,179.78 239.6,180.8 C240.98,181.82 242.68,182.05 243.3,182.3 L243.3,182.3 L222.1,182.3 Z" fill="#8e8e8e" stroke="none" stroke-width="1" />
<path d="M222.1,182.3 C222.5,181.13 223.73,178 224.5,175.3 C225.27,172.6 226.08,169.48 226.7,166.1 C227.32,162.72 227.8,158.28 228.2,155 C228.6,151.72 228.73,146.4 229.1,146.4 C229.47,146.4 229.88,151.27 230.4,155 C230.92,158.73 231.43,165.27 232.2,168.8 C232.97,172.33 233.77,174.2 235,176.2 C236.23,178.2 238.22,179.78 239.6,180.8 C240.98,181.82 242.68,182.05 243.3,182.3" fill="none" stroke="#333" stroke-width="0.6" />
<path d="M217.5,201.6 C218.27,200.3 220.72,197.57 222.1,193.8 C223.48,190.03 224.78,183.32 225.8,179 C226.82,174.68 227.65,170 228.2,167.9 C228.75,165.8 228.73,166.25 229.1,166.4 C229.47,166.55 229.82,166.08 230.4,168.8 C230.98,171.52 231.83,178.23 232.6,182.7 C233.37,187.17 234.3,192.45 235,195.6 C235.7,198.75 236.5,200.6 236.8,201.6 L236.8,201.8 L217.5,201.8 Z" fill="#6f14f0" stroke="none" stroke-width="1" fill-opacity="0.66"/>
<path d="M217.5,201.6 C218.27,200.3 220.72,197.57 222.1,193.8 C223.48,190.03 224.78,183.32 225.8,179 C226.82,174.68 227.65,170 228.2,167.9 C228.75,165.8 228.73,166.25 229.1,166.4 C229.47,166.55 229.82,166.08 230.4,168.8 C230.98,171.52 231.83,178.23 232.6,182.7 C233.37,187.17 234.3,192.45 235,195.6 C235.7,198.75 236.5,200.6 236.8,201.6" fill="none" stroke="#4a2080" stroke-width="0.6" />
<rect x="192.3" y="122" width="88.3" height="79.8" fill="none" stroke="#555" stroke-width="0.8"/>
<line x1="192.3" y1="162.8" x2="280.6" y2="162.8" stroke="#555" stroke-width="0.7"/>
<line x1="192.3" y1="182.3" x2="280.6" y2="182.3" stroke="#555" stroke-width="0.7"/>
<path d="M195.3,201.8v1.6M198.3,201.8v1.6M200.3,201.8v1.6M209.3,201.8v1.6M218.3,201.8v1.6M222.3,201.8v1.6M225.3,201.8v1.6M234.3,201.8v1.6M242.3,201.8v1.6M245.3,201.8v1.6M248.3,201.8v1.6M258.3,201.8v1.6M264.3,201.8v1.6M267.3,201.8v1.6" stroke="#666" stroke-width="0.6" fill="none"/>
<text x="244.2" y="175.2" font-size="5.85" fill="#222" stroke="#222" stroke-width="0.09945">MFI - 950</text>
<text x="244.2" y="196" font-size="5.85" fill="#6a38b0" stroke="#6a38b0" stroke-width="0.09945">MFI - 797</text>
<text transform="translate(190.6,202.8) rotate(-90)" font-size="8.3" fill="#111" stroke="#111" stroke-width="0.14110000000000003">Count</text>
<line x1="187.9" y1="178.4" x2="187.9" y2="157.7" stroke="#111" stroke-width="0.8"/>
<path d="M186.5,158.7 L187.9,154.7 L189.3,158.7Z" fill="#111" stroke="none" stroke-width="1" />
<text x="193.5" y="214.3" font-size="8.6" fill="#111" stroke="#111" stroke-width="0.1462">pSTAT3</text>
<line x1="227.6" y1="211.2" x2="250.4" y2="211.2" stroke="#111" stroke-width="0.8"/>
<path d="M249.4,209.8 L253.4,211.2 L249.4,212.6Z" fill="#111" stroke="none" stroke-width="1" />
<text x="291.6" y="126.9" font-size="15" fill="#000" font-weight="bold">h)</text>
<line x1="306.2" y1="134.4" x2="306.2" y2="200.2" stroke="#333" stroke-width="0.7"/>
<line x1="306.2" y1="200.2" x2="340.6" y2="200.2" stroke="#333" stroke-width="0.7"/>
<line x1="304.2" y1="200.2" x2="306.2" y2="200.2" stroke="#333" stroke-width="0.7"/>
<text x="303.6" y="202.47" font-size="6.4" fill="#333" text-anchor="end" stroke="#333" stroke-width="0.10880000000000001">0</text>
<line x1="304.2" y1="183.75" x2="306.2" y2="183.75" stroke="#333" stroke-width="0.7"/>
<text x="303.6" y="186.02" font-size="6.4" fill="#333" text-anchor="end" stroke="#333" stroke-width="0.10880000000000001">10</text>
<line x1="304.2" y1="167.3" x2="306.2" y2="167.3" stroke="#333" stroke-width="0.7"/>
<text x="303.6" y="169.57" font-size="6.4" fill="#333" text-anchor="end" stroke="#333" stroke-width="0.10880000000000001">20</text>
<line x1="304.2" y1="150.85" x2="306.2" y2="150.85" stroke="#333" stroke-width="0.7"/>
<text x="303.6" y="153.12" font-size="6.4" fill="#333" text-anchor="end" stroke="#333" stroke-width="0.10880000000000001">30</text>
<line x1="304.2" y1="134.4" x2="306.2" y2="134.4" stroke="#333" stroke-width="0.7"/>
<text x="303.6" y="136.67" font-size="6.4" fill="#333" text-anchor="end" stroke="#333" stroke-width="0.10880000000000001">40</text>
<line x1="317.15" y1="200.2" x2="317.15" y2="202" stroke="#333" stroke-width="0.6"/>
<line x1="332.55" y1="200.2" x2="332.55" y2="202" stroke="#333" stroke-width="0.6"/>
<rect x="311.7" y="147.7" width="10.9" height="52.5" fill="#e8e8e8" stroke="#222" stroke-width="0.7"/>
<rect x="327.5" y="162" width="10.1" height="38.2" fill="#5020a8" stroke="#2b0c5c" stroke-width="0.7"/>
<circle cx="317.6" cy="141" r="3" fill="#000"/>
<circle cx="320.1" cy="148.4" r="3" fill="#000"/>
<circle cx="313.9" cy="151.6" r="3" fill="#000"/>
<circle cx="330.7" cy="161.5" r="3" fill="#a232f2" stroke="#3d0a7a" stroke-width="0.6"/>
<circle cx="333.9" cy="161" r="3" fill="#a232f2" stroke="#3d0a7a" stroke-width="0.6"/>
<circle cx="336.4" cy="162" r="3" fill="#a232f2" stroke="#3d0a7a" stroke-width="0.6"/>
<path d="M316.6,138.6V133.6H332.4V157.5" fill="none" stroke="#555" stroke-width="0.7" />
<text x="324.5" y="133.6" font-size="10" fill="#111" text-anchor="middle" font-weight="bold">*</text>
<text transform="translate(291.6,164.1) rotate(-90)" font-size="6.4" fill="#222" text-anchor="middle" stroke="#222" stroke-width="0.10880000000000001">% CD4<tspan baseline-shift="super" font-size="4.2">+</tspan>pSTAT3<tspan baseline-shift="super" font-size="4.2">+</tspan></text>
<text x="349.5" y="126.9" font-size="15" fill="#000" font-weight="bold">i)</text>
<line x1="379.3" y1="133.4" x2="379.3" y2="200.6" stroke="#333" stroke-width="0.7"/>
<line x1="379.3" y1="200.6" x2="412" y2="200.6" stroke="#333" stroke-width="0.7"/>
<line x1="377.3" y1="200.6" x2="379.3" y2="200.6" stroke="#333" stroke-width="0.7"/>
<text x="376.7" y="202.87" font-size="6.4" fill="#333" text-anchor="end" stroke="#333" stroke-width="0.10880000000000001">0</text>
<line x1="377.3" y1="187.16" x2="379.3" y2="187.16" stroke="#333" stroke-width="0.7"/>
<text x="376.7" y="189.43" font-size="6.4" fill="#333" text-anchor="end" stroke="#333" stroke-width="0.10880000000000001">200</text>
<line x1="377.3" y1="173.72" x2="379.3" y2="173.72" stroke="#333" stroke-width="0.7"/>
<text x="376.7" y="175.99" font-size="6.4" fill="#333" text-anchor="end" stroke="#333" stroke-width="0.10880000000000001">400</text>
<line x1="377.3" y1="160.28" x2="379.3" y2="160.28" stroke="#333" stroke-width="0.7"/>
<text x="376.7" y="162.55" font-size="6.4" fill="#333" text-anchor="end" stroke="#333" stroke-width="0.10880000000000001">600</text>
<line x1="377.3" y1="146.84" x2="379.3" y2="146.84" stroke="#333" stroke-width="0.7"/>
<text x="376.7" y="149.11" font-size="6.4" fill="#333" text-anchor="end" stroke="#333" stroke-width="0.10880000000000001">800</text>
<line x1="377.3" y1="133.4" x2="379.3" y2="133.4" stroke="#333" stroke-width="0.7"/>
<text x="376.7" y="135.67" font-size="6.4" fill="#333" text-anchor="end" stroke="#333" stroke-width="0.10880000000000001">1000</text>
<line x1="387.1" y1="200.6" x2="387.1" y2="202.4" stroke="#333" stroke-width="0.6"/>
<line x1="402.9" y1="200.6" x2="402.9" y2="202.4" stroke="#333" stroke-width="0.6"/>
<rect x="382.1" y="139" width="10" height="61.6" fill="#e8e8e8" stroke="#222" stroke-width="0.7"/>
<rect x="397.9" y="146.3" width="10" height="54.3" fill="#5020a8" stroke="#2b0c5c" stroke-width="0.7"/>
<circle cx="386.4" cy="135.4" r="3" fill="#000"/>
<circle cx="384.1" cy="142" r="3" fill="#000"/>
<circle cx="390.1" cy="139.7" r="3" fill="#000"/>
<circle cx="400.2" cy="146.3" r="3" fill="#a232f2" stroke="#3d0a7a" stroke-width="0.6"/>
<circle cx="403.2" cy="146.3" r="3" fill="#a232f2" stroke="#3d0a7a" stroke-width="0.6"/>
<circle cx="406" cy="146.3" r="3" fill="#a232f2" stroke="#3d0a7a" stroke-width="0.6"/>
<path d="M387.9,132.5V129.7H402V142.5" fill="none" stroke="#555" stroke-width="0.7" />
<text x="394.95" y="128.9" font-size="10" fill="#111" text-anchor="middle" font-weight="bold">*</text>
<text transform="translate(355.4,165.2) rotate(-90)" font-size="6.2" fill="#222" text-anchor="middle" stroke="#222" stroke-width="0.10540000000000001">CD4<tspan baseline-shift="super" font-size="4.1">+</tspan>pSTAT3<tspan baseline-shift="super" font-size="4.1">+</tspan> (MFI)</text>
<text x="420.9" y="127" font-size="15" fill="#000" font-weight="bold">j)</text>
<rect x="434.5" y="117.5" width="82.9" height="80.1" fill="#fff" stroke="none" stroke-width="1"/>
<path d="M446.4,157.2 C447,156.9 448.93,156.78 450,155.4 C451.07,154.02 452.02,151.52 452.8,148.9 C453.58,146.28 454.08,142.77 454.7,139.7 C455.32,136.63 455.88,133.12 456.5,130.5 C457.12,127.88 457.78,124.78 458.4,124 C459.02,123.22 459.6,124.12 460.2,125.8 C460.8,127.48 461.38,130.87 462,134.1 C462.62,137.33 463.18,141.97 463.9,145.2 C464.62,148.43 465.22,151.52 466.3,153.5 C467.38,155.48 469.72,156.5 470.4,157.1 L470.4,157.3 L446.4,157.3 Z" fill="#ececec" stroke="none" stroke-width="1" />
<path d="M446.4,157.2 C447,156.9 448.93,156.78 450,155.4 C451.07,154.02 452.02,151.52 452.8,148.9 C453.58,146.28 454.08,142.77 454.7,139.7 C455.32,136.63 455.88,133.12 456.5,130.5 C457.12,127.88 457.78,124.78 458.4,124 C459.02,123.22 459.6,124.12 460.2,125.8 C460.8,127.48 461.38,130.87 462,134.1 C462.62,137.33 463.18,141.97 463.9,145.2 C464.62,148.43 465.22,151.52 466.3,153.5 C467.38,155.48 469.72,156.5 470.4,157.1" fill="none" stroke="#555" stroke-width="0.6" />
<path d="M451,177.2 C451.83,177 454.33,176.53 456,176 C457.67,175.47 459.67,174.17 461,174 C462.33,173.83 462.93,175.42 464,175 C465.07,174.58 466.4,173.5 467.4,171.5 C468.4,169.5 469.23,166.42 470,163 C470.77,159.58 471.5,153.72 472,151 C472.5,148.28 472.42,147.28 473,146.7 C473.58,146.12 474.62,147.5 475.5,147.5 C476.38,147.5 477.63,146.45 478.3,146.7 C478.97,146.95 479.05,147.78 479.5,149 C479.95,150.22 480.25,151.33 481,154 C481.75,156.67 483,162 484,165 C485,168 486,170.17 487,172 C488,173.83 488.83,175.12 490,176 C491.17,176.88 493.33,177.08 494,177.3 L494,177.4 L451,177.4 Z" fill="#8e8e8e" stroke="none" stroke-width="1" />
<path d="M451,177.2 C451.83,177 454.33,176.53 456,176 C457.67,175.47 459.67,174.17 461,174 C462.33,173.83 462.93,175.42 464,175 C465.07,174.58 466.4,173.5 467.4,171.5 C468.4,169.5 469.23,166.42 470,163 C470.77,159.58 471.5,153.72 472,151 C472.5,148.28 472.42,147.28 473,146.7 C473.58,146.12 474.62,147.5 475.5,147.5 C476.38,147.5 477.63,146.45 478.3,146.7 C478.97,146.95 479.05,147.78 479.5,149 C479.95,150.22 480.25,151.33 481,154 C481.75,156.67 483,162 484,165 C485,168 486,170.17 487,172 C488,173.83 488.83,175.12 490,176 C491.17,176.88 493.33,177.08 494,177.3" fill="none" stroke="#333" stroke-width="0.6" />
<path d="M456,197.4 C456.33,196.83 457.33,195.07 458,194 C458.67,192.93 459.17,191.5 460,191 C460.83,190.5 462,191.5 463,191 C464,190.5 465.17,190.17 466,188 C466.83,185.83 467.43,181 468,178 C468.57,175 468.73,171.83 469.4,170 C470.07,168.17 471.3,167.33 472,167 C472.7,166.67 473.17,167 473.6,168 C474.03,169 474.2,171.33 474.6,173 C475,174.67 475.53,176.83 476,178 C476.47,179.17 476.9,178.83 477.4,180 C477.9,181.17 478.23,182.83 479,185 C479.77,187.17 481,190.93 482,193 C483,195.07 484.5,196.67 485,197.4 L485,197.6 L456,197.6 Z" fill="#6f14f0" stroke="none" stroke-width="1" fill-opacity="0.66"/>
<path d="M456,197.4 C456.33,196.83 457.33,195.07 458,194 C458.67,192.93 459.17,191.5 460,191 C460.83,190.5 462,191.5 463,191 C464,190.5 465.17,190.17 466,188 C466.83,185.83 467.43,181 468,178 C468.57,175 468.73,171.83 469.4,170 C470.07,168.17 471.3,167.33 472,167 C472.7,166.67 473.17,167 473.6,168 C474.03,169 474.2,171.33 474.6,173 C475,174.67 475.53,176.83 476,178 C476.47,179.17 476.9,178.83 477.4,180 C477.9,181.17 478.23,182.83 479,185 C479.77,187.17 481,190.93 482,193 C483,195.07 484.5,196.67 485,197.4" fill="none" stroke="#4a2080" stroke-width="0.6" />
<rect x="434.5" y="117.5" width="82.9" height="80.1" fill="none" stroke="#555" stroke-width="0.8"/>
<line x1="434.5" y1="157.3" x2="517.4" y2="157.3" stroke="#555" stroke-width="0.7"/>
<line x1="434.5" y1="177.4" x2="517.4" y2="177.4" stroke="#555" stroke-width="0.7"/>
<path d="M437.5,197.6v1.6M440.5,197.6v1.6M442.5,197.6v1.6M451.5,197.6v1.6M460.5,197.6v1.6M464.5,197.6v1.6M467.5,197.6v1.6M476.5,197.6v1.6M484.5,197.6v1.6M487.5,197.6v1.6M490.5,197.6v1.6M500.5,197.6v1.6M506.5,197.6v1.6M509.5,197.6v1.6" stroke="#666" stroke-width="0.6" fill="none"/>
<text x="486.6" y="170.1" font-size="5.85" fill="#222" stroke="#222" stroke-width="0.09945">MFI - 2179</text>
<text x="486.6" y="190.5" font-size="5.85" fill="#6a38b0" stroke="#6a38b0" stroke-width="0.09945">MFI - 1260</text>
<text transform="translate(433,196) rotate(-90)" font-size="8.2" fill="#111" stroke="#111" stroke-width="0.1394">Count</text>
<line x1="430" y1="169.8" x2="430" y2="150.8" stroke="#111" stroke-width="0.8"/>
<path d="M428.6,151.8 L430,147.8 L431.4,151.8Z" fill="#111" stroke="none" stroke-width="1" />
<text x="436" y="211.2" font-size="9" fill="#111" stroke="#111" stroke-width="0.15300000000000002">IL-23R</text>
<line x1="465" y1="208" x2="488" y2="208" stroke="#111" stroke-width="0.8"/>
<path d="M487,206.6 L491,208 L487,209.4Z" fill="#111" stroke="none" stroke-width="1" />
<text x="525.6" y="117.5" font-size="15" fill="#000" font-weight="bold">k)</text>
<line x1="545.4" y1="123.6" x2="545.4" y2="192.6" stroke="#333" stroke-width="0.7"/>
<line x1="545.4" y1="192.6" x2="587.7" y2="192.6" stroke="#333" stroke-width="0.7"/>
<line x1="543.4" y1="192.6" x2="545.4" y2="192.6" stroke="#333" stroke-width="0.7"/>
<text x="542.8" y="194.87" font-size="6.4" fill="#333" text-anchor="end" stroke="#333" stroke-width="0.10880000000000001">0</text>
<line x1="543.4" y1="178.8" x2="545.4" y2="178.8" stroke="#333" stroke-width="0.7"/>
<text x="542.8" y="181.07" font-size="6.4" fill="#333" text-anchor="end" stroke="#333" stroke-width="0.10880000000000001">20</text>
<line x1="543.4" y1="165" x2="545.4" y2="165" stroke="#333" stroke-width="0.7"/>
<text x="542.8" y="167.27" font-size="6.4" fill="#333" text-anchor="end" stroke="#333" stroke-width="0.10880000000000001">40</text>
<line x1="543.4" y1="151.2" x2="545.4" y2="151.2" stroke="#333" stroke-width="0.7"/>
<text x="542.8" y="153.47" font-size="6.4" fill="#333" text-anchor="end" stroke="#333" stroke-width="0.10880000000000001">60</text>
<line x1="543.4" y1="137.4" x2="545.4" y2="137.4" stroke="#333" stroke-width="0.7"/>
<text x="542.8" y="139.67" font-size="6.4" fill="#333" text-anchor="end" stroke="#333" stroke-width="0.10880000000000001">80</text>
<line x1="543.4" y1="123.6" x2="545.4" y2="123.6" stroke="#333" stroke-width="0.7"/>
<text x="542.8" y="125.87" font-size="6.4" fill="#333" text-anchor="end" stroke="#333" stroke-width="0.10880000000000001">100</text>
<line x1="559.5" y1="192.6" x2="559.5" y2="194.4" stroke="#333" stroke-width="0.6"/>
<line x1="576.7" y1="192.6" x2="576.7" y2="194.4" stroke="#333" stroke-width="0.6"/>
<rect x="554.3" y="134.6" width="10.4" height="58" fill="#e8e8e8" stroke="#222" stroke-width="0.7"/>
<rect x="571.5" y="152.3" width="10.4" height="40.3" fill="#5020a8" stroke="#2b0c5c" stroke-width="0.7"/>
<circle cx="556.9" cy="130.7" r="3" fill="#000"/>
<circle cx="559.7" cy="132.8" r="3" fill="#000"/>
<circle cx="562.9" cy="133.3" r="3" fill="#000"/>
<circle cx="556.3" cy="137.2" r="3" fill="#000"/>
<circle cx="575.9" cy="145.8" r="3" fill="#a232f2" stroke="#3d0a7a" stroke-width="0.6"/>
<circle cx="575.9" cy="151.6" r="3" fill="#a232f2" stroke="#3d0a7a" stroke-width="0.6"/>
<circle cx="575.9" cy="158.1" r="3" fill="#a232f2" stroke="#3d0a7a" stroke-width="0.6"/>
<path d="M559.7,128V122.8H575.9V142.4" fill="none" stroke="#555" stroke-width="0.7" />
<text x="567.8" y="123.4" font-size="10" fill="#111" text-anchor="middle" font-weight="bold">*</text>
<text transform="translate(532.4,160.2) rotate(-90)" font-size="6.5" fill="#222" text-anchor="middle" stroke="#222" stroke-width="0.11050000000000001">% CD4<tspan baseline-shift="super" font-size="4.3">+</tspan>IL-23R<tspan baseline-shift="super" font-size="4.3">+</tspan></text>
<text x="599.3" y="117.3" font-size="15" fill="#000" font-weight="bold">l)</text>
<line x1="619.3" y1="123.6" x2="619.3" y2="192.3" stroke="#333" stroke-width="0.7"/>
<line x1="619.3" y1="192.3" x2="658.4" y2="192.3" stroke="#333" stroke-width="0.7"/>
<line x1="617.3" y1="192.3" x2="619.3" y2="192.3" stroke="#333" stroke-width="0.7"/>
<text x="616.7" y="194.57" font-size="6.4" fill="#333" text-anchor="end" stroke="#333" stroke-width="0.10880000000000001">0</text>
<line x1="617.3" y1="178.56" x2="619.3" y2="178.56" stroke="#333" stroke-width="0.7"/>
<text x="616.7" y="180.83" font-size="6.4" fill="#333" text-anchor="end" stroke="#333" stroke-width="0.10880000000000001">500</text>
<line x1="617.3" y1="164.82" x2="619.3" y2="164.82" stroke="#333" stroke-width="0.7"/>
<text x="616.7" y="167.09" font-size="6.4" fill="#333" text-anchor="end" stroke="#333" stroke-width="0.10880000000000001">1000</text>
<line x1="617.3" y1="151.08" x2="619.3" y2="151.08" stroke="#333" stroke-width="0.7"/>
<text x="616.7" y="153.35" font-size="6.4" fill="#333" text-anchor="end" stroke="#333" stroke-width="0.10880000000000001">1500</text>
<line x1="617.3" y1="137.34" x2="619.3" y2="137.34" stroke="#333" stroke-width="0.7"/>
<text x="616.7" y="139.61" font-size="6.4" fill="#333" text-anchor="end" stroke="#333" stroke-width="0.10880000000000001">2000</text>
<line x1="617.3" y1="123.6" x2="619.3" y2="123.6" stroke="#333" stroke-width="0.7"/>
<text x="616.7" y="125.87" font-size="6.4" fill="#333" text-anchor="end" stroke="#333" stroke-width="0.10880000000000001">2500</text>
<line x1="629.7" y1="192.3" x2="629.7" y2="194.1" stroke="#333" stroke-width="0.6"/>
<line x1="646.65" y1="192.3" x2="646.65" y2="194.1" stroke="#333" stroke-width="0.6"/>
<rect x="624.5" y="136" width="10.4" height="56.3" fill="#e8e8e8" stroke="#222" stroke-width="0.7"/>
<rect x="641.4" y="156.8" width="10.5" height="35.5" fill="#5020a8" stroke="#2b0c5c" stroke-width="0.7"/>
<circle cx="625.8" cy="132.8" r="3" fill="#000"/>
<circle cx="629.2" cy="139" r="3" fill="#000"/>
<circle cx="632.6" cy="136.4" r="3" fill="#000"/>
<circle cx="644.8" cy="152.9" r="3" fill="#a232f2" stroke="#3d0a7a" stroke-width="0.6"/>
<circle cx="643" cy="156.8" r="3" fill="#a232f2" stroke="#3d0a7a" stroke-width="0.6"/>
<circle cx="649.5" cy="156.8" r="3" fill="#a232f2" stroke="#3d0a7a" stroke-width="0.6"/>
<path d="M629.2,128.5V124.1H646.1V148.5" fill="none" stroke="#555" stroke-width="0.7" />
<text x="637.65" y="124.2" font-size="9" fill="#111" text-anchor="middle" font-weight="bold">***</text>
<text transform="translate(597,155.7) rotate(-90)" font-size="6.55" fill="#222" text-anchor="middle" stroke="#222" stroke-width="0.11135">CD4<tspan baseline-shift="super" font-size="4.3">+</tspan>IL-23R<tspan baseline-shift="super" font-size="4.3">+</tspan> (MFI)</text>
<text x="168" y="231.5" font-size="15" fill="#000" font-weight="bold">m)</text>
<rect x="191" y="231.5" width="84" height="78.5" fill="#fff" stroke="none" stroke-width="1"/>
<path d="M196.8,270.5 C197.27,270.33 198.68,269.97 199.6,269.5 C200.52,269.03 201.38,269.08 202.3,267.7 C203.22,266.32 204.17,263.82 205.1,261.2 C206.03,258.58 206.97,255.08 207.9,252 C208.83,248.92 209.72,244.77 210.7,242.7 C211.68,240.63 213.03,239.9 213.8,239.6 C214.57,239.3 214.75,239.15 215.3,240.9 C215.85,242.65 216.48,247.02 217.1,250.1 C217.72,253.18 218.38,256.32 219,259.4 C219.62,262.48 220.18,266.7 220.8,268.6 C221.42,270.5 222.38,270.43 222.7,270.8 L222.7,271 L196.8,271 Z" fill="#d0d0d0" stroke="none" stroke-width="1" />
<path d="M196.8,270.5 C197.27,270.33 198.68,269.97 199.6,269.5 C200.52,269.03 201.38,269.08 202.3,267.7 C203.22,266.32 204.17,263.82 205.1,261.2 C206.03,258.58 206.97,255.08 207.9,252 C208.83,248.92 209.72,244.77 210.7,242.7 C211.68,240.63 213.03,239.9 213.8,239.6 C214.57,239.3 214.75,239.15 215.3,240.9 C215.85,242.65 216.48,247.02 217.1,250.1 C217.72,253.18 218.38,256.32 219,259.4 C219.62,262.48 220.18,266.7 220.8,268.6 C221.42,270.5 222.38,270.43 222.7,270.8" fill="none" stroke="#444" stroke-width="0.6" />
<path d="M195,290.4 C196,290.27 199,289.97 201,289.6 C203,289.23 205.17,288.88 207,288.2 C208.83,287.52 210.5,286.53 212,285.5 C213.5,284.47 214.67,283.58 216,282 C217.33,280.42 218.83,278.07 220,276 C221.17,273.93 222.13,271.93 223,269.6 C223.87,267.27 224.58,264.05 225.2,262 C225.82,259.95 226.2,257.3 226.7,257.3 C227.2,257.3 227.68,259.55 228.2,262 C228.72,264.45 229.28,268.5 229.8,272 C230.32,275.5 230.77,280.17 231.3,283 C231.83,285.83 232.38,287.75 233,289 C233.62,290.25 234.67,290.25 235,290.5 L235,290.6 L195,290.6 Z" fill="#8e8e8e" stroke="none" stroke-width="1" />
<path d="M195,290.4 C196,290.27 199,289.97 201,289.6 C203,289.23 205.17,288.88 207,288.2 C208.83,287.52 210.5,286.53 212,285.5 C213.5,284.47 214.67,283.58 216,282 C217.33,280.42 218.83,278.07 220,276 C221.17,273.93 222.13,271.93 223,269.6 C223.87,267.27 224.58,264.05 225.2,262 C225.82,259.95 226.2,257.3 226.7,257.3 C227.2,257.3 227.68,259.55 228.2,262 C228.72,264.45 229.28,268.5 229.8,272 C230.32,275.5 230.77,280.17 231.3,283 C231.83,285.83 232.38,287.75 233,289 C233.62,290.25 234.67,290.25 235,290.5" fill="none" stroke="#333" stroke-width="0.6" />
<path d="M207.3,309.8 C208.08,309.5 210.38,309.13 212,308 C213.62,306.87 215.5,305.33 217,303 C218.5,300.67 219.8,297.17 221,294 C222.2,290.83 223.4,286.08 224.2,284 C225,281.92 225.27,281.67 225.8,281.5 C226.33,281.33 226.87,281.58 227.4,283 C227.93,284.42 228.4,287.17 229,290 C229.6,292.83 230.33,297.08 231,300 C231.67,302.92 232.33,305.87 233,307.5 C233.67,309.13 234.67,309.42 235,309.8 L235,310 L207.3,310 Z" fill="#6f14f0" stroke="none" stroke-width="1" fill-opacity="0.66"/>
<path d="M207.3,309.8 C208.08,309.5 210.38,309.13 212,308 C213.62,306.87 215.5,305.33 217,303 C218.5,300.67 219.8,297.17 221,294 C222.2,290.83 223.4,286.08 224.2,284 C225,281.92 225.27,281.67 225.8,281.5 C226.33,281.33 226.87,281.58 227.4,283 C227.93,284.42 228.4,287.17 229,290 C229.6,292.83 230.33,297.08 231,300 C231.67,302.92 232.33,305.87 233,307.5 C233.67,309.13 234.67,309.42 235,309.8" fill="none" stroke="#4a2080" stroke-width="0.6" />
<rect x="191" y="231.5" width="84" height="78.5" fill="none" stroke="#555" stroke-width="0.8"/>
<line x1="191" y1="271" x2="275" y2="271" stroke="#555" stroke-width="0.7"/>
<line x1="191" y1="290.6" x2="275" y2="290.6" stroke="#555" stroke-width="0.7"/>
<path d="M194,310v1.6M197,310v1.6M199,310v1.6M208,310v1.6M217,310v1.6M221,310v1.6M224,310v1.6M233,310v1.6M241,310v1.6M244,310v1.6M247,310v1.6M257,310v1.6M263,310v1.6M266,310v1.6" stroke="#666" stroke-width="0.6" fill="none"/>
<text x="243" y="283.4" font-size="5.85" fill="#222" stroke="#222" stroke-width="0.09945">MFI - 856</text>
<text x="243" y="305" font-size="5.85" fill="#6a38b0" stroke="#6a38b0" stroke-width="0.09945">MFI - 908</text>
<text transform="translate(188.8,306.8) rotate(-90)" font-size="8.3" fill="#111" stroke="#111" stroke-width="0.14110000000000003">Count</text>
<line x1="186" y1="283.5" x2="186" y2="261.5" stroke="#111" stroke-width="0.8"/>
<path d="M184.6,262.5 L186,258.5 L187.4,262.5Z" fill="#111" stroke="none" stroke-width="1" />
<text x="192.6" y="323.5" font-size="8.5" fill="#111" stroke="#111" stroke-width="0.14450000000000002">IL-1R1</text>
<line x1="221.5" y1="321.8" x2="244.8" y2="321.8" stroke="#111" stroke-width="0.8"/>
<path d="M243.8,320.4 L247.8,321.8 L243.8,323.2Z" fill="#111" stroke="none" stroke-width="1" />
<text x="284.6" y="231.5" font-size="15" fill="#000" font-weight="bold">n)</text>
<line x1="300.4" y1="238.6" x2="300.4" y2="307.6" stroke="#333" stroke-width="0.7"/>
<line x1="300.4" y1="307.6" x2="343" y2="307.6" stroke="#333" stroke-width="0.7"/>
<line x1="298.4" y1="307.6" x2="300.4" y2="307.6" stroke="#333" stroke-width="0.7"/>
<text x="297.8" y="309.87" font-size="6.4" fill="#333" text-anchor="end" stroke="#333" stroke-width="0.10880000000000001">0</text>
<line x1="298.4" y1="284.6" x2="300.4" y2="284.6" stroke="#333" stroke-width="0.7"/>
<text x="297.8" y="286.87" font-size="6.4" fill="#333" text-anchor="end" stroke="#333" stroke-width="0.10880000000000001">10</text>
<line x1="298.4" y1="261.6" x2="300.4" y2="261.6" stroke="#333" stroke-width="0.7"/>
<text x="297.8" y="263.87" font-size="6.4" fill="#333" text-anchor="end" stroke="#333" stroke-width="0.10880000000000001">20</text>
<line x1="298.4" y1="238.6" x2="300.4" y2="238.6" stroke="#333" stroke-width="0.7"/>
<text x="297.8" y="240.87" font-size="6.4" fill="#333" text-anchor="end" stroke="#333" stroke-width="0.10880000000000001">30</text>
<line x1="311.9" y1="307.6" x2="311.9" y2="309.4" stroke="#333" stroke-width="0.6"/>
<line x1="328.5" y1="307.6" x2="328.5" y2="309.4" stroke="#333" stroke-width="0.6"/>
<line x1="328.6" y1="257" x2="328.6" y2="250" stroke="#333" stroke-width="0.7"/>
<line x1="327.1" y1="250" x2="330.1" y2="250" stroke="#333" stroke-width="0.7"/>
<rect x="306.4" y="258" width="11" height="49.6" fill="#e8e8e8" stroke="#222" stroke-width="0.7"/>
<rect x="323.4" y="257" width="10.2" height="50.6" fill="#5020a8" stroke="#2b0c5c" stroke-width="0.7"/>
<circle cx="309" cy="258.4" r="2.9" fill="#000"/>
<circle cx="312" cy="255" r="2.9" fill="#000"/>
<circle cx="315" cy="258.4" r="2.9" fill="#000"/>
<circle cx="328.6" cy="246.5" r="2.9" fill="#a232f2" stroke="#3d0a7a" stroke-width="0.6"/>
<circle cx="328.6" cy="253" r="2.9" fill="#a232f2" stroke="#3d0a7a" stroke-width="0.6"/>
<circle cx="328.6" cy="270" r="2.9" fill="#a232f2" stroke="#3d0a7a" stroke-width="0.6"/>
<path d="M312.2,250.8V237.2H328.6V241.6" fill="none" stroke="#555" stroke-width="0.7" />
<text x="320.4" y="0" font-size="7" fill="#111" text-anchor="middle" font-weight="bold"></text>
<text transform="translate(286.8,272.6) rotate(-90)" font-size="6.8" fill="#222" text-anchor="middle" stroke="#222" stroke-width="0.11560000000000001">% CD4<tspan baseline-shift="super" font-size="4.5">+</tspan>IL-1R1<tspan baseline-shift="super" font-size="4.5">+</tspan></text>
<text x="320.4" y="233.2" font-size="6.5" fill="#222" text-anchor="middle" stroke="#222" stroke-width="0.11050000000000001">ns</text>
<text x="363.8" y="231.5" font-size="15" fill="#000" font-weight="bold">o)</text>
<line x1="374.3" y1="239.1" x2="374.3" y2="307.6" stroke="#333" stroke-width="0.7"/>
<line x1="374.3" y1="307.6" x2="413.4" y2="307.6" stroke="#333" stroke-width="0.7"/>
<line x1="372.3" y1="307.6" x2="374.3" y2="307.6" stroke="#333" stroke-width="0.7"/>
<text x="371.7" y="309.87" font-size="6.4" fill="#333" text-anchor="end" stroke="#333" stroke-width="0.10880000000000001">0</text>
<line x1="372.3" y1="284.77" x2="374.3" y2="284.77" stroke="#333" stroke-width="0.7"/>
<text x="371.7" y="287.04" font-size="6.4" fill="#333" text-anchor="end" stroke="#333" stroke-width="0.10880000000000001">500</text>
<line x1="372.3" y1="261.93" x2="374.3" y2="261.93" stroke="#333" stroke-width="0.7"/>
<text x="371.7" y="264.21" font-size="6.4" fill="#333" text-anchor="end" stroke="#333" stroke-width="0.10880000000000001">1000</text>
<line x1="372.3" y1="239.1" x2="374.3" y2="239.1" stroke="#333" stroke-width="0.7"/>
<text x="371.7" y="241.37" font-size="6.4" fill="#333" text-anchor="end" stroke="#333" stroke-width="0.10880000000000001">1500</text>
<line x1="386" y1="307.6" x2="386" y2="309.4" stroke="#333" stroke-width="0.6"/>
<line x1="403" y1="307.6" x2="403" y2="309.4" stroke="#333" stroke-width="0.6"/>
<line x1="403" y1="268.4" x2="403" y2="261.9" stroke="#333" stroke-width="0.7"/>
<line x1="401.5" y1="261.9" x2="404.5" y2="261.9" stroke="#333" stroke-width="0.7"/>
<rect x="380.8" y="271.8" width="10.4" height="35.8" fill="#e8e8e8" stroke="#222" stroke-width="0.7"/>
<rect x="397.8" y="268.4" width="10.4" height="39.2" fill="#5020a8" stroke="#2b0c5c" stroke-width="0.7"/>
<circle cx="382.9" cy="270.5" r="2.7" fill="#000"/>
<circle cx="386.3" cy="269.2" r="2.7" fill="#000"/>
<circle cx="389.9" cy="270.5" r="2.7" fill="#000"/>
<circle cx="399.8" cy="262.1" r="2.7" fill="#a232f2" stroke="#3d0a7a" stroke-width="0.6"/>
<circle cx="405.6" cy="266" r="2.7" fill="#a232f2" stroke="#3d0a7a" stroke-width="0.6"/>
<circle cx="403" cy="274.9" r="2.7" fill="#a232f2" stroke="#3d0a7a" stroke-width="0.6"/>
<path d="M386.3,267.9V253.5H401.9V258.7" fill="none" stroke="#555" stroke-width="0.7" />
<text x="394.1" y="0" font-size="7" fill="#111" text-anchor="middle" font-weight="bold"></text>
<text transform="translate(354.2,271.4) rotate(-90)" font-size="6.6" fill="#222" text-anchor="middle" stroke="#222" stroke-width="0.11220000000000001">CD4<tspan baseline-shift="super" font-size="4.4">+</tspan>IL-1R1<tspan baseline-shift="super" font-size="4.4">+</tspan> (MFI)</text>
<text x="394.1" y="250.2" font-size="6.5" fill="#222" text-anchor="middle" stroke="#222" stroke-width="0.11050000000000001">ns</text>
<text x="420" y="231" font-size="15" fill="#000" font-weight="bold">p)</text>
<text x="483.6" y="228.9" font-size="7.9" fill="#111" text-anchor="middle" stroke="#111" stroke-width="0.1343">WT</text>
<text x="549.5" y="228.9" font-size="7.9" fill="#6a38b0" stroke="#6a38b0" stroke-width="0.1343">XPC<tspan baseline-shift="super" font-size="5.2">-/-</tspan></text>
<line x1="465.7" y1="231.4" x2="465.7" y2="311" stroke="#4a4a4a" stroke-width="0.9"/>
<line x1="436.5" y1="282.1" x2="513.9" y2="282.1" stroke="#4a4a4a" stroke-width="0.9"/>
<path d="M462.73,266.48h0.55v0.55h-0.55zM456.17,275.19h0.55v0.55h-0.55zM461.91,269.8h0.55v0.55h-0.55zM460.69,282.74h0.55v0.55h-0.55zM463.76,279.32h0.55v0.55h-0.55zM460.26,261.33h0.55v0.55h-0.55zM457.33,263.35h0.55v0.55h-0.55zM449.68,282.84h0.55v0.55h-0.55zM461.54,267.15h0.55v0.55h-0.55zM464.62,262.46h0.55v0.55h-0.55zM461.51,274.54h0.55v0.55h-0.55zM453.96,284.31h0.55v0.55h-0.55zM461.21,272.8h0.55v0.55h-0.55zM457.49,259.37h0.55v0.55h-0.55zM467.9,260.93h0.55v0.55h-0.55zM459.19,271.22h0.55v0.55h-0.55zM468.12,240.67h0.55v0.55h-0.55zM466.57,269.43h0.55v0.55h-0.55zM465.17,255.55h0.55v0.55h-0.55zM461.22,283.54h0.55v0.55h-0.55zM461.09,259.48h0.55v0.55h-0.55zM459.73,260.47h0.55v0.55h-0.55zM464,268.51h0.55v0.55h-0.55zM458.66,274.54h0.55v0.55h-0.55zM457.78,250.62h0.55v0.55h-0.55zM470.94,260h0.55v0.55h-0.55zM467.39,265.66h0.55v0.55h-0.55zM459.87,271.79h0.55v0.55h-0.55zM458.31,257.01h0.55v0.55h-0.55zM460.51,262.02h0.55v0.55h-0.55zM462.58,287.23h0.55v0.55h-0.55zM457.1,256.58h0.55v0.55h-0.55zM463.65,271.88h0.55v0.55h-0.55zM465.86,258.53h0.55v0.55h-0.55zM463.4,265.8h0.55v0.55h-0.55zM454.5,270.65h0.55v0.55h-0.55zM454.68,271.64h0.55v0.55h-0.55zM459.45,264.01h0.55v0.55h-0.55zM468.35,283.08h0.55v0.55h-0.55zM462.46,270.57h0.55v0.55h-0.55zM457.29,279.4h0.55v0.55h-0.55zM464.03,257.15h0.55v0.55h-0.55zM454.65,265.82h0.55v0.55h-0.55zM459.82,275.45h0.55v0.55h-0.55zM457.67,256.53h0.55v0.55h-0.55zM462.63,267.26h0.55v0.55h-0.55zM464,278.45h0.55v0.55h-0.55zM459.12,240.65h0.55v0.55h-0.55zM461.76,258.41h0.55v0.55h-0.55zM463.74,237.26h0.55v0.55h-0.55zM460.61,267.2h0.55v0.55h-0.55zM458.58,271.62h0.55v0.55h-0.55zM461.33,268.74h0.55v0.55h-0.55zM465.24,280.42h0.55v0.55h-0.55zM465.46,270.54h0.55v0.55h-0.55zM461.26,272.34h0.55v0.55h-0.55zM462.76,258.49h0.55v0.55h-0.55zM461.99,276.15h0.55v0.55h-0.55zM460.2,254.46h0.55v0.55h-0.55zM463.78,258.34h0.55v0.55h-0.55zM455.5,263.27h0.55v0.55h-0.55zM455.23,269.46h0.55v0.55h-0.55zM459.05,266.99h0.55v0.55h-0.55zM464.75,278.49h0.55v0.55h-0.55zM462.16,242.12h0.55v0.55h-0.55zM460,253.67h0.55v0.55h-0.55zM463.52,283.11h0.55v0.55h-0.55zM463.35,273.3h0.55v0.55h-0.55zM462.78,273.69h0.55v0.55h-0.55zM459.08,275.76h0.55v0.55h-0.55zM460.64,253.84h0.55v0.55h-0.55zM460.24,283.34h0.55v0.55h-0.55zM461.49,247.34h0.55v0.55h-0.55zM465.69,269.13h0.55v0.55h-0.55zM463.49,261.41h0.55v0.55h-0.55zM461.9,283.6h0.55v0.55h-0.55zM458.15,273.49h0.55v0.55h-0.55zM463,257.13h0.55v0.55h-0.55zM461.4,272.62h0.55v0.55h-0.55zM457.09,278.55h0.55v0.55h-0.55zM456.07,278.37h0.55v0.55h-0.55zM463.31,269.19h0.55v0.55h-0.55zM458.58,257.76h0.55v0.55h-0.55zM452.59,265.52h0.55v0.55h-0.55zM460.24,272.2h0.55v0.55h-0.55zM464.89,268.65h0.55v0.55h-0.55zM459.16,276.75h0.55v0.55h-0.55zM461.07,266.01h0.55v0.55h-0.55zM455.91,277.26h0.55v0.55h-0.55zM457.27,286.79h0.55v0.55h-0.55zM458.08,260.95h0.55v0.55h-0.55zM461.88,258.86h0.55v0.55h-0.55zM456.22,253.81h0.55v0.55h-0.55zM458.08,263.59h0.55v0.55h-0.55zM464.42,273.63h0.55v0.55h-0.55zM461.79,275h0.55v0.55h-0.55zM453.13,259.24h0.55v0.55h-0.55zM459.63,255.17h0.55v0.55h-0.55zM463.34,259.45h0.55v0.55h-0.55zM456.3,275.49h0.55v0.55h-0.55zM458.74,263.49h0.55v0.55h-0.55zM454.74,275.55h0.55v0.55h-0.55zM460.33,281.61h0.55v0.55h-0.55zM469.09,273.91h0.55v0.55h-0.55zM460.21,257.84h0.55v0.55h-0.55zM467.49,264.51h0.55v0.55h-0.55zM463.34,269h0.55v0.55h-0.55zM448.12,267.09h0.55v0.55h-0.55zM461.57,268.46h0.55v0.55h-0.55zM460.42,268.77h0.55v0.55h-0.55zM456.84,272.5h0.55v0.55h-0.55zM459.03,267.9h0.55v0.55h-0.55zM467.25,268.99h0.55v0.55h-0.55zM456.93,269.97h0.55v0.55h-0.55zM455.46,267.76h0.55v0.55h-0.55zM467.12,255.41h0.55v0.55h-0.55zM461.07,256.98h0.55v0.55h-0.55zM461.53,269.82h0.55v0.55h-0.55zM461.94,263.4h0.55v0.55h-0.55zM454.41,256.34h0.55v0.55h-0.55zM458.9,274.81h0.55v0.55h-0.55zM452.77,277.38h0.55v0.55h-0.55zM459.29,248.37h0.55v0.55h-0.55zM466.41,270.24h0.55v0.55h-0.55zM457.35,268.86h0.55v0.55h-0.55zM464.27,251.27h0.55v0.55h-0.55zM466.5,257.58h0.55v0.55h-0.55zM464.55,260.54h0.55v0.55h-0.55zM455.45,259.6h0.55v0.55h-0.55zM459.04,267.45h0.55v0.55h-0.55zM455.37,255.29h0.55v0.55h-0.55zM462.5,262.33h0.55v0.55h-0.55zM458.81,270.77h0.55v0.55h-0.55zM454.8,286.96h0.55v0.55h-0.55zM458.01,269.95h0.55v0.55h-0.55zM459.81,276.61h0.55v0.55h-0.55zM459.89,257.9h0.55v0.55h-0.55zM461.61,272.64h0.55v0.55h-0.55zM459.21,287.65h0.55v0.55h-0.55zM463.04,280.8h0.55v0.55h-0.55zM465.25,277.31h0.55v0.55h-0.55zM459.34,283.23h0.55v0.55h-0.55zM459.58,267.59h0.55v0.55h-0.55zM465.74,276.34h0.55v0.55h-0.55zM457.18,262.76h0.55v0.55h-0.55zM456.96,278.06h0.55v0.55h-0.55zM459.7,266.32h0.55v0.55h-0.55zM458.8,260.72h0.55v0.55h-0.55zM464.21,255.81h0.55v0.55h-0.55zM461.57,261.02h0.55v0.55h-0.55zM460.48,252.71h0.55v0.55h-0.55zM466.42,249.57h0.55v0.55h-0.55zM456.69,261.48h0.55v0.55h-0.55zM461.77,258.25h0.55v0.55h-0.55zM455.23,260.75h0.55v0.55h-0.55zM457.69,258.79h0.55v0.55h-0.55zM468.32,244.99h0.55v0.55h-0.55zM460.68,269.93h0.55v0.55h-0.55zM459.68,262.21h0.55v0.55h-0.55zM465.13,264.09h0.55v0.55h-0.55zM454.76,261.69h0.55v0.55h-0.55zM462.6,262.04h0.55v0.55h-0.55zM458.72,267.69h0.55v0.55h-0.55zM459.06,267.2h0.55v0.55h-0.55zM463.81,259.61h0.55v0.55h-0.55zM454.29,279.31h0.55v0.55h-0.55zM462.93,258h0.55v0.55h-0.55zM455.7,265.68h0.55v0.55h-0.55zM461.44,271.04h0.55v0.55h-0.55zM462.61,261.45h0.55v0.55h-0.55zM460.41,250.14h0.55v0.55h-0.55zM458.52,260.83h0.55v0.55h-0.55zM465.78,252.56h0.55v0.55h-0.55zM467.36,275.61h0.55v0.55h-0.55zM459.43,259.64h0.55v0.55h-0.55zM461.56,270h0.55v0.55h-0.55zM464.7,248.21h0.55v0.55h-0.55zM459.39,271.06h0.55v0.55h-0.55zM464.05,270.79h0.55v0.55h-0.55zM460.47,269.09h0.55v0.55h-0.55zM457.97,283.58h0.55v0.55h-0.55zM464.11,270.24h0.55v0.55h-0.55zM458.91,265.34h0.55v0.55h-0.55zM462.32,266.97h0.55v0.55h-0.55zM465.75,287.6h0.55v0.55h-0.55zM465.34,254.31h0.55v0.55h-0.55zM463.89,260.93h0.55v0.55h-0.55zM459.82,286.16h0.55v0.55h-0.55zM455.45,251.6h0.55v0.55h-0.55zM458.17,273.84h0.55v0.55h-0.55zM460.72,245.68h0.55v0.55h-0.55zM462.02,272.82h0.55v0.55h-0.55zM465.52,267.37h0.55v0.55h-0.55zM465.49,260.28h0.55v0.55h-0.55zM463.54,278.5h0.55v0.55h-0.55zM460.23,262.13h0.55v0.55h-0.55zM465.98,258.75h0.55v0.55h-0.55zM457.67,266.34h0.55v0.55h-0.55zM462.58,275.61h0.55v0.55h-0.55zM458.93,271.33h0.55v0.55h-0.55zM458.5,254.11h0.55v0.55h-0.55zM470.51,259.12h0.55v0.55h-0.55zM455.22,269.03h0.55v0.55h-0.55zM457.84,273.36h0.55v0.55h-0.55zM452.44,253.94h0.55v0.55h-0.55zM464.69,269.13h0.55v0.55h-0.55zM456.72,281.25h0.55v0.55h-0.55zM465.07,262.78h0.55v0.55h-0.55zM464.85,272.7h0.55v0.55h-0.55zM456.84,257.84h0.55v0.55h-0.55zM462.33,255.06h0.55v0.55h-0.55zM455.47,260.45h0.55v0.55h-0.55zM463.55,267.42h0.55v0.55h-0.55zM458.74,240.34h0.55v0.55h-0.55zM463.91,263.33h0.55v0.55h-0.55zM463.95,264.77h0.55v0.55h-0.55zM458.88,267.6h0.55v0.55h-0.55zM458.5,259.84h0.55v0.55h-0.55zM458.8,242.79h0.55v0.55h-0.55zM464.02,276.73h0.55v0.55h-0.55zM458.98,261.1h0.55v0.55h-0.55zM468.98,271.68h0.55v0.55h-0.55zM460.09,252.74h0.55v0.55h-0.55zM466.4,279.22h0.55v0.55h-0.55zM457.36,272.42h0.55v0.55h-0.55zM457.56,262.02h0.55v0.55h-0.55zM465.06,263.01h0.55v0.55h-0.55zM459.21,250.4h0.55v0.55h-0.55zM463.15,263.62h0.55v0.55h-0.55zM455.06,286.37h0.55v0.55h-0.55zM458.63,259.88h0.55v0.55h-0.55zM462.53,262.68h0.55v0.55h-0.55zM460.75,269.78h0.55v0.55h-0.55zM459.62,255.76h0.55v0.55h-0.55zM459.1,276.04h0.55v0.55h-0.55zM459.94,281.68h0.55v0.55h-0.55zM461.8,256.24h0.55v0.55h-0.55zM461.87,263.83h0.55v0.55h-0.55zM459.24,263.57h0.55v0.55h-0.55zM463.88,274.79h0.55v0.55h-0.55zM462.08,268.11h0.55v0.55h-0.55zM462.89,273.38h0.55v0.55h-0.55zM462.87,258.87h0.55v0.55h-0.55zM464.7,278.12h0.55v0.55h-0.55zM467.73,235.94h0.55v0.55h-0.55zM462.95,267.95h0.55v0.55h-0.55zM450.13,277.87h0.55v0.55h-0.55zM454.09,260.45h0.55v0.55h-0.55zM460.99,277.15h0.55v0.55h-0.55zM460.4,259.34h0.55v0.55h-0.55zM454.51,262.99h0.55v0.55h-0.55zM464.07,252.01h0.55v0.55h-0.55zM468.43,237.16h0.55v0.55h-0.55zM459.13,261.24h0.55v0.55h-0.55zM461.01,269.37h0.55v0.55h-0.55zM465.46,259.9h0.55v0.55h-0.55zM455.91,253.45h0.55v0.55h-0.55zM460.25,256.64h0.55v0.55h-0.55zM459.85,263.8h0.55v0.55h-0.55zM460.38,275.15h0.55v0.55h-0.55zM463.31,251.97h0.55v0.55h-0.55zM458.5,259.75h0.55v0.55h-0.55zM458.41,273.77h0.55v0.55h-0.55zM464.06,269.12h0.55v0.55h-0.55zM467.15,256.44h0.55v0.55h-0.55zM460.32,277.73h0.55v0.55h-0.55zM461.32,259.33h0.55v0.55h-0.55zM457.42,276.24h0.55v0.55h-0.55zM462.79,286.41h0.55v0.55h-0.55zM468.21,268.89h0.55v0.55h-0.55zM459.77,257.12h0.55v0.55h-0.55zM458.1,285.42h0.55v0.55h-0.55zM460.81,259.3h0.55v0.55h-0.55zM460.11,269.98h0.55v0.55h-0.55zM458.85,258.26h0.55v0.55h-0.55zM457.83,280.05h0.55v0.55h-0.55zM460.62,271.52h0.55v0.55h-0.55zM464.34,246.16h0.55v0.55h-0.55zM463.34,254.15h0.55v0.55h-0.55zM460.7,246.43h0.55v0.55h-0.55zM463.82,268.21h0.55v0.55h-0.55zM456.64,278.58h0.55v0.55h-0.55zM456.98,280.35h0.55v0.55h-0.55zM459.15,290.1h0.55v0.55h-0.55zM456.27,271.01h0.55v0.55h-0.55zM457.19,252.34h0.55v0.55h-0.55zM458.88,263.19h0.55v0.55h-0.55zM456.41,270.42h0.55v0.55h-0.55zM466.57,274.62h0.55v0.55h-0.55zM456.88,286.85h0.55v0.55h-0.55zM453.82,283.3h0.55v0.55h-0.55zM460.96,256.14h0.55v0.55h-0.55zM460.99,265.78h0.55v0.55h-0.55zM464.69,272.95h0.55v0.55h-0.55zM459.13,275.46h0.55v0.55h-0.55zM460.52,255.08h0.55v0.55h-0.55zM457.14,255.08h0.55v0.55h-0.55zM462.11,262h0.55v0.55h-0.55zM464.68,251.68h0.55v0.55h-0.55zM460.97,270.15h0.55v0.55h-0.55zM461.3,270.08h0.55v0.55h-0.55zM451.23,251.4h0.55v0.55h-0.55zM458.08,266.53h0.55v0.55h-0.55zM464.22,289.79h0.55v0.55h-0.55zM458.59,263.73h0.55v0.55h-0.55zM464.5,260.67h0.55v0.55h-0.55zM465.35,265.11h0.55v0.55h-0.55zM460.56,272.41h0.55v0.55h-0.55zM467.44,268.29h0.55v0.55h-0.55zM457.42,280.07h0.55v0.55h-0.55zM463.49,257.62h0.55v0.55h-0.55zM455.33,264.6h0.55v0.55h-0.55zM459.31,258.47h0.55v0.55h-0.55zM461.47,273.81h0.55v0.55h-0.55zM465.95,268.16h0.55v0.55h-0.55zM457.87,252.45h0.55v0.55h-0.55zM455.23,271.67h0.55v0.55h-0.55zM454.88,258.52h0.55v0.55h-0.55zM456.17,261.05h0.55v0.55h-0.55zM459.28,261.94h0.55v0.55h-0.55zM466.37,274.96h0.55v0.55h-0.55zM460.15,254.75h0.55v0.55h-0.55zM463.15,262.85h0.55v0.55h-0.55zM461.24,254.23h0.55v0.55h-0.55zM462.3,269.31h0.55v0.55h-0.55zM463.24,267.18h0.55v0.55h-0.55zM462.37,254.82h0.55v0.55h-0.55zM464.8,269.65h0.55v0.55h-0.55zM467.41,263.42h0.55v0.55h-0.55zM459.05,276.82h0.55v0.55h-0.55zM458.93,271.26h0.55v0.55h-0.55zM460.68,264.16h0.55v0.55h-0.55zM452.65,269.34h0.55v0.55h-0.55zM462.09,251.44h0.55v0.55h-0.55zM466.64,244.84h0.55v0.55h-0.55zM458.45,289.85h0.55v0.55h-0.55zM464.73,258.98h0.55v0.55h-0.55zM463.36,275.44h0.55v0.55h-0.55zM448.96,265.96h0.55v0.55h-0.55zM460.2,281.89h0.55v0.55h-0.55zM462.09,252.5h0.55v0.55h-0.55zM458.06,287.13h0.55v0.55h-0.55zM459.59,285.7h0.55v0.55h-0.55zM464.86,258.29h0.55v0.55h-0.55zM463.56,268.72h0.55v0.55h-0.55zM462.95,268.72h0.55v0.55h-0.55zM457.49,276.08h0.55v0.55h-0.55zM461.55,263.1h0.55v0.55h-0.55zM461.23,261.18h0.55v0.55h-0.55zM460.96,264.57h0.55v0.55h-0.55zM454.82,283.63h0.55v0.55h-0.55zM461.98,263.72h0.55v0.55h-0.55zM454.07,279.93h0.55v0.55h-0.55zM462.16,276.01h0.55v0.55h-0.55zM460.28,274.33h0.55v0.55h-0.55zM459.02,266.24h0.55v0.55h-0.55zM465.19,288.7h0.55v0.55h-0.55zM462.18,252.6h0.55v0.55h-0.55zM462.02,270.09h0.55v0.55h-0.55zM457.99,256.26h0.55v0.55h-0.55zM470.14,268.21h0.55v0.55h-0.55zM458.65,271.44h0.55v0.55h-0.55zM456.75,249.06h0.55v0.55h-0.55zM457.9,275.51h0.55v0.55h-0.55zM464.64,269.62h0.55v0.55h-0.55zM468.68,252.16h0.55v0.55h-0.55zM455.84,281.79h0.55v0.55h-0.55zM464.07,265.91h0.55v0.55h-0.55zM463.18,259.72h0.55v0.55h-0.55zM468.81,261.75h0.55v0.55h-0.55zM464.73,264.36h0.55v0.55h-0.55zM459.67,251.52h0.55v0.55h-0.55zM460.08,264.33h0.55v0.55h-0.55zM458.69,250.24h0.55v0.55h-0.55zM457.16,248.89h0.55v0.55h-0.55zM466.2,263.05h0.55v0.55h-0.55zM457.79,275.16h0.55v0.55h-0.55zM461.67,272.52h0.55v0.55h-0.55zM464.93,264.8h0.55v0.55h-0.55zM453.39,269.8h0.55v0.55h-0.55z" fill="#5a5a5a"/>
<path d="M468.91,274.47h0.55v0.55h-0.55zM463.13,285.88h0.55v0.55h-0.55zM461.42,271.7h0.55v0.55h-0.55zM469.87,277.23h0.55v0.55h-0.55zM470.05,265.17h0.55v0.55h-0.55zM474.26,267.78h0.55v0.55h-0.55zM466.89,272.19h0.55v0.55h-0.55zM467.42,268.39h0.55v0.55h-0.55zM472.56,273.23h0.55v0.55h-0.55zM471.76,261.3h0.55v0.55h-0.55zM469.37,270.88h0.55v0.55h-0.55zM468.37,273.89h0.55v0.55h-0.55zM468.73,271.7h0.55v0.55h-0.55zM467.26,273.22h0.55v0.55h-0.55zM467.87,272.69h0.55v0.55h-0.55zM465.41,275.19h0.55v0.55h-0.55zM462.57,286.61h0.55v0.55h-0.55zM469.05,283.42h0.55v0.55h-0.55zM467.57,262.96h0.55v0.55h-0.55zM462.24,266h0.55v0.55h-0.55zM465.12,269.17h0.55v0.55h-0.55zM465.29,276.45h0.55v0.55h-0.55zM457.45,283.19h0.55v0.55h-0.55zM465.7,273.06h0.55v0.55h-0.55zM460.51,273.22h0.55v0.55h-0.55zM461.53,275.13h0.55v0.55h-0.55zM467.92,273.46h0.55v0.55h-0.55zM466.61,270.08h0.55v0.55h-0.55zM465.25,278.39h0.55v0.55h-0.55zM467.15,273.81h0.55v0.55h-0.55zM475.49,273.58h0.55v0.55h-0.55zM465.37,255.78h0.55v0.55h-0.55zM458.27,272.03h0.55v0.55h-0.55zM470.88,264.97h0.55v0.55h-0.55zM463.03,270.28h0.55v0.55h-0.55zM466.85,278.74h0.55v0.55h-0.55zM467.07,267.44h0.55v0.55h-0.55zM470.12,265.51h0.55v0.55h-0.55zM462.66,263.61h0.55v0.55h-0.55zM466.15,268.87h0.55v0.55h-0.55zM466.97,272.32h0.55v0.55h-0.55zM475.15,275.78h0.55v0.55h-0.55zM460.37,261.12h0.55v0.55h-0.55zM468.18,266.1h0.55v0.55h-0.55zM475.03,269.55h0.55v0.55h-0.55zM465.52,272.65h0.55v0.55h-0.55zM465.74,275.73h0.55v0.55h-0.55zM465.82,274.07h0.55v0.55h-0.55zM466.67,252.87h0.55v0.55h-0.55zM467.3,283.9h0.55v0.55h-0.55zM463.96,267.61h0.55v0.55h-0.55zM470.21,268.55h0.55v0.55h-0.55zM467.57,270.37h0.55v0.55h-0.55zM469.26,271.26h0.55v0.55h-0.55zM474.15,273.06h0.55v0.55h-0.55zM467.1,261.63h0.55v0.55h-0.55zM468.02,265.29h0.55v0.55h-0.55zM468.89,276.24h0.55v0.55h-0.55zM476.99,267.3h0.55v0.55h-0.55zM466.72,279.51h0.55v0.55h-0.55zM459.36,275.89h0.55v0.55h-0.55zM473.5,273.11h0.55v0.55h-0.55zM466.02,280.78h0.55v0.55h-0.55zM467.79,274.22h0.55v0.55h-0.55zM470.61,266.79h0.55v0.55h-0.55zM474.1,270.23h0.55v0.55h-0.55zM467.3,269.26h0.55v0.55h-0.55zM458.97,259.52h0.55v0.55h-0.55zM465.72,271.82h0.55v0.55h-0.55zM469.22,291.4h0.55v0.55h-0.55zM469.67,271.5h0.55v0.55h-0.55zM463.69,281.8h0.55v0.55h-0.55zM464.79,271.56h0.55v0.55h-0.55zM471.92,271.54h0.55v0.55h-0.55zM466.4,273.05h0.55v0.55h-0.55zM461.27,270.66h0.55v0.55h-0.55zM467.38,274.74h0.55v0.55h-0.55zM467.28,256.41h0.55v0.55h-0.55zM463.63,277.22h0.55v0.55h-0.55zM464.88,265.34h0.55v0.55h-0.55zM468.53,276.23h0.55v0.55h-0.55zM467.18,276.51h0.55v0.55h-0.55zM469.58,275.95h0.55v0.55h-0.55zM466.97,285.39h0.55v0.55h-0.55zM461.47,287.7h0.55v0.55h-0.55zM468.55,266.99h0.55v0.55h-0.55zM468.82,279.74h0.55v0.55h-0.55zM462.61,272.98h0.55v0.55h-0.55zM469.46,278.3h0.55v0.55h-0.55zM467.98,264.48h0.55v0.55h-0.55zM465.16,287.71h0.55v0.55h-0.55zM461.55,293.52h0.55v0.55h-0.55zM466.95,271.55h0.55v0.55h-0.55zM465,273.1h0.55v0.55h-0.55zM468.54,264.99h0.55v0.55h-0.55zM473.49,281.53h0.55v0.55h-0.55zM469.36,263.07h0.55v0.55h-0.55zM465.87,270.75h0.55v0.55h-0.55zM470,271.65h0.55v0.55h-0.55zM463.13,270.39h0.55v0.55h-0.55zM466.32,272.16h0.55v0.55h-0.55zM470.68,267.27h0.55v0.55h-0.55zM460.72,280.04h0.55v0.55h-0.55zM471.4,263.81h0.55v0.55h-0.55zM470.06,268.72h0.55v0.55h-0.55zM469.15,276.2h0.55v0.55h-0.55zM462.82,264.21h0.55v0.55h-0.55zM467.5,262.18h0.55v0.55h-0.55zM463.46,265.47h0.55v0.55h-0.55zM466.51,271.39h0.55v0.55h-0.55zM464.49,270.12h0.55v0.55h-0.55zM470.89,276.64h0.55v0.55h-0.55zM469.01,267.38h0.55v0.55h-0.55zM465.51,263.21h0.55v0.55h-0.55zM465.34,258.87h0.55v0.55h-0.55zM466.79,269.28h0.55v0.55h-0.55zM465.04,267.43h0.55v0.55h-0.55zM461.96,276.77h0.55v0.55h-0.55zM468.39,280.91h0.55v0.55h-0.55zM468.39,271.08h0.55v0.55h-0.55zM471.13,263.54h0.55v0.55h-0.55zM461.44,278.23h0.55v0.55h-0.55zM468.61,274.15h0.55v0.55h-0.55zM471.87,272.34h0.55v0.55h-0.55zM467.59,275.28h0.55v0.55h-0.55zM462.58,274.46h0.55v0.55h-0.55zM469.26,271.94h0.55v0.55h-0.55zM465.1,266.1h0.55v0.55h-0.55zM459.81,265.38h0.55v0.55h-0.55zM470.97,281.44h0.55v0.55h-0.55zM467.23,266.51h0.55v0.55h-0.55zM470.41,280.33h0.55v0.55h-0.55zM469.45,267.09h0.55v0.55h-0.55zM469.19,279.05h0.55v0.55h-0.55zM466.01,266.08h0.55v0.55h-0.55zM465.46,273.58h0.55v0.55h-0.55zM468.18,275.99h0.55v0.55h-0.55zM467.44,268.46h0.55v0.55h-0.55zM467.51,279.5h0.55v0.55h-0.55zM467.14,277.06h0.55v0.55h-0.55zM467.3,266.91h0.55v0.55h-0.55zM465.76,270.76h0.55v0.55h-0.55zM461.76,270.27h0.55v0.55h-0.55zM464.71,273.25h0.55v0.55h-0.55zM469.64,273.33h0.55v0.55h-0.55zM465.48,273.61h0.55v0.55h-0.55zM462.91,275.33h0.55v0.55h-0.55zM471.33,276.51h0.55v0.55h-0.55zM472.51,269.55h0.55v0.55h-0.55zM460.33,275.48h0.55v0.55h-0.55zM475.59,267.03h0.55v0.55h-0.55zM473.02,269.01h0.55v0.55h-0.55zM472.94,268.43h0.55v0.55h-0.55zM465.82,275.25h0.55v0.55h-0.55zM461.5,272.34h0.55v0.55h-0.55zM465.95,278.49h0.55v0.55h-0.55zM467.78,273.08h0.55v0.55h-0.55zM465.26,285.47h0.55v0.55h-0.55zM468.7,273.65h0.55v0.55h-0.55zM458.54,282.05h0.55v0.55h-0.55z" fill="#666"/>
<path d="M452,287.17h0.55v0.55h-0.55zM464.84,288.07h0.55v0.55h-0.55zM452.83,283.9h0.55v0.55h-0.55zM466.4,289.39h0.55v0.55h-0.55zM455.95,285.99h0.55v0.55h-0.55zM441.3,287.76h0.55v0.55h-0.55zM453.55,288.57h0.55v0.55h-0.55zM472.75,289.59h0.55v0.55h-0.55zM459.59,292.22h0.55v0.55h-0.55zM459.38,289.76h0.55v0.55h-0.55zM452.17,285.94h0.55v0.55h-0.55zM447.96,291.2h0.55v0.55h-0.55zM471.28,289.25h0.55v0.55h-0.55zM460.47,288.48h0.55v0.55h-0.55zM482.61,294.98h0.55v0.55h-0.55zM460.61,291.9h0.55v0.55h-0.55zM472.86,288.05h0.55v0.55h-0.55zM466.83,292.34h0.55v0.55h-0.55zM462.05,292.41h0.55v0.55h-0.55zM471.69,291.12h0.55v0.55h-0.55zM459.05,292.55h0.55v0.55h-0.55zM463.38,291.48h0.55v0.55h-0.55zM477.69,292.83h0.55v0.55h-0.55zM462.22,286.16h0.55v0.55h-0.55zM465.1,291.51h0.55v0.55h-0.55zM466.89,292.29h0.55v0.55h-0.55zM467.89,291.45h0.55v0.55h-0.55zM463.33,292.02h0.55v0.55h-0.55zM457.26,286.78h0.55v0.55h-0.55zM454.56,289.72h0.55v0.55h-0.55zM448.58,287.37h0.55v0.55h-0.55zM460.81,290.96h0.55v0.55h-0.55zM454.25,289.57h0.55v0.55h-0.55zM462.88,288.65h0.55v0.55h-0.55zM463,289.73h0.55v0.55h-0.55zM453.77,288.32h0.55v0.55h-0.55zM454.77,295.07h0.55v0.55h-0.55zM460.76,288.16h0.55v0.55h-0.55zM451.04,289.03h0.55v0.55h-0.55zM465.3,290.6h0.55v0.55h-0.55zM451.96,286.08h0.55v0.55h-0.55zM453.82,289.91h0.55v0.55h-0.55zM455.83,289.28h0.55v0.55h-0.55zM477.05,286.11h0.55v0.55h-0.55zM460.38,289.91h0.55v0.55h-0.55zM450.22,292.09h0.55v0.55h-0.55zM460.17,291.09h0.55v0.55h-0.55zM466.53,294.82h0.55v0.55h-0.55zM457.46,287.83h0.55v0.55h-0.55zM452.75,285.5h0.55v0.55h-0.55zM476.8,290.28h0.55v0.55h-0.55zM448.51,290.86h0.55v0.55h-0.55zM476.59,288.72h0.55v0.55h-0.55zM462.43,286.04h0.55v0.55h-0.55zM446.57,288.03h0.55v0.55h-0.55zM453.35,285.72h0.55v0.55h-0.55zM462.35,291.35h0.55v0.55h-0.55zM460.26,293.78h0.55v0.55h-0.55zM457.34,288.64h0.55v0.55h-0.55zM468.65,297.51h0.55v0.55h-0.55zM478.08,294.6h0.55v0.55h-0.55zM463.82,286.28h0.55v0.55h-0.55zM474.02,291.08h0.55v0.55h-0.55zM480.79,292.19h0.55v0.55h-0.55zM446.47,291.92h0.55v0.55h-0.55zM463.84,288.67h0.55v0.55h-0.55zM463.57,290.31h0.55v0.55h-0.55zM465.22,285.08h0.55v0.55h-0.55zM462.39,291.5h0.55v0.55h-0.55zM452.07,293.02h0.55v0.55h-0.55zM461.67,283.92h0.55v0.55h-0.55zM475.18,290.31h0.55v0.55h-0.55zM462.79,289.61h0.55v0.55h-0.55zM477.82,291.83h0.55v0.55h-0.55zM456.98,287.68h0.55v0.55h-0.55zM466.76,292.43h0.55v0.55h-0.55zM456.75,292.46h0.55v0.55h-0.55zM456.85,290.11h0.55v0.55h-0.55zM466.57,291.46h0.55v0.55h-0.55zM464.43,291.24h0.55v0.55h-0.55zM458.31,290.44h0.55v0.55h-0.55zM465.44,286.75h0.55v0.55h-0.55zM450.88,289.95h0.55v0.55h-0.55zM462.1,290.66h0.55v0.55h-0.55zM468.23,291.92h0.55v0.55h-0.55zM457.92,291.35h0.55v0.55h-0.55zM456.23,294.78h0.55v0.55h-0.55zM470.66,291.05h0.55v0.55h-0.55zM457.03,291.15h0.55v0.55h-0.55zM461.32,287.81h0.55v0.55h-0.55zM466.48,290.92h0.55v0.55h-0.55zM469.3,290.36h0.55v0.55h-0.55zM477.16,296.9h0.55v0.55h-0.55zM450.38,282.87h0.55v0.55h-0.55zM454.43,294.03h0.55v0.55h-0.55zM467.61,291.13h0.55v0.55h-0.55zM465,286.81h0.55v0.55h-0.55zM464.21,287.34h0.55v0.55h-0.55zM464.37,289.39h0.55v0.55h-0.55zM458.46,288.28h0.55v0.55h-0.55zM466.56,296.39h0.55v0.55h-0.55zM448.59,291h0.55v0.55h-0.55zM458.8,294.45h0.55v0.55h-0.55zM471.57,288.64h0.55v0.55h-0.55zM462.7,294.53h0.55v0.55h-0.55zM475.79,289.74h0.55v0.55h-0.55zM454.35,290.28h0.55v0.55h-0.55zM472.79,294.08h0.55v0.55h-0.55zM464.87,292.06h0.55v0.55h-0.55zM466.62,290.84h0.55v0.55h-0.55zM455.03,291.59h0.55v0.55h-0.55zM465.51,293.18h0.55v0.55h-0.55zM462.32,288.67h0.55v0.55h-0.55zM468.11,293.37h0.55v0.55h-0.55zM477.02,287.68h0.55v0.55h-0.55zM458.89,289.13h0.55v0.55h-0.55zM480.19,285.08h0.55v0.55h-0.55zM470.12,288.62h0.55v0.55h-0.55zM453.9,291.88h0.55v0.55h-0.55zM469.37,281.36h0.55v0.55h-0.55zM452.53,289.19h0.55v0.55h-0.55zM457.97,293.08h0.55v0.55h-0.55zM455.81,288.71h0.55v0.55h-0.55zM444.74,290.01h0.55v0.55h-0.55zM462.31,292.33h0.55v0.55h-0.55zM456.15,295.03h0.55v0.55h-0.55zM456.57,294.79h0.55v0.55h-0.55zM476.92,288.84h0.55v0.55h-0.55zM463.94,288.32h0.55v0.55h-0.55zM447.72,290.29h0.55v0.55h-0.55zM461.88,294.08h0.55v0.55h-0.55zM475.28,286.24h0.55v0.55h-0.55zM459.51,290.98h0.55v0.55h-0.55zM468.76,291.19h0.55v0.55h-0.55zM455.89,288.67h0.55v0.55h-0.55zM467.55,286.65h0.55v0.55h-0.55zM451.6,285.06h0.55v0.55h-0.55zM456.16,293.26h0.55v0.55h-0.55zM457.91,291.6h0.55v0.55h-0.55zM472.2,294.53h0.55v0.55h-0.55zM463.67,289.72h0.55v0.55h-0.55zM461.51,288.89h0.55v0.55h-0.55zM455.84,290.68h0.55v0.55h-0.55zM469.13,288.87h0.55v0.55h-0.55zM454.57,289.06h0.55v0.55h-0.55zM461.6,292.21h0.55v0.55h-0.55zM463.23,290.32h0.55v0.55h-0.55zM449.76,287.24h0.55v0.55h-0.55zM459.25,287.67h0.55v0.55h-0.55zM465.23,290.23h0.55v0.55h-0.55zM455.37,290.47h0.55v0.55h-0.55zM470.02,297.74h0.55v0.55h-0.55zM461.24,288.36h0.55v0.55h-0.55zM467.93,295.52h0.55v0.55h-0.55zM457.12,291.34h0.55v0.55h-0.55zM459.7,292.33h0.55v0.55h-0.55zM456.3,288.05h0.55v0.55h-0.55zM459.65,289.17h0.55v0.55h-0.55zM451.81,288.1h0.55v0.55h-0.55zM454.66,294.75h0.55v0.55h-0.55zM472.67,289.15h0.55v0.55h-0.55zM457.83,290.54h0.55v0.55h-0.55zM457.54,287.79h0.55v0.55h-0.55zM466.68,293.67h0.55v0.55h-0.55zM465.09,294.41h0.55v0.55h-0.55zM462.12,289.55h0.55v0.55h-0.55zM458.65,288.21h0.55v0.55h-0.55zM454.96,293.42h0.55v0.55h-0.55zM468.8,290.12h0.55v0.55h-0.55zM462.48,287.27h0.55v0.55h-0.55zM466.65,289.79h0.55v0.55h-0.55zM460.42,288.76h0.55v0.55h-0.55zM449.98,286.97h0.55v0.55h-0.55zM473.85,288.53h0.55v0.55h-0.55zM454.43,288.31h0.55v0.55h-0.55zM454.44,286.06h0.55v0.55h-0.55zM452.66,285.99h0.55v0.55h-0.55zM462.15,282.93h0.55v0.55h-0.55zM450.61,284.62h0.55v0.55h-0.55zM461.82,287.04h0.55v0.55h-0.55zM464.73,287.55h0.55v0.55h-0.55zM470.3,285.38h0.55v0.55h-0.55zM476.33,287.44h0.55v0.55h-0.55zM459.02,286.39h0.55v0.55h-0.55zM458.86,293.86h0.55v0.55h-0.55zM468.03,288.83h0.55v0.55h-0.55zM464.8,295.2h0.55v0.55h-0.55zM466.67,289.36h0.55v0.55h-0.55zM464.38,291.37h0.55v0.55h-0.55zM447.94,286.77h0.55v0.55h-0.55zM461.68,295.3h0.55v0.55h-0.55zM467.16,291.11h0.55v0.55h-0.55zM449.31,287.26h0.55v0.55h-0.55zM449.85,288.96h0.55v0.55h-0.55zM456.85,291.75h0.55v0.55h-0.55zM461.5,289.93h0.55v0.55h-0.55zM464,292.87h0.55v0.55h-0.55zM459.24,288.06h0.55v0.55h-0.55zM462.07,299.21h0.55v0.55h-0.55zM457.47,287.03h0.55v0.55h-0.55z" fill="#555"/>
<path d="M456.94,282.6h0.55v0.55h-0.55zM481.84,267.18h0.55v0.55h-0.55zM477.03,278.58h0.55v0.55h-0.55zM479.97,281.68h0.55v0.55h-0.55zM468.46,289.18h0.55v0.55h-0.55zM464.22,284.57h0.55v0.55h-0.55zM467.92,298.58h0.55v0.55h-0.55zM472.76,268.51h0.55v0.55h-0.55zM473.04,286.84h0.55v0.55h-0.55zM469.58,297.67h0.55v0.55h-0.55zM479.51,269.77h0.55v0.55h-0.55zM482.19,279.61h0.55v0.55h-0.55zM464.57,278.71h0.55v0.55h-0.55zM467.35,291.25h0.55v0.55h-0.55zM456.66,281.99h0.55v0.55h-0.55zM461.06,280.57h0.55v0.55h-0.55zM463.29,288.48h0.55v0.55h-0.55zM475.25,272.9h0.55v0.55h-0.55zM469.85,266.73h0.55v0.55h-0.55zM469.04,289.9h0.55v0.55h-0.55zM465.53,306.34h0.55v0.55h-0.55zM472.64,275.15h0.55v0.55h-0.55zM471.52,275.98h0.55v0.55h-0.55zM472.88,281.74h0.55v0.55h-0.55zM468.4,257h0.55v0.55h-0.55zM460.24,290.36h0.55v0.55h-0.55zM475.46,290.88h0.55v0.55h-0.55zM470.85,293.34h0.55v0.55h-0.55zM477.67,288.52h0.55v0.55h-0.55zM479.67,292.43h0.55v0.55h-0.55zM464.02,288.99h0.55v0.55h-0.55zM478.06,281.99h0.55v0.55h-0.55zM449.2,280.83h0.55v0.55h-0.55zM471.36,259.07h0.55v0.55h-0.55zM454.36,272.16h0.55v0.55h-0.55zM484.93,291.47h0.55v0.55h-0.55zM465.47,292.54h0.55v0.55h-0.55zM472.02,268.67h0.55v0.55h-0.55zM464.81,292.96h0.55v0.55h-0.55zM465.83,307.94h0.55v0.55h-0.55zM464.17,279.88h0.55v0.55h-0.55zM466.62,284.3h0.55v0.55h-0.55zM468.55,296.71h0.55v0.55h-0.55zM489.47,281.62h0.55v0.55h-0.55zM453.78,280.01h0.55v0.55h-0.55zM469.82,300.39h0.55v0.55h-0.55zM475.78,284.86h0.55v0.55h-0.55zM496.5,273.06h0.55v0.55h-0.55zM457.61,298.53h0.55v0.55h-0.55zM475.64,284.6h0.55v0.55h-0.55zM456.9,287.94h0.55v0.55h-0.55zM472.14,277.43h0.55v0.55h-0.55zM470.18,269.4h0.55v0.55h-0.55zM480.21,272.31h0.55v0.55h-0.55zM478.74,274.56h0.55v0.55h-0.55zM459.28,282.01h0.55v0.55h-0.55zM460.71,291.16h0.55v0.55h-0.55zM460.03,285.42h0.55v0.55h-0.55zM476.17,292.96h0.55v0.55h-0.55zM478.04,282.11h0.55v0.55h-0.55zM488.79,282.95h0.55v0.55h-0.55zM463.29,287.02h0.55v0.55h-0.55zM488.05,267.84h0.55v0.55h-0.55zM464.47,298.8h0.55v0.55h-0.55zM470.31,271.07h0.55v0.55h-0.55zM475.33,290.03h0.55v0.55h-0.55zM467.48,271.03h0.55v0.55h-0.55zM466.16,277.85h0.55v0.55h-0.55zM482.6,273.13h0.55v0.55h-0.55zM450.44,286.85h0.55v0.55h-0.55z" fill="#888"/>
<path d="M451.8,283 C451.88,280.5 451.97,272.67 452.3,268 C452.63,263.33 453.1,258.17 453.8,255 C454.5,251.83 455.55,250.3 456.5,249 C457.45,247.7 458.42,247.37 459.5,247.2 C460.58,247.03 462.15,247.03 463,248 C463.85,248.97 464.23,250.17 464.6,253 C464.97,255.83 465.07,260 465.2,265 C465.33,270 465.37,280 465.4,283 Z" fill="#9a9a9a" stroke="#111" stroke-width="0.6" fill-opacity="0.6"/>
<path d="M453.4,283 C453.4,258 454.4,250 459.1,250 C463.5,250 464,258 464,283" fill="none" stroke="#f4f4f4" stroke-width="0.6" />
<path d="M454.8,283 C454.8,261.5 455.8,253.5 459.3,253.5 C462.5,253.5 463,261.5 463,283" fill="none" stroke="#111" stroke-width="0.6" />
<path d="M456.2,283 C456.2,265.5 457.2,257.5 459.5,257.5 C461.5,257.5 462,265.5 462,283" fill="none" stroke="#f4f4f4" stroke-width="0.6" />
<path d="M457.5,283 C457.5,270 458.5,262 459.65,262 C460.5,262 461,270 461,283" fill="none" stroke="#111" stroke-width="0.6" />
<path d="M458.5,283 C458.5,275 459.5,267 459.75,267 C459.7,267 460.2,275 460.2,283" fill="none" stroke="#f4f4f4" stroke-width="0.6" />
<path d="M458.6,280.6 C456.85,280.63 455.35,281.82 454,282.8 C452.65,283.78 451.43,285.22 450.5,286.5 C449.57,287.78 448.68,289.32 448.4,290.5 C448.12,291.68 448.2,292.7 448.8,293.6 C449.4,294.5 450.05,295.33 452,295.9 C453.95,296.47 458,297 460.5,297 C463,297 465.22,296.48 467,295.9 C468.78,295.32 470.45,294.4 471.2,293.5 C471.95,292.6 471.95,291.67 471.5,290.5 C471.05,289.33 469.67,287.82 468.5,286.5 C467.33,285.18 466.15,283.58 464.5,282.6 C462.85,281.62 460.35,280.57 458.6,280.6Z" fill="#050505" stroke="#222" stroke-width="0.6" />
<path d="M470.5,288.5 C471.25,287.92 472.83,289 474,289.5 C475.17,290 477.5,290.88 477.5,291.5 C477.5,292.12 475.33,292.95 474,293.2 C472.67,293.45 470.08,293.78 469.5,293 C468.92,292.22 469.75,289.08 470.5,288.5Z" fill="#777" stroke="none" stroke-width="1" fill-opacity="0.75"/>
<path d="M452.5,290.5 C452.83,289.58 455.25,287.67 457,287 C458.75,286.33 461.33,286.08 463,286.5 C464.67,286.92 467.33,288.53 467,289.5 C466.67,290.47 463,291.8 461,292.3 C459,292.8 456.42,292.8 455,292.5 C453.58,292.2 452.17,291.42 452.5,290.5Z" fill="none" stroke="#3a3a3a" stroke-width="0.5" />
<rect x="436.5" y="231.4" width="77.4" height="79.6" fill="none" stroke="#555" stroke-width="0.8"/>
<text x="438.3" y="242.3" font-size="7.1" fill="#222" stroke="#222" stroke-width="0.1207">13.4%</text>
<text x="482.4" y="242.3" font-size="7.1" fill="#222" stroke="#222" stroke-width="0.1207">0.52%</text>
<text x="437.7" y="305.2" font-size="7.1" fill="#222" stroke="#222" stroke-width="0.1207">80.3%</text>
<text x="482.5" y="305.2" font-size="7.1" fill="#222" stroke="#222" stroke-width="0.1207">5.76%</text>
<line x1="547.3" y1="231.4" x2="547.3" y2="311" stroke="#4a4a4a" stroke-width="0.9"/>
<line x1="517.4" y1="282.1" x2="595.6" y2="282.1" stroke="#4a4a4a" stroke-width="0.9"/>
<path d="M537.05,274.38h0.55v0.55h-0.55zM540.5,284.51h0.55v0.55h-0.55zM535.51,265.8h0.55v0.55h-0.55zM536.38,268.64h0.55v0.55h-0.55zM538.59,261.88h0.55v0.55h-0.55zM539.69,260.94h0.55v0.55h-0.55zM540.19,264.7h0.55v0.55h-0.55zM539.1,274.33h0.55v0.55h-0.55zM538.47,266.81h0.55v0.55h-0.55zM537.02,262.87h0.55v0.55h-0.55zM542.18,275.67h0.55v0.55h-0.55zM543.07,274.13h0.55v0.55h-0.55zM539.61,266.95h0.55v0.55h-0.55zM538.48,259.75h0.55v0.55h-0.55zM540.66,278.49h0.55v0.55h-0.55zM541.73,282.03h0.55v0.55h-0.55zM536.89,252.74h0.55v0.55h-0.55zM540.38,273.12h0.55v0.55h-0.55zM536.43,264.33h0.55v0.55h-0.55zM539.91,284.42h0.55v0.55h-0.55zM539.9,266.19h0.55v0.55h-0.55zM540.25,279.34h0.55v0.55h-0.55zM535.26,276.53h0.55v0.55h-0.55zM536.08,271.18h0.55v0.55h-0.55zM539.75,271.57h0.55v0.55h-0.55zM534.62,273.73h0.55v0.55h-0.55zM534.7,276.02h0.55v0.55h-0.55zM533.89,267.2h0.55v0.55h-0.55zM537.57,265.84h0.55v0.55h-0.55zM538.97,273h0.55v0.55h-0.55zM542.96,274.66h0.55v0.55h-0.55zM541.73,262.87h0.55v0.55h-0.55zM540.9,277.65h0.55v0.55h-0.55zM541.47,281.71h0.55v0.55h-0.55zM536.75,261.25h0.55v0.55h-0.55zM536.8,266.3h0.55v0.55h-0.55zM542.78,256.63h0.55v0.55h-0.55zM538.26,278.49h0.55v0.55h-0.55zM538.65,260.49h0.55v0.55h-0.55zM536.08,274.96h0.55v0.55h-0.55zM540.44,269.96h0.55v0.55h-0.55zM538.86,281.38h0.55v0.55h-0.55zM536.9,285.66h0.55v0.55h-0.55zM535.3,285.01h0.55v0.55h-0.55zM534.37,280.79h0.55v0.55h-0.55zM539.1,259.66h0.55v0.55h-0.55zM538.61,275.1h0.55v0.55h-0.55zM539.94,271.93h0.55v0.55h-0.55zM538.17,268.77h0.55v0.55h-0.55zM538.3,280.03h0.55v0.55h-0.55zM539.44,276.23h0.55v0.55h-0.55zM538.47,281.43h0.55v0.55h-0.55zM543.78,287.72h0.55v0.55h-0.55zM535.74,264.42h0.55v0.55h-0.55zM535.97,268.21h0.55v0.55h-0.55zM543.63,268.54h0.55v0.55h-0.55zM538.84,269.46h0.55v0.55h-0.55zM534.11,261.87h0.55v0.55h-0.55zM536.96,264.5h0.55v0.55h-0.55zM537.79,267.43h0.55v0.55h-0.55zM538.52,258.86h0.55v0.55h-0.55zM540.89,274.76h0.55v0.55h-0.55zM536.84,267.24h0.55v0.55h-0.55zM536.97,256.53h0.55v0.55h-0.55zM540.38,267.75h0.55v0.55h-0.55zM540.66,282.32h0.55v0.55h-0.55zM535.49,262.32h0.55v0.55h-0.55zM540.03,266.91h0.55v0.55h-0.55zM536.92,267.81h0.55v0.55h-0.55zM540.09,260.8h0.55v0.55h-0.55zM538.28,279.22h0.55v0.55h-0.55zM537.19,268.09h0.55v0.55h-0.55zM539.26,278.28h0.55v0.55h-0.55zM540.84,274.7h0.55v0.55h-0.55zM542.91,266.39h0.55v0.55h-0.55zM542.5,275.59h0.55v0.55h-0.55zM538.25,260.23h0.55v0.55h-0.55zM542.39,273.18h0.55v0.55h-0.55zM539.36,282.94h0.55v0.55h-0.55zM537.19,276.95h0.55v0.55h-0.55zM540.14,283.53h0.55v0.55h-0.55zM538.66,285.02h0.55v0.55h-0.55zM537.16,270.59h0.55v0.55h-0.55zM537.2,263.8h0.55v0.55h-0.55zM542.79,273.42h0.55v0.55h-0.55zM538.35,272.52h0.55v0.55h-0.55zM539.46,259.81h0.55v0.55h-0.55zM537.19,273.89h0.55v0.55h-0.55zM535.44,269.28h0.55v0.55h-0.55zM537.85,263.42h0.55v0.55h-0.55zM535.24,266.21h0.55v0.55h-0.55zM538.85,275.13h0.55v0.55h-0.55zM534.45,271.94h0.55v0.55h-0.55zM540.68,258.12h0.55v0.55h-0.55zM534.78,274.96h0.55v0.55h-0.55zM540.15,275.38h0.55v0.55h-0.55zM542.39,276.62h0.55v0.55h-0.55zM542.07,271.16h0.55v0.55h-0.55zM538.87,264.26h0.55v0.55h-0.55zM538.92,268.18h0.55v0.55h-0.55zM536.73,275.64h0.55v0.55h-0.55zM539.63,267.8h0.55v0.55h-0.55zM538.93,273.57h0.55v0.55h-0.55zM539.9,265.98h0.55v0.55h-0.55zM540.38,267.62h0.55v0.55h-0.55zM539.52,267.1h0.55v0.55h-0.55zM544.33,260.42h0.55v0.55h-0.55zM541.53,263.71h0.55v0.55h-0.55zM543.2,261.82h0.55v0.55h-0.55zM540.44,269.83h0.55v0.55h-0.55zM541.44,261.28h0.55v0.55h-0.55zM537.5,274.45h0.55v0.55h-0.55zM540.92,266.45h0.55v0.55h-0.55zM533.73,268.01h0.55v0.55h-0.55zM536.65,271.45h0.55v0.55h-0.55zM537.74,263.01h0.55v0.55h-0.55zM537.45,281.6h0.55v0.55h-0.55zM540.13,268.1h0.55v0.55h-0.55zM540.58,260.27h0.55v0.55h-0.55zM536.98,270.28h0.55v0.55h-0.55zM537.75,266.06h0.55v0.55h-0.55zM537.79,284.7h0.55v0.55h-0.55zM538.21,274.05h0.55v0.55h-0.55zM543.83,252.48h0.55v0.55h-0.55zM537.33,277.66h0.55v0.55h-0.55zM534.81,267.58h0.55v0.55h-0.55zM541.91,271.95h0.55v0.55h-0.55zM538.26,287.03h0.55v0.55h-0.55zM533.12,279.34h0.55v0.55h-0.55zM535.02,273.98h0.55v0.55h-0.55zM540.01,272.19h0.55v0.55h-0.55zM537.52,277.4h0.55v0.55h-0.55zM539.34,277.53h0.55v0.55h-0.55zM540.9,275.88h0.55v0.55h-0.55zM543.26,268.05h0.55v0.55h-0.55zM534.3,257.04h0.55v0.55h-0.55zM538.53,261.15h0.55v0.55h-0.55zM537.5,271.72h0.55v0.55h-0.55zM542.96,261.95h0.55v0.55h-0.55zM540.24,261.01h0.55v0.55h-0.55zM541.64,254.82h0.55v0.55h-0.55zM542.65,269.1h0.55v0.55h-0.55zM544.2,273.02h0.55v0.55h-0.55zM536.26,267.71h0.55v0.55h-0.55zM536.66,273.25h0.55v0.55h-0.55zM541.65,273.22h0.55v0.55h-0.55zM537.85,268.96h0.55v0.55h-0.55zM543.44,264.19h0.55v0.55h-0.55zM540.79,264.58h0.55v0.55h-0.55zM536.21,276.12h0.55v0.55h-0.55zM533.75,283.47h0.55v0.55h-0.55zM543.35,263.96h0.55v0.55h-0.55zM535.71,269.82h0.55v0.55h-0.55zM538,265.63h0.55v0.55h-0.55zM540.36,289.68h0.55v0.55h-0.55zM537.99,276.49h0.55v0.55h-0.55zM537.46,271.09h0.55v0.55h-0.55zM537.13,270.32h0.55v0.55h-0.55zM539.1,268.48h0.55v0.55h-0.55zM539.37,265.79h0.55v0.55h-0.55zM540.13,258.85h0.55v0.55h-0.55zM539.99,269.87h0.55v0.55h-0.55zM539.87,270.69h0.55v0.55h-0.55zM538.29,271.67h0.55v0.55h-0.55zM537.5,271.06h0.55v0.55h-0.55zM533.54,265.18h0.55v0.55h-0.55zM539.68,261.13h0.55v0.55h-0.55zM543.87,282.36h0.55v0.55h-0.55zM533.99,283.64h0.55v0.55h-0.55zM539.5,275.74h0.55v0.55h-0.55zM542.45,267.45h0.55v0.55h-0.55zM539.18,278.17h0.55v0.55h-0.55zM536.81,269.51h0.55v0.55h-0.55zM538.55,273.88h0.55v0.55h-0.55zM536.04,270.45h0.55v0.55h-0.55zM536.57,277.39h0.55v0.55h-0.55zM536.87,276.61h0.55v0.55h-0.55zM538.82,267.06h0.55v0.55h-0.55zM540.44,275.4h0.55v0.55h-0.55zM537.44,278.66h0.55v0.55h-0.55zM542.84,258.14h0.55v0.55h-0.55zM541.42,256.73h0.55v0.55h-0.55zM538.45,277.41h0.55v0.55h-0.55zM539.83,274.81h0.55v0.55h-0.55zM538.12,276.16h0.55v0.55h-0.55zM534.93,285.23h0.55v0.55h-0.55zM533.45,269.31h0.55v0.55h-0.55zM534.67,268.82h0.55v0.55h-0.55zM537.36,262.71h0.55v0.55h-0.55zM541.58,266.85h0.55v0.55h-0.55zM536.78,270.8h0.55v0.55h-0.55zM540.35,275.42h0.55v0.55h-0.55zM537.34,273h0.55v0.55h-0.55zM538.95,270.63h0.55v0.55h-0.55zM536.72,272.81h0.55v0.55h-0.55zM534.31,278.06h0.55v0.55h-0.55zM540.93,269.53h0.55v0.55h-0.55zM538.02,256.6h0.55v0.55h-0.55zM537.56,277.78h0.55v0.55h-0.55zM534.06,276.2h0.55v0.55h-0.55z" fill="#555"/>
<path d="M541.77,291.27h0.55v0.55h-0.55zM541.76,294.34h0.55v0.55h-0.55zM542.38,286.67h0.55v0.55h-0.55zM546.07,291.37h0.55v0.55h-0.55zM541.02,292.21h0.55v0.55h-0.55zM544.67,296.26h0.55v0.55h-0.55zM548.84,292.97h0.55v0.55h-0.55zM536.74,287.8h0.55v0.55h-0.55zM544.75,296.79h0.55v0.55h-0.55zM543.41,291.67h0.55v0.55h-0.55zM548.27,287.42h0.55v0.55h-0.55zM540.03,293.43h0.55v0.55h-0.55zM550.91,291.95h0.55v0.55h-0.55zM546.29,293.2h0.55v0.55h-0.55zM550.39,288.83h0.55v0.55h-0.55zM548.62,287.24h0.55v0.55h-0.55zM519.75,287.53h0.55v0.55h-0.55zM534.49,294.23h0.55v0.55h-0.55zM549.37,288.35h0.55v0.55h-0.55zM550.94,289.27h0.55v0.55h-0.55zM542.33,290.9h0.55v0.55h-0.55zM543.74,294.95h0.55v0.55h-0.55zM548.59,293.79h0.55v0.55h-0.55zM548.65,294.25h0.55v0.55h-0.55zM537.64,288.94h0.55v0.55h-0.55zM538.62,293.32h0.55v0.55h-0.55zM539.94,299.91h0.55v0.55h-0.55zM536.05,287.44h0.55v0.55h-0.55zM549.38,297.64h0.55v0.55h-0.55zM547.24,295.37h0.55v0.55h-0.55zM555.81,292.95h0.55v0.55h-0.55zM530.44,288.87h0.55v0.55h-0.55zM552.04,287.83h0.55v0.55h-0.55zM543.21,292.91h0.55v0.55h-0.55zM539.92,294.24h0.55v0.55h-0.55zM547.39,300.61h0.55v0.55h-0.55zM548.76,290.43h0.55v0.55h-0.55zM538.26,288.6h0.55v0.55h-0.55zM551.73,290.88h0.55v0.55h-0.55zM542.11,294.55h0.55v0.55h-0.55zM536.62,290.33h0.55v0.55h-0.55zM526.89,286.58h0.55v0.55h-0.55zM537.77,292.94h0.55v0.55h-0.55zM553.69,293.01h0.55v0.55h-0.55zM545.28,292.82h0.55v0.55h-0.55zM552.4,296.09h0.55v0.55h-0.55zM545.8,288.73h0.55v0.55h-0.55zM550.96,294.14h0.55v0.55h-0.55zM554,293h0.55v0.55h-0.55zM560.62,292.51h0.55v0.55h-0.55zM557.23,293.83h0.55v0.55h-0.55zM538.77,287.61h0.55v0.55h-0.55zM541.15,296.82h0.55v0.55h-0.55zM550.07,295.13h0.55v0.55h-0.55zM521.48,292.34h0.55v0.55h-0.55zM548.17,290.58h0.55v0.55h-0.55zM537.38,291.43h0.55v0.55h-0.55zM558.82,289.88h0.55v0.55h-0.55zM538.69,296.36h0.55v0.55h-0.55zM539.13,290.33h0.55v0.55h-0.55zM544.31,287.77h0.55v0.55h-0.55zM545.39,287.99h0.55v0.55h-0.55zM550.93,292.81h0.55v0.55h-0.55zM563.35,295.03h0.55v0.55h-0.55zM555.69,288.69h0.55v0.55h-0.55zM541.79,293.02h0.55v0.55h-0.55zM559.22,287.71h0.55v0.55h-0.55zM551.66,294.95h0.55v0.55h-0.55zM556.48,295.86h0.55v0.55h-0.55zM543.65,290.23h0.55v0.55h-0.55zM531.75,291.56h0.55v0.55h-0.55zM540.58,298.86h0.55v0.55h-0.55zM537.42,292.57h0.55v0.55h-0.55zM529.09,289.21h0.55v0.55h-0.55zM545.05,295.1h0.55v0.55h-0.55zM555.98,293.15h0.55v0.55h-0.55zM532.84,292.59h0.55v0.55h-0.55zM547.46,294.18h0.55v0.55h-0.55zM536.33,295.32h0.55v0.55h-0.55zM543.54,294.52h0.55v0.55h-0.55zM554.2,295.27h0.55v0.55h-0.55zM544.81,299.75h0.55v0.55h-0.55zM545.29,291.19h0.55v0.55h-0.55zM543.48,297.26h0.55v0.55h-0.55zM543.88,293.92h0.55v0.55h-0.55zM553.89,291.29h0.55v0.55h-0.55zM527.43,291.49h0.55v0.55h-0.55zM545.27,290.09h0.55v0.55h-0.55zM550.59,294.9h0.55v0.55h-0.55zM533.91,292.91h0.55v0.55h-0.55zM541.76,286.66h0.55v0.55h-0.55zM547.07,292.25h0.55v0.55h-0.55zM536.14,293.15h0.55v0.55h-0.55zM547.57,290.43h0.55v0.55h-0.55zM546.23,295.89h0.55v0.55h-0.55zM536.48,292.69h0.55v0.55h-0.55zM542.23,299.89h0.55v0.55h-0.55zM526.08,292.75h0.55v0.55h-0.55zM540.29,291.38h0.55v0.55h-0.55zM560.03,293.68h0.55v0.55h-0.55zM563.22,292.47h0.55v0.55h-0.55zM546.31,290.61h0.55v0.55h-0.55zM536.79,291.6h0.55v0.55h-0.55zM540.4,292.45h0.55v0.55h-0.55zM523.45,297.08h0.55v0.55h-0.55zM540.9,297.92h0.55v0.55h-0.55zM533.88,292.11h0.55v0.55h-0.55zM571.65,291.81h0.55v0.55h-0.55zM529.8,288.75h0.55v0.55h-0.55zM546.99,294.84h0.55v0.55h-0.55zM554.65,292.26h0.55v0.55h-0.55zM528.8,289.05h0.55v0.55h-0.55zM553.94,294.74h0.55v0.55h-0.55zM525.49,290.12h0.55v0.55h-0.55zM554.78,300.66h0.55v0.55h-0.55zM547.92,293.58h0.55v0.55h-0.55zM532.19,287.95h0.55v0.55h-0.55zM543.24,293.79h0.55v0.55h-0.55zM548.36,290.86h0.55v0.55h-0.55zM532.96,288.26h0.55v0.55h-0.55zM532.41,293.2h0.55v0.55h-0.55zM522.41,288.76h0.55v0.55h-0.55zM546.5,297.7h0.55v0.55h-0.55zM543.29,295.55h0.55v0.55h-0.55zM539.69,289.05h0.55v0.55h-0.55zM536.43,296.71h0.55v0.55h-0.55zM551.73,294.59h0.55v0.55h-0.55zM572.83,294.88h0.55v0.55h-0.55zM548.45,293.63h0.55v0.55h-0.55zM540.2,299.87h0.55v0.55h-0.55zM556.98,288.48h0.55v0.55h-0.55zM539.27,293.13h0.55v0.55h-0.55zM550.48,288.01h0.55v0.55h-0.55zM523.47,283.33h0.55v0.55h-0.55zM542.4,291.58h0.55v0.55h-0.55zM546.36,289.63h0.55v0.55h-0.55zM532.74,283.85h0.55v0.55h-0.55zM545.82,293.58h0.55v0.55h-0.55zM551.62,295.65h0.55v0.55h-0.55zM540.82,296.53h0.55v0.55h-0.55zM542.01,289.58h0.55v0.55h-0.55zM538.54,289.5h0.55v0.55h-0.55zM523.55,290.6h0.55v0.55h-0.55zM545.36,290.96h0.55v0.55h-0.55zM536.48,292.65h0.55v0.55h-0.55zM558.36,293.68h0.55v0.55h-0.55zM538.66,289.48h0.55v0.55h-0.55zM542.82,287.53h0.55v0.55h-0.55zM541.86,292.1h0.55v0.55h-0.55zM559.19,296.94h0.55v0.55h-0.55zM552.51,290.45h0.55v0.55h-0.55zM549.4,288.63h0.55v0.55h-0.55zM545.65,293.74h0.55v0.55h-0.55zM535.44,298.27h0.55v0.55h-0.55zM548.75,285.88h0.55v0.55h-0.55zM548.09,291.08h0.55v0.55h-0.55zM542.85,293.62h0.55v0.55h-0.55zM547.21,285.25h0.55v0.55h-0.55zM532.36,293.65h0.55v0.55h-0.55zM553.99,299.8h0.55v0.55h-0.55zM559.87,286.46h0.55v0.55h-0.55zM550.56,286.02h0.55v0.55h-0.55zM557.36,294.33h0.55v0.55h-0.55zM532.08,297.97h0.55v0.55h-0.55zM549.43,285.99h0.55v0.55h-0.55zM545.88,289.72h0.55v0.55h-0.55zM544.16,290.48h0.55v0.55h-0.55zM555.8,288.28h0.55v0.55h-0.55zM545.21,298.6h0.55v0.55h-0.55zM535.52,291.99h0.55v0.55h-0.55zM545.05,289.78h0.55v0.55h-0.55zM548.77,292.92h0.55v0.55h-0.55zM533.93,297.29h0.55v0.55h-0.55zM550.15,292.13h0.55v0.55h-0.55zM537.57,288.7h0.55v0.55h-0.55zM554.07,292.6h0.55v0.55h-0.55zM547.18,291.77h0.55v0.55h-0.55zM548.56,292.15h0.55v0.55h-0.55zM549.9,292.05h0.55v0.55h-0.55zM550.19,295.09h0.55v0.55h-0.55zM542.26,288.9h0.55v0.55h-0.55zM534.84,288.58h0.55v0.55h-0.55zM533.88,294.13h0.55v0.55h-0.55zM542.03,297.43h0.55v0.55h-0.55zM563.4,294.13h0.55v0.55h-0.55zM529.27,289.28h0.55v0.55h-0.55zM542.85,286.75h0.55v0.55h-0.55zM540.66,292.77h0.55v0.55h-0.55zM539.15,288.91h0.55v0.55h-0.55zM535.58,297.54h0.55v0.55h-0.55zM541.86,288.97h0.55v0.55h-0.55zM539.33,294.99h0.55v0.55h-0.55zM536.7,293.06h0.55v0.55h-0.55zM549.26,295.26h0.55v0.55h-0.55zM555.73,291.34h0.55v0.55h-0.55zM553.42,290.26h0.55v0.55h-0.55zM539.03,295.81h0.55v0.55h-0.55zM550.36,292.75h0.55v0.55h-0.55zM532.13,292.89h0.55v0.55h-0.55zM537.68,288.22h0.55v0.55h-0.55zM537.11,292.28h0.55v0.55h-0.55zM523.88,291.35h0.55v0.55h-0.55zM544.76,290.12h0.55v0.55h-0.55zM552.07,295.06h0.55v0.55h-0.55zM537.8,289.12h0.55v0.55h-0.55zM549.75,287.34h0.55v0.55h-0.55zM540.24,289.5h0.55v0.55h-0.55zM543.55,292.8h0.55v0.55h-0.55zM542.93,295.99h0.55v0.55h-0.55zM545.15,291.11h0.55v0.55h-0.55zM531.9,293.43h0.55v0.55h-0.55zM547.22,297.53h0.55v0.55h-0.55zM536.3,291.42h0.55v0.55h-0.55zM542.51,291.64h0.55v0.55h-0.55zM543.69,286.04h0.55v0.55h-0.55zM550.16,295.02h0.55v0.55h-0.55zM552.34,300.85h0.55v0.55h-0.55zM540.16,291.59h0.55v0.55h-0.55zM542.41,298.77h0.55v0.55h-0.55zM527.33,292.14h0.55v0.55h-0.55z" fill="#555"/>
<path d="M562.98,270.18h0.5v0.5h-0.5zM553.27,277.26h0.5v0.5h-0.5zM534.93,243.1h0.5v0.5h-0.5zM531.51,269.77h0.5v0.5h-0.5zM557.68,266.79h0.5v0.5h-0.5zM528.68,284.68h0.5v0.5h-0.5zM525.74,258.17h0.5v0.5h-0.5zM538.16,268.51h0.5v0.5h-0.5zM558.17,244.1h0.5v0.5h-0.5zM541.17,269.42h0.5v0.5h-0.5zM531,263.72h0.5v0.5h-0.5zM547.26,246.3h0.5v0.5h-0.5zM529.31,264.23h0.5v0.5h-0.5zM542.28,268.1h0.5v0.5h-0.5zM571.54,277.53h0.5v0.5h-0.5zM550.34,255.06h0.5v0.5h-0.5zM556.17,254.05h0.5v0.5h-0.5zM563.83,281.61h0.5v0.5h-0.5zM520.94,248.55h0.5v0.5h-0.5zM542.71,259.38h0.5v0.5h-0.5zM529.87,247.84h0.5v0.5h-0.5zM553.67,257.55h0.5v0.5h-0.5zM526.66,261.07h0.5v0.5h-0.5zM556.63,288.56h0.5v0.5h-0.5zM545.74,260.6h0.5v0.5h-0.5zM535.35,257.71h0.5v0.5h-0.5zM551.4,282.55h0.5v0.5h-0.5zM559.92,261.59h0.5v0.5h-0.5zM555.62,275.69h0.5v0.5h-0.5zM544.24,261.03h0.5v0.5h-0.5zM560.93,261.04h0.5v0.5h-0.5zM550.41,268.66h0.5v0.5h-0.5zM560.2,275.67h0.5v0.5h-0.5zM557.34,285.94h0.5v0.5h-0.5zM556.51,275.96h0.5v0.5h-0.5zM541.87,266.36h0.5v0.5h-0.5zM570.95,265.48h0.5v0.5h-0.5zM551.12,263.94h0.5v0.5h-0.5zM565.54,248.45h0.5v0.5h-0.5zM535.02,283.96h0.5v0.5h-0.5zM538.27,239.19h0.5v0.5h-0.5zM552.39,254.2h0.5v0.5h-0.5zM543.76,258.99h0.5v0.5h-0.5zM552.68,296.64h0.5v0.5h-0.5zM529.94,277h0.5v0.5h-0.5zM536.71,260.03h0.5v0.5h-0.5zM522.32,249.05h0.5v0.5h-0.5z" fill="#888"/>
<path d="M535.93,252.04h0.5v0.5h-0.5zM538.11,248.57h0.5v0.5h-0.5zM537.56,250.72h0.5v0.5h-0.5zM537.65,250.27h0.5v0.5h-0.5zM538.5,253h0.5v0.5h-0.5zM539.8,249.7h0.5v0.5h-0.5zM536.4,252.11h0.5v0.5h-0.5zM537.02,247.51h0.5v0.5h-0.5zM540.08,252.57h0.5v0.5h-0.5zM536.96,249.02h0.5v0.5h-0.5zM538.11,250.57h0.5v0.5h-0.5zM538.19,249.63h0.5v0.5h-0.5zM534.7,244.38h0.5v0.5h-0.5zM538.95,250.65h0.5v0.5h-0.5zM534.19,250.95h0.5v0.5h-0.5zM537.94,252.15h0.5v0.5h-0.5zM537.51,250.95h0.5v0.5h-0.5zM536.23,245.1h0.5v0.5h-0.5zM537.12,250.32h0.5v0.5h-0.5zM536.94,245.22h0.5v0.5h-0.5zM536.74,247.8h0.5v0.5h-0.5zM538.53,246.3h0.5v0.5h-0.5zM535.92,248h0.5v0.5h-0.5zM537.67,253.29h0.5v0.5h-0.5zM538.12,245.62h0.5v0.5h-0.5z" fill="#777"/>
<path d="M533.4,283 C533.4,280.83 533.27,273.67 533.4,270 C533.53,266.33 533.67,263.28 534.2,261 C534.73,258.72 535.8,257 536.6,256.3 C537.4,255.6 538.3,256.02 539,256.8 C539.7,257.58 540.33,258.8 540.8,261 C541.27,263.2 541.5,266.33 541.8,270 C542.1,273.67 542.47,280.83 542.6,283 Z" fill="#fff" stroke="#000" stroke-width="0.7" />
<path d="M534.8,283 C534.8,265.5 535.4,259.5 537.9,259.5 C540.4,259.5 541,265.5 541,283" fill="none" stroke="#000" stroke-width="0.6" />
<path d="M535.8,283 C535.8,269.5 536.4,263.5 537.9,263.5 C539.4,263.5 540,269.5 540,283" fill="none" stroke="#000" stroke-width="0.6" />
<path d="M536.7,283 C536.7,274 537.3,268 537.95,268 C538.6,268 539.2,274 539.2,283" fill="none" stroke="#000" stroke-width="0.6" />
<path d="M537.4,283 C537.4,278.5 538,272.5 538,272.5 C538,272.5 538.6,278.5 538.6,283" fill="none" stroke="#000" stroke-width="0.6" />
<path d="M538.2,281.9 C536.95,282.23 534.45,283.32 533,284.5 C531.55,285.68 530.27,287.58 529.5,289 C528.73,290.42 528.4,291.75 528.4,293 C528.4,294.25 528.4,295.7 529.5,296.5 C530.6,297.3 533.08,297.55 535,297.8 C536.92,298.05 539,298.17 541,298 C543,297.83 545.17,297.33 547,296.8 C548.83,296.27 550.78,295.43 552,294.8 C553.22,294.17 554.8,293.97 554.3,293 C553.8,292.03 550.8,290.33 549,289 C547.2,287.67 544.92,286.08 543.5,285 C542.08,283.92 541.38,283.02 540.5,282.5 C539.62,281.98 539.45,281.57 538.2,281.9Z" fill="#050505" stroke="#222" stroke-width="0.6" />
<path d="M551,291 C552.25,290.37 554.33,291.83 555.5,292.5 C556.67,293.17 558.42,294.28 558,295 C557.58,295.72 554.67,296.58 553,296.8 C551.33,297.02 548.33,297.27 548,296.3 C547.67,295.33 549.75,291.63 551,291Z" fill="#777" stroke="none" stroke-width="1" fill-opacity="0.75"/>
<path d="M531,293.5 C531.33,292.37 534,289.83 536,289 C538,288.17 540.83,287.92 543,288.5 C545.17,289.08 549.33,291.28 549,292.5 C548.67,293.72 543.5,295.25 541,295.8 C538.5,296.35 535.67,296.18 534,295.8 C532.33,295.42 530.67,294.63 531,293.5Z" fill="none" stroke="#3a3a3a" stroke-width="0.5" />
<rect x="517.4" y="231.4" width="78.2" height="79.6" fill="none" stroke="#555" stroke-width="0.8"/>
<text x="518.9" y="242.3" font-size="7.1" fill="#6a38b0" stroke="#6a38b0" stroke-width="0.1207">6.85%</text>
<text x="557.3" y="242.3" font-size="7.1" fill="#222" stroke="#222" stroke-width="0.1207">0.014%</text>
<text x="520" y="305.2" font-size="7.1" fill="#222" stroke="#222" stroke-width="0.1207">90.3%</text>
<text x="563.8" y="305.2" font-size="7.1" fill="#6a38b0" stroke="#6a38b0" stroke-width="0.1207">2.86%</text>
<path d="M434.7,309h1.8M434.7,305h1.8M434.7,299h1.8M434.7,289h1.8M434.7,283h1.8M434.7,280h1.8M434.7,278h1.8M434.7,267h1.8M434.7,261h1.8M434.7,258h1.8M434.7,256h1.8M434.7,245h1.8M434.7,239h1.8M434.7,236h1.8M439.5,311v1.8M441.5,311v1.8M445.5,311v1.8M453.5,311v1.8M460.5,311v1.8M464.5,311v1.8M466.5,311v1.8M476.5,311v1.8M483.5,311v1.8M486.5,311v1.8M488.5,311v1.8M498.5,311v1.8M504.5,311v1.8M507.5,311v1.8M509.5,311v1.8" stroke="#555" stroke-width="0.6" fill="none"/>
<path d="M515.6,309h1.8M515.6,305h1.8M515.6,299h1.8M515.6,289h1.8M515.6,283h1.8M515.6,280h1.8M515.6,278h1.8M515.6,267h1.8M515.6,261h1.8M515.6,258h1.8M515.6,256h1.8M515.6,245h1.8M515.6,239h1.8M515.6,236h1.8M520.4,311v1.8M522.4,311v1.8M526.4,311v1.8M534.4,311v1.8M541.4,311v1.8M545.4,311v1.8M547.4,311v1.8M557.4,311v1.8M564.4,311v1.8M567.4,311v1.8M569.4,311v1.8M579.4,311v1.8M585.4,311v1.8M588.4,311v1.8M590.4,311v1.8" stroke="#555" stroke-width="0.6" fill="none"/>
<text transform="translate(433.6,310.6) rotate(-90)" font-size="9.0" fill="#111" stroke="#111" stroke-width="0.15300000000000002">IL-17A</text>
<line x1="429.5" y1="282.6" x2="429.5" y2="263" stroke="#111" stroke-width="0.8"/>
<path d="M428.1,264 L429.5,259.6 L430.9,264Z" fill="#111" stroke="none" stroke-width="1" />
<text x="436.8" y="323.3" font-size="8.8" fill="#111" stroke="#111" stroke-width="0.1496">FoxP3</text>
<line x1="464.3" y1="321.1" x2="487.1" y2="321.1" stroke="#111" stroke-width="0.8"/>
<path d="M486.1,319.7 L490.1,321.1 L486.1,322.5Z" fill="#111" stroke="none" stroke-width="1" />
<text x="598.5" y="226" font-size="15" fill="#000" font-weight="bold">q)</text>
<line x1="630.3" y1="241.9" x2="630.3" y2="310.1" stroke="#333" stroke-width="0.7"/>
<line x1="630.3" y1="310.1" x2="672" y2="310.1" stroke="#333" stroke-width="0.7"/>
<line x1="626.8" y1="310.1" x2="630.3" y2="310.1" stroke="#333" stroke-width="0.7"/>
<text x="626.2" y="313.05" font-size="8.3" fill="#333" text-anchor="end" stroke="#333" stroke-width="0.14110000000000003">0</text>
<line x1="626.8" y1="296.46" x2="630.3" y2="296.46" stroke="#333" stroke-width="0.7"/>
<text x="626.2" y="299.41" font-size="8.3" fill="#333" text-anchor="end" stroke="#333" stroke-width="0.14110000000000003">2</text>
<line x1="626.8" y1="282.82" x2="630.3" y2="282.82" stroke="#333" stroke-width="0.7"/>
<text x="626.2" y="285.77" font-size="8.3" fill="#333" text-anchor="end" stroke="#333" stroke-width="0.14110000000000003">4</text>
<line x1="626.8" y1="269.18" x2="630.3" y2="269.18" stroke="#333" stroke-width="0.7"/>
<text x="626.2" y="272.13" font-size="8.3" fill="#333" text-anchor="end" stroke="#333" stroke-width="0.14110000000000003">6</text>
<line x1="626.8" y1="255.54" x2="630.3" y2="255.54" stroke="#333" stroke-width="0.7"/>
<text x="626.2" y="258.49" font-size="8.3" fill="#333" text-anchor="end" stroke="#333" stroke-width="0.14110000000000003">8</text>
<line x1="626.8" y1="241.9" x2="630.3" y2="241.9" stroke="#333" stroke-width="0.7"/>
<text x="626.2" y="244.85" font-size="8.3" fill="#333" text-anchor="end" stroke="#333" stroke-width="0.14110000000000003">10</text>
<line x1="642.55" y1="310.1" x2="642.55" y2="311.9" stroke="#333" stroke-width="0.6"/>
<line x1="660.9" y1="310.1" x2="660.9" y2="311.9" stroke="#333" stroke-width="0.6"/>
<line x1="642.5" y1="268.6" x2="642.5" y2="259.5" stroke="#333" stroke-width="0.7"/>
<line x1="641" y1="259.5" x2="644" y2="259.5" stroke="#333" stroke-width="0.7"/>
<rect x="636.6" y="268.6" width="11.9" height="41.5" fill="#bdbdbd" stroke="#222" stroke-width="0.7"/>
<rect x="654.8" y="294.9" width="12.2" height="15.2" fill="#5020a8" stroke="#2b0c5c" stroke-width="0.7"/>
<circle cx="642.1" cy="253.5" r="3.2" fill="#000"/>
<circle cx="645.2" cy="266.4" r="3.2" fill="#000"/>
<circle cx="643.8" cy="272" r="3.2" fill="#000"/>
<circle cx="639.4" cy="276.7" r="3.2" fill="#000"/>
<circle cx="643.8" cy="276.7" r="3.2" fill="#000"/>
<circle cx="658.1" cy="288.5" r="3.2" fill="#a232f2" stroke="#3d0a7a" stroke-width="0.6"/>
<circle cx="663.7" cy="290.5" r="3.2" fill="#a232f2" stroke="#3d0a7a" stroke-width="0.6"/>
<circle cx="661" cy="295.4" r="3.2" fill="#a232f2" stroke="#3d0a7a" stroke-width="0.6"/>
<circle cx="658.7" cy="299.6" r="3.2" fill="#a232f2" stroke="#3d0a7a" stroke-width="0.6"/>
<circle cx="663.7" cy="301.8" r="3.2" fill="#a232f2" stroke="#3d0a7a" stroke-width="0.6"/>
<circle cx="660.5" cy="304" r="3.2" fill="#a232f2" stroke="#3d0a7a" stroke-width="0.6"/>
<path d="M643,248.5V245.2H661V286" fill="none" stroke="#555" stroke-width="0.7" />
<text x="652" y="246.3" font-size="9" fill="#111" text-anchor="middle" font-weight="bold">***</text>
<text transform="translate(605.5,275.4) rotate(-90)" font-size="7.4" fill="#222" text-anchor="middle" stroke="#222" stroke-width="0.12580000000000002">CD4<tspan baseline-shift="super" font-size="4.9">+</tspan>IL-17A<tspan baseline-shift="super" font-size="4.9">-</tspan>FoxP3<tspan baseline-shift="super" font-size="4.9">+</tspan> (%)</text>
</svg></body></html>
